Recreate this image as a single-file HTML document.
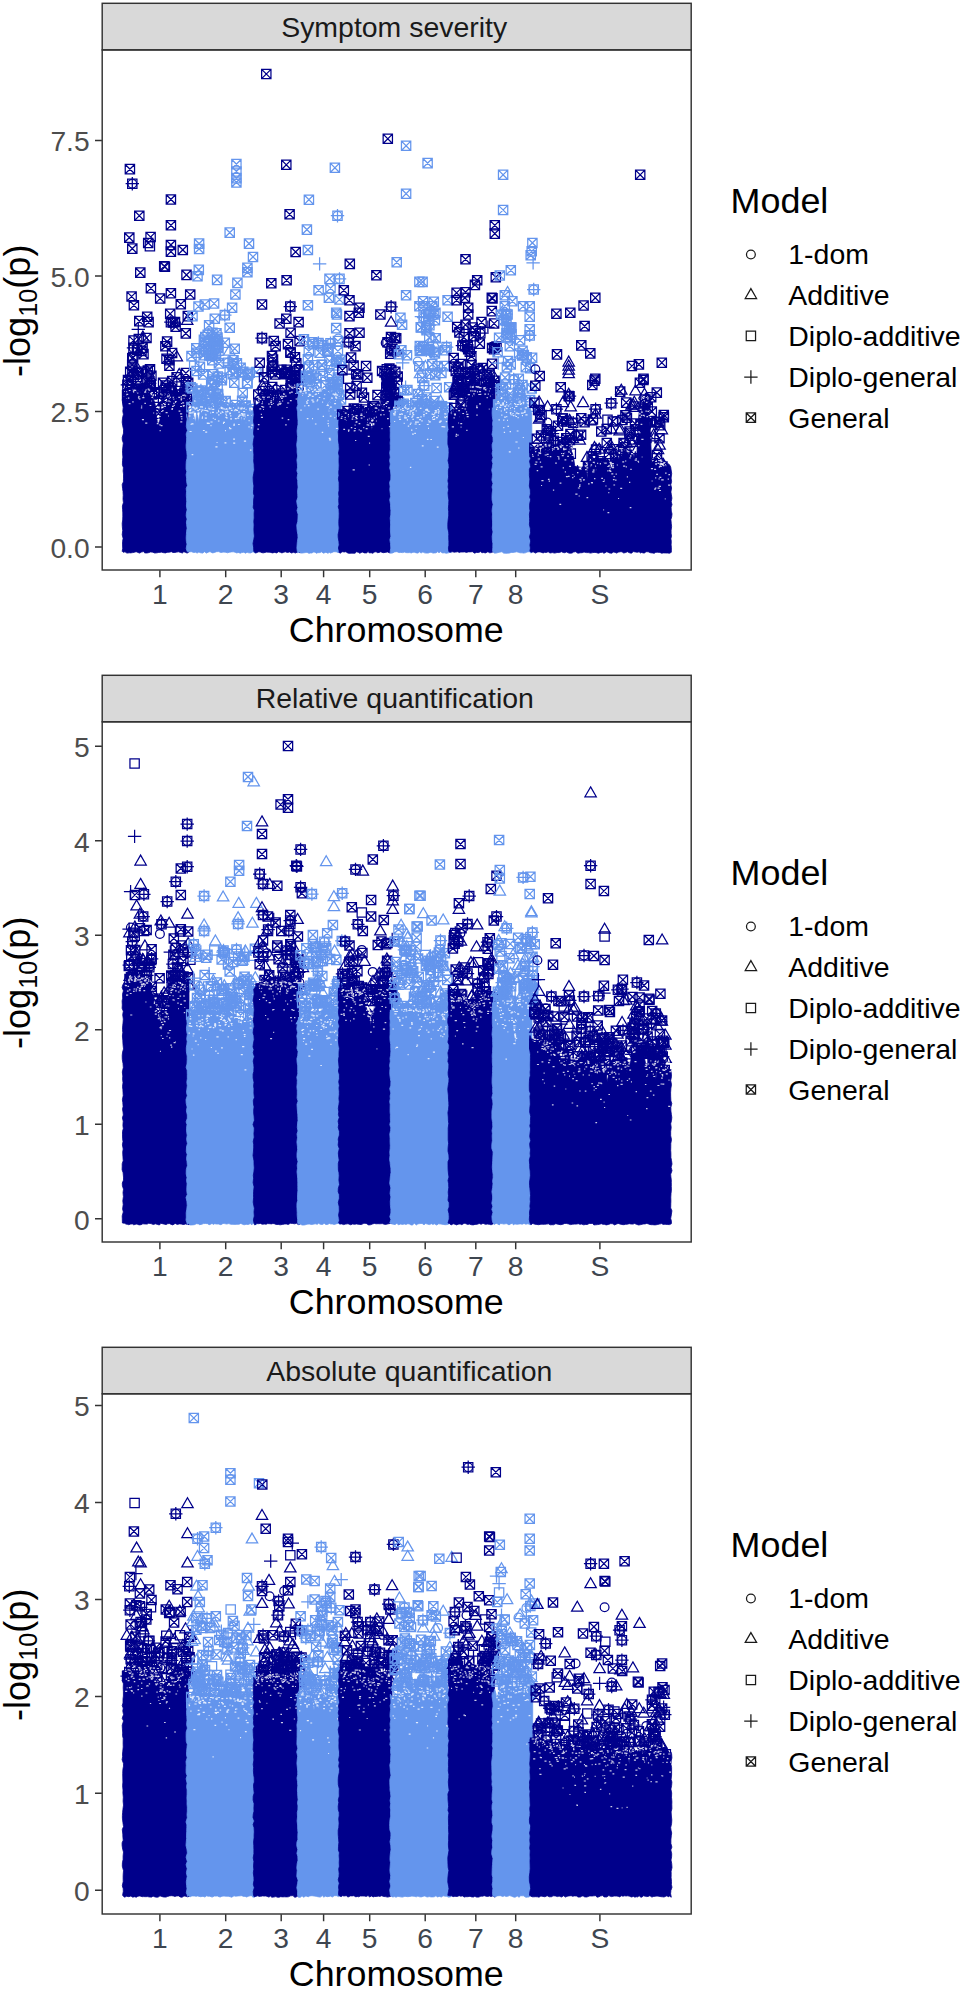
<!DOCTYPE html>
<html lang="en"><head><meta charset="utf-8"><title>Manhattan plots</title>
<style>html,body{margin:0;padding:0;background:#fff}body{width:962px;height:1990px;overflow:hidden}svg{display:block}text{font-family:'Liberation Sans', Arial, Helvetica, sans-serif}</style></head><body>
<svg width="962" height="1990" viewBox="0 0 962 1990">
<rect width="962" height="1990" fill="#fff"/>
<defs>
<path id="s" d="M-4.65-4.65h9.3v9.3h-9.3z"/>
<path id="g" d="M-4.65-4.65h9.3v9.3h-9.3zl9.3 9.3M-4.65 4.65l9.3-9.3"/>
<circle id="o" r="4.4"/>
<path id="t" d="M0-6.6L5.7 3.3H-5.7z"/>
<path id="p" d="M-6.7 0H6.7M0-6.7V6.7"/>
<g id="c"><use href="#s"/><use href="#o"/><use href="#p"/></g>
<g id="b"><use href="#g"/><use href="#g" x=".7" y=".6"/></g>
</defs>
<g id="p1">
<rect x="102.2" y="3.3" width="589.0" height="46.6" fill="#D9D9D9" stroke="#333333" stroke-width="1.45"/>
<text x="281.2" y="37.4" font-size="28.45" fill="#1A1A1A">Symptom severity</text>
<clipPath id="clip0"><rect x="102.2" y="49.9" width="589.0" height="520.1"/></clipPath>
<g clip-path="url(#clip0)" fill="none" stroke-width="1.25">
<path d="M122.2 551.3L122.7 548.3L122.5 544.1L122.6 541.3L123.1 538.4L122.2 534.7L122.7 530.5L122.3 526.4L122.2 523.3L122.7 520L122.8 516.2L122.8 512.9L122.6 509.8L122.4 506.1L123.4 502.6L123 499.1L123.2 495.3L123 491.4L122.6 488.7L122.2 484.6L123.4 481.8L123.5 478.1L123.5 474.1L123.1 471L123.4 467.8L122.4 464.8L122.5 460.6L122.9 457.1L122.6 453.9L122.5 450.7L122.9 446.7L123.3 443.1L122.3 440.1L122.2 437.6L123.5 433.1L123.5 429.2L122.7 425.7L122.2 422.2L122.5 418.2L123.4 414.3L122.8 411.3L123.2 407.5L122.6 403.7L122.3 400L122.8 397.3L123.7 396.9L125.2 395.2L126.9 400.7L128.1 394.9L129.2 391.8L130.1 393.9L131 394.3L132.5 391.1L133.7 394.4L135.1 393L136.9 393.7L137.8 398.1L139.2 400.3L140.3 394.4L142.1 395.9L143.2 397.6L144.9 391.7L146.7 391.6L147.7 393.2L148.9 396.2L150.6 395L152.4 398.3L154.1 400.7L155.2 404.7L156.6 418L158.3 425.3L159.6 418.1L160.6 413.2L161.7 409.5L163.4 410.1L164.3 408.4L165.3 405L166.5 408.9L167.5 400.5L168.8 402.4L170.2 403.2L171.9 401.1L173 401.6L174.7 401.2L176.4 401.3L177.4 401.9L179.2 398L180.1 402.2L181.7 398.5L183.1 402.7L184.8 400.2L186.6 401.3L188 402.3L189.4 551.7L187.1 553.1L185.2 552.2L183.8 551.7L182.4 553L180.5 552.4L178.4 551.8L176.8 552.1L175 552.4L173 552.5L171.4 551.7L169.3 552.2L167 552.3L165.7 552.9L163.6 552.7L161.2 552.1L159.6 552.5L158.3 552.5L157 552.8L154.7 553L152.7 552.2L150.7 551.9L148.4 552.7L146.8 553L144.8 552.9L143.4 551.6L141.4 552.1L139.6 553.1L137.3 552.2L136.1 551.7L134.3 552.3L132.7 552.6L130.5 552.9L129.3 552.8L126.9 553.1L125 551.8L123.2 552.3z" fill="#00008B" stroke="#00008B" stroke-width="0.8"/>
<g stroke="#00008B"><use href="#g" x="183.7" y="397.1"/><use href="#g" x="188.2" y="401.4"/><use href="#g" x="151.9" y="394.4"/><use href="#g" x="167.1" y="341.6"/><use href="#g" x="147.8" y="370.5"/><use href="#g" x="143.5" y="354.1"/><use href="#g" x="184.4" y="392.8"/><use href="#g" x="127.7" y="398.2"/><use href="#g" x="133.8" y="375"/><use href="#g" x="138.3" y="380.3"/><use href="#t" x="179.2" y="375.1"/><use href="#g" x="146.5" y="338"/><use href="#g" x="163" y="401.1"/><use href="#g" x="173.5" y="404"/><use href="#g" x="185.9" y="373.1"/><use href="#g" x="132.3" y="358.4"/><use href="#t" x="148.7" y="373.9"/><use href="#g" x="165.3" y="406.5"/><use href="#g" x="140.7" y="389.6"/><use href="#g" x="151.4" y="375.7"/><use href="#g" x="135.4" y="389.2"/><use href="#g" x="133.1" y="392.2"/><use href="#g" x="165.9" y="388.1"/><use href="#g" x="132.2" y="364.7"/><use href="#g" x="169.4" y="365.8"/><use href="#g" x="146.8" y="381.8"/><use href="#g" x="163.1" y="382.9"/><use href="#g" x="154.2" y="392.2"/><use href="#g" x="158.5" y="413.7"/><use href="#g" x="146.2" y="391.9"/><use href="#g" x="143.4" y="390.8"/><use href="#s" x="136.7" y="377"/><use href="#g" x="155.6" y="407.1"/><use href="#g" x="130.1" y="389.6"/><use href="#g" x="171.3" y="405.8"/><use href="#t" x="165.6" y="401.9"/><use href="#g" x="188.2" y="382.8"/><use href="#c" x="177.5" y="397.6"/><use href="#c" x="184.1" y="394.2"/><use href="#s" x="155" y="393.1"/><use href="#g" x="166.7" y="397"/><use href="#g" x="186.7" y="397.7"/><use href="#g" x="150" y="386.7"/><use href="#g" x="186.2" y="381.3"/><use href="#g" x="185.6" y="385.4"/><use href="#c" x="149.6" y="383.4"/><use href="#g" x="138.5" y="388.6"/><use href="#g" x="141.5" y="350.9"/><use href="#c" x="127.4" y="384.9"/><use href="#g" x="132.4" y="369.5"/><use href="#g" x="130.9" y="380.9"/><use href="#t" x="136.9" y="368.3"/><use href="#g" x="138" y="373.1"/><use href="#g" x="133.1" y="357.4"/><use href="#g" x="128" y="380.1"/><use href="#g" x="137" y="349.9"/><use href="#g" x="130.4" y="392.7"/><use href="#g" x="141.9" y="371.7"/><use href="#g" x="142.6" y="347.6"/><use href="#g" x="130.2" y="371.7"/><use href="#g" x="133.5" y="340.5"/><use href="#g" x="138.8" y="339"/><use href="#t" x="142.9" y="337.7"/><use href="#g" x="127.1" y="395.1"/><use href="#c" x="133.5" y="347.9"/><use href="#g" x="165.4" y="346.3"/><use href="#c" x="171" y="390.9"/><use href="#g" x="173.1" y="322.4"/><use href="#g" x="171.8" y="392.4"/><use href="#g" x="168.9" y="388.3"/><use href="#g" x="175" y="322"/><use href="#s" x="178.9" y="390.9"/><use href="#g" x="178" y="394.6"/><use href="#g" x="165.7" y="385.6"/><use href="#g" x="176.6" y="377.3"/><use href="#g" x="166.5" y="358.7"/><use href="#g" x="174.9" y="397.8"/><use href="#p" x="182.6" y="390.2"/><use href="#g" x="172.2" y="381.1"/><use href="#g" x="169.2" y="360.1"/><use href="#g" x="179.9" y="399"/><use href="#g" x="172.1" y="353"/><use href="#t" x="177.3" y="400"/><use href="#t" x="176.8" y="357.5"/><use href="#g" x="180.3" y="397.3"/><use href="#g" x="175.6" y="326.8"/><use href="#g" x="150" y="369.2"/><use href="#g" x="158.9" y="393.8"/><use href="#g" x="150.8" y="386.3"/><use href="#c" x="144.7" y="388.9"/><use href="#g" x="129.9" y="169.1"/><use href="#c" x="132.3" y="183.7"/><use href="#g" x="170.9" y="199.4"/><use href="#g" x="139.3" y="215.7"/><use href="#g" x="170.9" y="225.3"/><use href="#g" x="129.3" y="237.6"/><use href="#g" x="150.6" y="237"/><use href="#g" x="148.2" y="242.9"/><use href="#s" x="149.9" y="246.3"/><use href="#g" x="132.3" y="248.6"/><use href="#g" x="170.9" y="244.9"/><use href="#g" x="170.9" y="251.6"/><use href="#g" x="182.8" y="249.9"/><use href="#b" x="164.2" y="266.2"/><use href="#g" x="140.3" y="272.6"/><use href="#g" x="186.5" y="274.9"/><use href="#g" x="150.9" y="288.2"/><use href="#g" x="170.9" y="293.2"/><use href="#g" x="190.2" y="294.5"/><use href="#g" x="131.6" y="296.5"/><use href="#g" x="160.2" y="298.5"/><use href="#g" x="180.8" y="304.2"/><use href="#g" x="133.9" y="305.2"/><use href="#g" x="170.2" y="313.8"/><use href="#g" x="187.8" y="316.1"/><use href="#g" x="147.2" y="316.8"/><use href="#g" x="139.3" y="321.1"/><use href="#g" x="148.6" y="322.1"/><use href="#c" x="170.9" y="322.1"/><use href="#t" x="187.2" y="321.1"/><use href="#p" x="138.3" y="329.4"/><use href="#g" x="185.8" y="333.4"/></g>
<path d="M144.1 392.1h2.1M167.9 404.3h1.4M180 413.8h2.2M157.6 421.8h1.1M141.2 406.2h1M182.1 402.9h2M156.8 423.7h1.6M174.9 401.5h1.8M173.4 399.2h0.9M165.6 412.6h2M132.2 401.8h1.5M157.8 419.6h1.9M139.1 398.8h1.3M182.8 406.2h1.3M157.9 421h1.5M181.2 418.8h1.2M151.4 397.5h1.6M184.8 395.8h1.1M161.5 405h1.3M166.8 397h0.8M183.6 398.4h0.9M127.9 398.2h1.4M145.2 423.1h2.1M168 416h1M183.7 395.1h1.6M180.6 416.7h1.8M180.9 403.5h1M180.6 396.9h1.4M151.6 397.5h1.3M140.9 407.8h1.3M166.3 401.1h1.1M141.9 419.6h2.1M134.1 390.4h2.1M180.6 398.9h1.6M150.7 394.7h1.6M172 406.4h1.8M128.8 390.5h1.7M168 401h1.9M182.8 405.6h2M144.4 403.3h1.5M173.6 405.3h1.2M171.4 409.5h1.5M133.2 392.2h1M132.8 391.2h1.5M173.3 403.3h1.2M180.3 421.8h2M153.2 413h1M172.7 397.4h1.1M128.6 403.7h1.9M175.1 402.4h1M148.5 390.2h1.6M133.4 390.1h1.8M162.1 410.6h1.5M145.6 389.9h1.1M158.2 419h1.3M151.3 401h0.8M150.2 393.4h2.1M164 404.4h1.9M171.5 408.6h1.6M143.1 396h0.8M167 396.2h2.2M159.3 424.8h1.4M137.3 393.1h1M149.6 405.5h1.7M180.1 406.5h1.9M170 397.3h0.9M147.6 389.2h1.7M126.3 394.4h1.9M169 395.2h0.9M182.2 395.3h1.9M178.3 397.4h1.7M159.6 430.6h1.1M152.5 395.7h1.4M169.7 401.6h0.8M142.3 397.6h2.1M160.7 425.6h1.8M164.2 406.4h1.6M180.6 400h1.4M145.1 391h0.9M178.6 411.1h1.8M159.2 416.5h1.5M161.1 411.5h1.4M151.4 392.7h0.9" stroke="#fff" stroke-width="1.2" opacity=".8"/>
<path d="M187.1 551.3L186.2 548.4L187 544.1L186.4 541.5L186.2 538L186.4 534.3L186.6 531.2L187.1 528.2L186.6 524.6L186.4 521.9L187.1 519.1L186.2 515.9L186.4 513L187.1 509.8L186.4 506L186.7 501.6L186.6 498.9L186.3 495.6L186.5 491.4L186.2 488.4L187.4 485.6L186.6 481.4L186.6 478.1L186.1 474.8L186.8 471.7L186.1 469L186.1 465.1L186.3 461.2L187 458.3L187.1 455.7L186.8 451.7L186.2 448.4L186.1 445.1L186.6 441L186.6 437.6L186.2 434L187.4 430.5L186.3 426.4L186.7 422L187.2 419L186.5 416.2L186.7 413.7L188.3 423.4L189.8 413.1L190.9 413.8L192.4 409.1L193.7 415.4L195.6 422.5L196.8 410.3L198.6 422L200.2 411.3L202.1 409.5L203.5 409.2L204.8 414.8L206.4 413.7L207.6 409.6L208.9 413.8L210.8 413.9L212.1 412.8L213.5 411.6L215 412.8L216.2 411.9L218 410.5L219.8 411.4L221.6 415.7L223.1 411.5L224.6 415.5L225.8 413.4L227.2 411.4L228.2 415.4L229.9 415.8L231.5 411.2L233.4 416.1L234.9 412.4L236.3 420.8L237.3 410.2L239.1 411.3L240.4 414.3L241.4 423.4L242.4 411.5L243.8 411L245.1 416.7L246 423.7L247.3 416.4L248.4 415.2L249.6 412.1L251.1 417L252.1 416.8L253.7 410.9L255 412.2L256.4 551.8L255.1 553L253 551.7L250.8 552.9L248.7 552.8L247.1 552.2L245.5 553.2L243.9 552.2L241.7 552.6L240.3 553.2L238.1 552.4L236.9 553L235.1 552.2L233.3 551.8L231.4 551.9L229.2 552.3L227.5 552.8L225.9 552.3L223.8 552.1L222.4 552.3L220.8 552.5L218.5 551.6L216.6 551.7L214.9 552.3L212.8 552.9L211.4 552.4L210 551.6L208.1 552.2L206.5 553.1L204.4 551.7L202.7 553.1L200.4 552.7L198.9 552L197.1 553.1L195.6 552.2L193.7 552.5L191.5 551.7L189.2 551.8L187.9 552.1z" fill="#6495ED" stroke="#6495ED" stroke-width="0.8"/>
<g stroke="#6495ED"><use href="#g" x="199.4" y="391.5"/><use href="#s" x="247.1" y="383.3"/><use href="#g" x="221.5" y="409.1"/><use href="#g" x="233.6" y="413.6"/><use href="#g" x="233.3" y="414.8"/><use href="#g" x="222.2" y="401.8"/><use href="#g" x="217.2" y="414.3"/><use href="#g" x="252.2" y="411.6"/><use href="#g" x="218" y="393.9"/><use href="#g" x="218.5" y="398.7"/><use href="#g" x="213.4" y="392.8"/><use href="#g" x="213.2" y="413"/><use href="#c" x="228.6" y="416.7"/><use href="#g" x="247.7" y="374.9"/><use href="#s" x="244.8" y="417.1"/><use href="#c" x="207.2" y="417.2"/><use href="#c" x="211.9" y="354.7"/><use href="#g" x="247.6" y="383.1"/><use href="#g" x="197.8" y="392.3"/><use href="#g" x="254.2" y="408.9"/><use href="#g" x="243.9" y="410.1"/><use href="#g" x="236.3" y="408.2"/><use href="#s" x="215.6" y="406.5"/><use href="#s" x="194.2" y="365.8"/><use href="#g" x="249.4" y="416.4"/><use href="#g" x="200.7" y="401.1"/><use href="#g" x="201.6" y="404.5"/><use href="#o" x="210.4" y="417.5"/><use href="#s" x="197.8" y="400.6"/><use href="#g" x="227.7" y="407.7"/><use href="#p" x="220.2" y="418"/><use href="#g" x="204.3" y="406.8"/><use href="#g" x="196.3" y="348.4"/><use href="#g" x="243.3" y="371.9"/><use href="#g" x="225.7" y="401.1"/><use href="#g" x="242" y="415.5"/><use href="#g" x="212.6" y="414.1"/><use href="#c" x="200.9" y="390.4"/><use href="#g" x="197.7" y="394.9"/><use href="#g" x="242.1" y="400.7"/><use href="#g" x="211.2" y="384.9"/><use href="#t" x="229.3" y="351.7"/><use href="#g" x="211.8" y="385.3"/><use href="#g" x="232.8" y="374.1"/><use href="#g" x="209.6" y="395.2"/><use href="#g" x="248.4" y="374.3"/><use href="#g" x="245.7" y="405.5"/><use href="#g" x="217.5" y="337.6"/><use href="#g" x="207.7" y="334.8"/><use href="#g" x="215.5" y="354"/><use href="#g" x="203.9" y="339.8"/><use href="#o" x="218.3" y="345.1"/><use href="#g" x="212.9" y="341.6"/><use href="#g" x="208" y="348.9"/><use href="#g" x="211.1" y="356"/><use href="#c" x="217.5" y="341.1"/><use href="#g" x="216.5" y="333.4"/><use href="#g" x="209.2" y="355.5"/><use href="#t" x="213.9" y="338.1"/><use href="#g" x="218.2" y="343.9"/><use href="#g" x="203.7" y="349.4"/><use href="#g" x="210.7" y="353.4"/><use href="#g" x="205.3" y="337"/><use href="#g" x="214.9" y="345.3"/><use href="#s" x="218.5" y="350.7"/><use href="#g" x="204.6" y="341.8"/><use href="#g" x="207.9" y="343.6"/><use href="#g" x="212.5" y="332.9"/><use href="#g" x="203.7" y="355.3"/><use href="#g" x="206.5" y="351.1"/><use href="#g" x="215.5" y="355.6"/><use href="#g" x="217.7" y="347.7"/><use href="#g" x="216.1" y="355.8"/><use href="#g" x="217.2" y="345.3"/><use href="#g" x="214.8" y="339.1"/><use href="#g" x="203.1" y="374.4"/><use href="#g" x="218.9" y="363.4"/><use href="#g" x="217.6" y="387.5"/><use href="#g" x="190.8" y="387.3"/><use href="#c" x="227.9" y="362.9"/><use href="#g" x="235" y="404.9"/><use href="#g" x="221.8" y="380.1"/><use href="#g" x="191.4" y="407.1"/><use href="#g" x="216" y="398.1"/><use href="#g" x="239" y="409.7"/><use href="#g" x="211.4" y="405.8"/><use href="#c" x="217.7" y="376.5"/><use href="#g" x="196.6" y="407.3"/><use href="#g" x="221.9" y="377.7"/><use href="#g" x="192.4" y="388.5"/><use href="#p" x="209.8" y="405.2"/><use href="#g" x="203.4" y="403.8"/><use href="#g" x="221.7" y="412"/><use href="#g" x="231.7" y="411"/><use href="#g" x="212.3" y="360.2"/><use href="#g" x="233.5" y="360.2"/><use href="#g" x="198.4" y="402.3"/><use href="#c" x="220.2" y="407.7"/><use href="#g" x="233.7" y="364.3"/><use href="#g" x="234.3" y="382.7"/><use href="#g" x="199.9" y="366.9"/><use href="#g" x="235.9" y="372.2"/><use href="#g" x="214.7" y="381.6"/><use href="#g" x="202.1" y="400.4"/><use href="#g" x="212.2" y="379.5"/><use href="#g" x="211.4" y="397.4"/><use href="#g" x="218" y="394.7"/><use href="#g" x="236.9" y="363.4"/><use href="#g" x="208" y="392.3"/><use href="#g" x="209.7" y="404.3"/><use href="#g" x="242.7" y="393"/><use href="#g" x="244.3" y="405.9"/><use href="#g" x="241.5" y="372.5"/><use href="#g" x="240.6" y="367.7"/><use href="#g" x="236.4" y="164.1"/><use href="#g" x="236.4" y="171.4"/><use href="#g" x="236.4" y="178.1"/><use href="#g" x="236.4" y="182.4"/><use href="#g" x="229.7" y="232.6"/><use href="#g" x="249" y="243.6"/><use href="#g" x="199.1" y="243.6"/><use href="#g" x="199.1" y="248.9"/><use href="#g" x="253" y="256.9"/><use href="#g" x="247.4" y="267.9"/><use href="#g" x="247.4" y="272.2"/><use href="#g" x="198.8" y="269.9"/><use href="#g" x="197.5" y="276.2"/><use href="#g" x="217.1" y="279.9"/><use href="#g" x="237.4" y="282.9"/><use href="#g" x="235.4" y="294.5"/><use href="#g" x="214.1" y="303.5"/><use href="#g" x="204.8" y="304.5"/><use href="#g" x="198.5" y="306.5"/><use href="#g" x="232.1" y="307.8"/><use href="#c" x="224.8" y="315.1"/><use href="#g" x="192.5" y="316.1"/><use href="#g" x="209.1" y="325.4"/><use href="#g" x="214.8" y="318.8"/><use href="#g" x="229.7" y="327.8"/><use href="#g" x="224.8" y="342.7"/><use href="#g" x="234.7" y="348.7"/><use href="#g" x="196.5" y="352.7"/><use href="#g" x="191.5" y="356.1"/><use href="#g" x="229.7" y="370"/><use href="#g" x="249.7" y="372.7"/><use href="#g" x="256.4" y="372"/><use href="#g" x="196.5" y="371"/><use href="#g" x="213.1" y="374.4"/></g>
<path d="M249.1 408.3h2M234.8 418.6h2M202.9 430.5h1.8M238.9 415.2h2M226.2 408.6h1.1M210.4 412.9h0.8M223.1 422.3h1.9M212 412.4h2M208.8 408.9h1.4M189.4 413.2h1.5M225.2 411.8h2.1M230.1 415.9h1.3M234.7 409.7h1.9M248.6 420.7h1M233.2 443.1h2M248.4 426.9h1.3M226.3 415.5h0.9M247 415.3h1.7M240.9 413.7h1.9M192.3 412h2.2M250.8 427.9h1.4M233.2 439.1h1.7M227 411.6h1.5M195.5 408.5h1.9M206.7 423.1h2M233.2 425.2h1.8M243.4 408.6h1.2M249.1 409.9h1.5M243.7 418.9h1M191.6 454.7h1.7M212.8 418.4h0.9M229 427.7h1.2M207.4 411.4h1M226 417.8h1.6M229.5 413.3h1.5M191.1 412.9h1.6M190.6 424.4h0.9M216.6 442.5h0.9M204.8 418.2h2.1M244.6 414h0.8M222.9 423.3h1.1M243.1 411.5h2M230.9 410.4h1.7M223.4 409h1.8M191.5 423.7h0.9M225 430.6h0.9M191.4 409h0.8M214.5 419.3h1.3M210.5 425.7h1M218 411.7h1.3M233.7 424.1h1M218 410.4h0.8M218.1 414.9h1.4M249.9 450.1h1.6M235.8 410.4h2.2M206.1 410.7h1.5M225.8 415h1M192.2 407.2h2M240.5 408.1h1.3M238.3 412.2h1.5M234.2 410.7h1.1M238.1 424.5h1.6M241.5 415.2h1.6M220.7 408.4h1.7M215.4 446.8h2.1M193.4 418.3h0.9M238 416.3h1.7M210.5 422h2.1M201.4 410.2h2M204.9 408.4h1M220.9 407.8h1.8M220.2 413.3h1.1M198.9 409.6h1.4M221.6 411.8h1.5M205.3 414.9h1.3M191.5 423.8h2M222.5 408.1h0.8M251.4 425.1h1.7M201.1 411.7h1M241.7 414.2h2.2M220.2 413h1.2M237.2 418.2h1.9M196 407.9h1.5M222.2 412.5h1.3M200.9 406.8h2M229.5 408.4h2M216.4 412.9h1.2M225.5 409.3h1.2M242.7 415.9h2.1M238.3 418h0.9M225.2 414h1.3M207.9 423.3h1.9M207.1 423.3h1M200 406.9h1.7M241 408h2.1M210.4 409h1.3M240.2 408.8h2M224.5 442.9h1.9M243.8 414.2h1.2M225.4 417.4h1.6M202.1 416.8h0.8M196.9 414h1.4M188.4 416h2.1M201.7 418.1h1.3M229.4 428.7h2M229.2 413.1h1.4M237.6 408.2h1.7M228.8 408.6h1.8M205.2 432.2h2M217.9 421h1.6M230.2 418.9h1.8M243.9 441.1h2.2M220.6 407.3h1.3M191.2 413h1.5M189.2 406.6h1.9M212.2 409.4h2.1M208.4 408.4h0.9M194.5 409.1h1.2M251.4 410h1.2M189.6 431.5h2" stroke="#fff" stroke-width="1.2" opacity=".8"/>
<path d="M253.8 551.3L253.6 547.2L253 543.5L253.8 539.4L254.4 536.1L254 532.5L253.9 528.9L254.1 525L253.8 521.4L254.2 517.9L254.1 513.5L254.4 510.2L253.2 507.4L253.5 504.3L253.6 500.1L254.2 495.7L253.4 493.2L253.6 489.6L253.9 485.9L253.3 481.9L253.1 477.5L253.7 473.6L254.4 469.8L254.2 467L254.1 464.5L253.7 461L253.8 458.4L253.9 454.8L253.6 450.9L253.7 447.8L253.1 444.3L253.5 440.6L254.3 436.4L253.5 433.7L253.8 429.7L254.3 425.3L253.5 421.7L253.7 418.5L254.1 414.8L253.8 411.3L253.5 407.9L254.3 404.5L253.7 399.6L254.6 405.5L256.5 405.1L258.3 405.8L259.3 404.2L260.3 401.6L262 402.1L263.8 404.3L265 404.7L266.3 402.6L267.2 405.1L268.1 400.6L269.2 405.1L270.4 400.2L272.1 403.5L273.7 408.1L275.1 399.9L276.9 400.5L278.6 406.1L279.7 399.9L281.5 401.3L283 397.3L284.7 390L286.5 393.2L287.7 394.7L289.5 389.1L290.5 391.1L291.5 394L292.6 388.8L293.7 389.4L294.6 388.8L296.5 392.1L297.9 389.1L299.5 390.4L300.1 553.1L298.9 551.7L297 552.3L295.4 553L293.7 552.3L291.3 553L289.8 551.9L287.4 552.5L285.3 551.8L283.7 552.3L281.9 552.9L280.4 552.3L278.5 551.7L276.7 552.9L274.7 552.4L272.4 552.9L270 552.2L268.6 552.3L266.7 552.1L265.1 552.4L263.7 552.8L261.9 552.7L260.3 552L258.8 551.8L257.2 552.4L255.5 553.1z" fill="#00008B" stroke="#00008B" stroke-width="0.8"/>
<g stroke="#00008B"><use href="#g" x="264.6" y="405.8"/><use href="#s" x="280.1" y="395.5"/><use href="#g" x="294.2" y="375.1"/><use href="#g" x="281.4" y="369.8"/><use href="#o" x="276.1" y="389.4"/><use href="#c" x="275.3" y="404.4"/><use href="#g" x="269.8" y="401.8"/><use href="#g" x="291.1" y="389.8"/><use href="#g" x="258.3" y="394.5"/><use href="#g" x="259.8" y="402.9"/><use href="#g" x="285" y="374.1"/><use href="#s" x="292" y="383.5"/><use href="#g" x="268.6" y="397.5"/><use href="#g" x="298.6" y="386.4"/><use href="#g" x="271.6" y="372.1"/><use href="#g" x="286.7" y="369.7"/><use href="#g" x="277.5" y="395.7"/><use href="#g" x="269" y="394.9"/><use href="#g" x="294.6" y="395"/><use href="#g" x="299.5" y="377.4"/><use href="#g" x="282.4" y="393.5"/><use href="#g" x="264" y="377.3"/><use href="#g" x="272.2" y="387.1"/><use href="#g" x="263" y="391"/><use href="#g" x="264.6" y="398.3"/><use href="#s" x="268.8" y="391.3"/><use href="#t" x="262.4" y="386.4"/><use href="#s" x="273.5" y="397.7"/><use href="#g" x="290.4" y="388.1"/><use href="#g" x="265.3" y="402.7"/><use href="#g" x="296.4" y="376.5"/><use href="#g" x="267.3" y="405.3"/><use href="#g" x="295.6" y="376.1"/><use href="#g" x="284.6" y="373.8"/><use href="#g" x="292.8" y="393"/><use href="#g" x="295" y="357.4"/><use href="#g" x="296.2" y="399.4"/><use href="#t" x="292" y="379.1"/><use href="#s" x="299.6" y="396.5"/><use href="#g" x="296.3" y="363.4"/><use href="#g" x="286.1" y="372.9"/><use href="#g" x="290.7" y="376.8"/><use href="#g" x="295" y="379.9"/><use href="#g" x="272.2" y="366.8"/><use href="#g" x="273.4" y="395.4"/><use href="#g" x="285.1" y="390"/><use href="#g" x="273.8" y="341"/><use href="#g" x="290.5" y="352.2"/><use href="#g" x="266.2" y="400"/><use href="#g" x="273" y="359.5"/><use href="#p" x="262.9" y="373"/><use href="#o" x="265.1" y="387.6"/><use href="#g" x="275" y="374.4"/><use href="#g" x="266.3" y="74"/><use href="#g" x="286.3" y="164.8"/><use href="#g" x="289.6" y="214.3"/><use href="#g" x="295.6" y="251.9"/><use href="#g" x="286.6" y="280.2"/><use href="#g" x="271.3" y="283.2"/><use href="#g" x="262" y="304.5"/><use href="#c" x="290.3" y="306.5"/><use href="#g" x="286.3" y="318.8"/><use href="#g" x="279.6" y="323.5"/><use href="#g" x="298.6" y="322.1"/><use href="#g" x="290.6" y="332.8"/><use href="#c" x="262" y="338.1"/><use href="#g" x="288" y="344.1"/><use href="#g" x="275.6" y="346.1"/><use href="#g" x="299.6" y="341.1"/><use href="#g" x="290.6" y="352.7"/><use href="#g" x="272" y="356.1"/><use href="#g" x="259.7" y="362.7"/><use href="#c" x="273" y="366"/><use href="#b" x="298.9" y="369.4"/><use href="#g" x="288" y="372"/></g>
<path d="M291.6 388.2h1.9M279.2 404.2h1.9M280.3 403.5h1M263.4 399.1h1.1M268.2 397.2h1.6M293.7 387.4h1.6M282.2 396.6h2.1M295.9 388.5h1.5M259.8 399.3h1.5M289.5 386.6h0.8M289 392.9h1.9M273 397.9h1.2M259.3 408.9h1.9M290.9 387.3h1.9M260.8 414.3h1.1M278.7 404.1h2.2M269.6 406.9h1.4M257.4 429.2h1.4M262.3 407.1h1.9M267.2 397.3h0.8M268.1 404h1.7M262.1 397.2h1.4M283 394.2h2.1M258.4 402.2h1.2M262 401.8h0.9M284.5 388.9h1.2M285.2 424.9h1.5M260.9 417.4h2.1M294.1 385.2h1.2M286.5 407.5h1M279.2 401.6h1.2M272.9 399.6h0.9M287.1 403h2.1M289.9 400.7h1.8M290.9 392.2h1.9M282 401h1.2M261.5 403.7h1.2M279.4 403.4h2.1M257.9 424.7h1.6M270.9 404.5h1.6M261.2 406.5h1.7M258.1 398.6h2M295.6 399h1.9M270.3 402.7h1.8M270.5 400.9h1.6M295.3 393.5h0.9M287.7 419.7h1.6M263.1 409.5h0.9M294.5 387.1h1.2M284.8 396.2h1.8M263.3 397.4h1.5M281 398.3h1.8M287.1 388.8h2.1M281.7 418.2h1.5M288.7 385.7h1.4M277.1 404.8h1.9" stroke="#fff" stroke-width="1.2" opacity=".8"/>
<path d="M297.3 551.3L296.9 548.1L297.1 544.9L297.4 541.7L298 537.7L297.9 534.8L297.2 530.8L296.9 527.7L296.8 525L297.8 521.3L298 518L298.1 514.3L297 510.5L297.9 507.6L297.1 504L296.7 501L297.9 497.1L297.7 494.5L297.6 491L298.1 487.1L297.8 483.9L297.7 480.4L297.1 477.9L297.8 473.5L296.9 470.8L297.5 467.3L297.4 464.2L296.9 459.9L297.7 456L297.1 452.4L297.1 448.9L296.7 444.6L297.3 440.4L297.6 436.7L297.3 433.9L297.1 431L297.4 428.2L298 424.4L298 420.6L297.7 416.1L297.6 411.8L296.8 407.7L297.9 404.8L297.4 399.1L298.9 393.8L300.8 396.9L302.3 396.1L303.4 396.1L304.9 397.6L306.8 391.8L308.1 393.1L309 396.4L309.9 392.3L311.4 394.2L312.4 394.6L313.9 395L315.6 395.1L316.6 399.7L318.2 395.2L319.5 392.3L320.8 400.2L321.9 393.2L323.4 398.5L324.5 395.1L325.6 395.4L327.3 402.4L329.2 414.4L330.2 406.6L331.2 403.1L332.4 399.9L333.7 402.4L335.1 401.3L336.7 401L338 398.2L339.4 400.5L341 400.5L341.5 551.6L340.1 552L337.8 552.4L336.2 551.8L333.9 551.7L332 552.4L330.5 553.1L329.2 552.3L328 553.3L325.9 552.2L323.6 553.2L321.4 551.8L320.1 552.6L317.8 552.7L316.4 553.3L315.1 552.2L313.7 552L311.8 553L310.5 553L308.9 553.3L307 552.3L305.2 552.6L303 552.9L301.4 553.1L299.1 551.9L297.8 553z" fill="#6495ED" stroke="#6495ED" stroke-width="0.8"/>
<g stroke="#6495ED"><use href="#g" x="301.6" y="388.8"/><use href="#g" x="341" y="399.5"/><use href="#c" x="330.5" y="343.3"/><use href="#g" x="315.7" y="394.1"/><use href="#c" x="323.2" y="345.4"/><use href="#g" x="316.3" y="378.2"/><use href="#g" x="306.3" y="380.3"/><use href="#g" x="316.4" y="395.9"/><use href="#g" x="322.1" y="365.1"/><use href="#g" x="327.8" y="407.9"/><use href="#t" x="315.9" y="389"/><use href="#s" x="309.6" y="396"/><use href="#g" x="303.4" y="399.3"/><use href="#g" x="308.9" y="366.9"/><use href="#t" x="336.8" y="403.1"/><use href="#g" x="336.5" y="360.6"/><use href="#s" x="310.8" y="398.7"/><use href="#t" x="334.8" y="402.8"/><use href="#p" x="331" y="394.4"/><use href="#g" x="312.4" y="342.2"/><use href="#g" x="312.9" y="398.9"/><use href="#o" x="338.3" y="338.6"/><use href="#g" x="332.7" y="382.2"/><use href="#t" x="330.2" y="404"/><use href="#g" x="333.5" y="384.9"/><use href="#g" x="341.3" y="359.9"/><use href="#g" x="317" y="397.3"/><use href="#g" x="336.8" y="392.9"/><use href="#g" x="337.9" y="377.5"/><use href="#g" x="309.9" y="381.8"/><use href="#c" x="318.4" y="343"/><use href="#g" x="304.8" y="396.3"/><use href="#g" x="308.8" y="351.1"/><use href="#t" x="331.6" y="384.3"/><use href="#g" x="332.2" y="399.9"/><use href="#g" x="337.8" y="388.9"/><use href="#g" x="332" y="393.5"/><use href="#g" x="308.4" y="396.6"/><use href="#g" x="327.2" y="350.6"/><use href="#t" x="333.4" y="366.7"/><use href="#g" x="312.2" y="375.6"/><use href="#g" x="336.4" y="362.2"/><use href="#g" x="338.2" y="378.9"/><use href="#g" x="329.4" y="373.2"/><use href="#g" x="316.5" y="384.2"/><use href="#p" x="310.9" y="394.3"/><use href="#g" x="319.7" y="395.3"/><use href="#g" x="322.9" y="376.3"/><use href="#g" x="328.4" y="398.6"/><use href="#g" x="311.8" y="391.5"/><use href="#g" x="328.2" y="399"/><use href="#g" x="324.5" y="396.7"/><use href="#g" x="334.9" y="389.9"/><use href="#g" x="320.3" y="394.2"/><use href="#g" x="308.4" y="377.3"/><use href="#g" x="321.9" y="395.3"/><use href="#g" x="318.1" y="399.8"/><use href="#g" x="330.7" y="384.4"/><use href="#g" x="321.8" y="364.7"/><use href="#g" x="314.3" y="365.2"/><use href="#g" x="305.9" y="375.9"/><use href="#g" x="310.6" y="378.4"/><use href="#g" x="337.6" y="382.1"/><use href="#g" x="325.5" y="385.4"/><use href="#g" x="339.1" y="394.8"/><use href="#c" x="323.6" y="397.3"/><use href="#g" x="334.9" y="167.8"/><use href="#g" x="308.9" y="199.7"/><use href="#c" x="337.5" y="215.7"/><use href="#g" x="306.9" y="229.6"/><use href="#g" x="307.9" y="249.9"/><use href="#p" x="319.6" y="263.9"/><use href="#g" x="329.5" y="278.9"/><use href="#c" x="339.5" y="278.9"/><use href="#g" x="318.6" y="290.2"/><use href="#g" x="330.5" y="288.2"/><use href="#g" x="328.9" y="297.8"/><use href="#g" x="339.5" y="299.5"/><use href="#g" x="307.9" y="305.2"/><use href="#g" x="336.2" y="312.8"/><use href="#g" x="336.9" y="314.5"/><use href="#g" x="336.2" y="328.1"/><use href="#g" x="303.9" y="339.4"/><use href="#g" x="312.9" y="344.1"/><use href="#g" x="337.9" y="341.1"/><use href="#g" x="327.9" y="349.4"/><use href="#g" x="319.6" y="352.7"/><use href="#g" x="337.9" y="351.1"/><use href="#g" x="307.9" y="359.4"/><use href="#g" x="329.5" y="361"/><use href="#g" x="339.5" y="362.7"/></g>
<path d="M319.4 389.2h1.6M300.3 391.8h1.1M329.8 407.1h2M327.5 423.7h1.3M336 397.9h1.2M333.9 394.9h2M334.1 403.6h2M334.6 403.6h1.3M323.5 398.6h1.1M327.3 404.3h1M322.7 416.3h1.3M319.8 390.8h1.8M317.4 409.2h1.4M308.7 395.4h1.1M334.6 410.2h0.9M300 390.8h2.1M304.9 390.3h1M326.5 405.5h2M313.9 389.9h1.9M321.5 389.2h1.2M335 397.2h1.7M335.6 398.2h1.6M327.7 420.9h0.9M329 439.8h2.1M334.4 394.4h2M311.8 396.3h1.9M304.3 405.9h1.1M318.8 397.5h1.5M309.1 395.2h2.1M304.5 390.1h0.9M312 391.7h1.5M318.2 389.5h1.1M317.5 391.5h1.9M335.1 393.8h1.4M329.8 416.2h1.7M316.5 401h1.2M322.2 402.2h0.9M312.3 401.8h2M317 399.9h1.3M306.3 401.6h1.1M312 418.7h1M305.2 392.9h1.6M311 389.1h1.4M307.9 405.7h1.6M311.4 400.1h2.1M334.4 417.6h0.9M300.3 410.1h1.4M315.2 394.1h1.9M336.4 416.1h1.6M321.8 432.3h1.4M308.6 394.3h1.9M299.1 391.8h2.1M331.1 398.2h1.8M306.2 403.2h1.9M315.8 391.3h1.8M304 391h2M328.1 425.9h1M328.8 438.4h1.8M335.9 428.5h2M318.1 393.3h1M306.8 418.7h1.6M307.8 396.5h1.4M303.4 391.3h0.9M304.6 390.7h1.9M336.6 412.5h1.1M318.5 390.9h1.8M324.3 394.7h1M332.6 394.2h1.7M307.2 400.4h1.4M314.5 389.4h1.6M314.7 394.7h0.8M336.3 395.2h1.8M314.9 424h1.6M302.5 393.7h0.9" stroke="#fff" stroke-width="1.2" opacity=".8"/>
<path d="M339.2 551.3L338.4 548L339.2 544.9L338.9 541.5L338.2 537.3L338.1 534.5L338.7 531.9L339.2 528L338.9 525L338.8 521.5L339.1 517.3L339.2 513.7L339 509.4L338.2 506.8L339 504.3L338.7 500.3L339 496.3L338.6 493.2L339.1 490.3L339.1 486.6L339.1 482.5L338.4 478.8L339 475.4L338.7 472.4L339 469.6L339.2 465.2L339 462L339 459.1L339.2 456L338.5 453L339.3 448.9L339 444.5L338.4 440L338.5 436L338.2 431.8L339.1 429L338.7 425.2L338.8 421L340 416.4L341.1 417.7L342.1 423.1L343.9 417.2L345.6 420.6L346.6 423.6L348.2 417.9L349.2 419.5L351.1 417L352.9 420.1L354.2 419.9L356 420.7L357.1 419.7L358.4 416L360.3 422L361.6 415.6L363 417.5L364.8 421.1L366.2 423.5L367.9 425.5L369.2 422.8L370.6 424.8L371.9 429.5L373.6 418.4L375.3 407L376.3 410.8L377.9 412.6L379.4 407.2L381.2 414.2L382.4 408.1L383.6 409.7L385.4 406.6L387.1 405.7L388 404L389.5 407.1L390.9 406.8L392.4 406.3L393 551.7L391.2 552.5L389.3 552.8L387.4 551.9L385.4 552.4L383.1 552.7L380.7 551.8L379.2 552.4L377.7 552.7L376 551.7L374.5 552.1L372.6 553.3L371.1 552.7L369.4 553L368.1 551.6L366.5 552.9L364.4 552.9L362.2 552L359.8 553.3L358.3 552.3L356.5 551.8L355 553.2L352.9 553.2L351.2 553.2L349 553.3L347.6 552.9L345.9 551.7L344.4 552L342.1 551.7L340.3 553.2L338.8 552.3z" fill="#00008B" stroke="#00008B" stroke-width="0.8"/>
<g stroke="#00008B"><use href="#g" x="386.3" y="387.4"/><use href="#c" x="347.2" y="422.9"/><use href="#g" x="390.1" y="392.3"/><use href="#g" x="353.8" y="408.4"/><use href="#g" x="353.6" y="365.5"/><use href="#g" x="391.2" y="409.6"/><use href="#g" x="356.6" y="386"/><use href="#p" x="363.6" y="416.8"/><use href="#t" x="372" y="427.9"/><use href="#t" x="387.7" y="402.5"/><use href="#g" x="354.3" y="413.4"/><use href="#g" x="350.2" y="394.4"/><use href="#g" x="347.5" y="411.1"/><use href="#s" x="348.2" y="378.8"/><use href="#g" x="351.1" y="357.6"/><use href="#t" x="372.1" y="422.9"/><use href="#g" x="361.8" y="421.4"/><use href="#g" x="357.4" y="411.3"/><use href="#g" x="384.5" y="372.5"/><use href="#s" x="381.2" y="411.8"/><use href="#g" x="358.7" y="416.7"/><use href="#g" x="374" y="406.2"/><use href="#g" x="367.3" y="377.7"/><use href="#g" x="345.4" y="414.9"/><use href="#t" x="388.1" y="391.2"/><use href="#g" x="355" y="417.4"/><use href="#g" x="362.1" y="417.8"/><use href="#g" x="376.3" y="411.2"/><use href="#c" x="391.4" y="389.5"/><use href="#g" x="374" y="412"/><use href="#g" x="356.9" y="409.1"/><use href="#g" x="377.5" y="395.1"/><use href="#g" x="365.6" y="419.5"/><use href="#g" x="385.6" y="398.8"/><use href="#g" x="363" y="413.4"/><use href="#g" x="391.5" y="380.9"/><use href="#g" x="394.4" y="351.1"/><use href="#c" x="389.8" y="381.3"/><use href="#g" x="391.3" y="370.1"/><use href="#o" x="385.7" y="342.9"/><use href="#g" x="394.4" y="401.2"/><use href="#g" x="389.4" y="368.6"/><use href="#p" x="393.6" y="400.4"/><use href="#c" x="388.9" y="385.3"/><use href="#g" x="391.5" y="349.4"/><use href="#t" x="397.5" y="402.8"/><use href="#g" x="390.2" y="353.6"/><use href="#g" x="395.3" y="371.9"/><use href="#g" x="394.7" y="397.8"/><use href="#g" x="386.7" y="383.5"/><use href="#g" x="390.3" y="401"/><use href="#g" x="392.8" y="402.9"/><use href="#s" x="386.8" y="369.4"/><use href="#g" x="387.2" y="378.9"/><use href="#g" x="394" y="392.5"/><use href="#g" x="395.8" y="397.7"/><use href="#g" x="396.2" y="338.3"/><use href="#g" x="391" y="337.1"/><use href="#g" x="386.2" y="374.4"/><use href="#g" x="387.5" y="342.3"/><use href="#g" x="397.7" y="376.5"/><use href="#g" x="387.8" y="382.8"/><use href="#g" x="388.6" y="398.6"/><use href="#g" x="397" y="382.6"/><use href="#t" x="390.4" y="383.7"/><use href="#g" x="397.7" y="400.7"/><use href="#g" x="394.8" y="338"/><use href="#t" x="396.8" y="350.8"/><use href="#g" x="386.5" y="404"/><use href="#g" x="388.3" y="387"/><use href="#g" x="385.8" y="395"/><use href="#g" x="375.6" y="411.7"/><use href="#g" x="350.2" y="387.9"/><use href="#g" x="372.4" y="407.8"/><use href="#g" x="361.9" y="392.7"/><use href="#g" x="365" y="409.5"/><use href="#g" x="359.1" y="411"/><use href="#g" x="364" y="397.5"/><use href="#g" x="356.3" y="374.3"/><use href="#g" x="358.2" y="374.4"/><use href="#g" x="370.2" y="412.3"/><use href="#g" x="373.4" y="417.8"/><use href="#g" x="344.9" y="416.7"/><use href="#g" x="342.4" y="370.1"/><use href="#t" x="378.9" y="408.9"/><use href="#g" x="342.2" y="414.4"/><use href="#g" x="387.8" y="138.8"/><use href="#g" x="349.8" y="263.9"/><use href="#g" x="376.4" y="275.2"/><use href="#g" x="343.8" y="290.2"/><use href="#g" x="349.5" y="300.2"/><use href="#g" x="359.5" y="307.8"/><use href="#g" x="358.8" y="312.8"/><use href="#g" x="349.5" y="316.1"/><use href="#c" x="391.1" y="306.8"/><use href="#g" x="380.4" y="314.5"/><use href="#t" x="391.1" y="322.8"/><use href="#g" x="349.5" y="333.4"/><use href="#g" x="359.5" y="332.8"/><use href="#c" x="348.8" y="342.1"/><use href="#g" x="355.5" y="346.1"/><use href="#g" x="366.1" y="366"/><use href="#g" x="382.1" y="371"/></g>
<path d="M363.2 427.6h1.1M381.6 428.6h0.8M369.1 443.1h1M358.7 429.9h1M385.2 403.3h1.8M360.2 415.3h1.9M387 401.7h1.9M340.7 418.3h1.6M344.6 417.5h1.2M373.7 418.2h1.2M375.9 417.2h0.9M386.1 406.5h0.8M354.4 428.5h1.5M367.8 436.4h1.9M387.9 407.8h2.2M352.6 469.9h2.2M369.4 423.2h1.7M374.7 408.1h1.8M366.6 424.8h1.9M353 416.4h1.4M356.3 421.5h1.1M344.8 413.2h1.8M375.3 411.7h0.9M381.9 410.3h2.1M374.9 407.8h2.2M355.1 417.5h1.9M368.6 465h1.3M354.3 430.7h1.3M371.1 420.4h1.7M380.1 414.9h1.6M355.5 422.2h1.9M372.3 420.1h1.4M368.1 425.1h1.2M360.8 415.3h1.8M358.6 423.7h1.7M355 440.5h1.3M378.2 410h1.2M353.7 430.9h1.1M363.5 416.7h1.1M344.6 419.3h0.9M343.3 429.3h1.8M388.8 411.2h1.9M365.7 428.6h1.9M372.5 424.7h1.9M360.7 418.1h1.7M371.6 421.3h1M360.6 414h1.7M375.9 421h0.9M355.7 415.7h1.9M360.1 430.9h1.8M377.3 404.9h1.1M376.2 408.5h1.2M388.9 426.6h2M387 418.6h1.8M351.6 419.2h1.6M370.9 425.5h1.5M347.9 430.1h1.7M386.5 403.4h0.9M348.2 431.3h1M383.5 414.7h1M351.7 414.6h1M355.8 418.6h1.9M350.8 427.7h1.5M372.6 423.6h1.8M354.6 425.1h1M355.5 415.9h1.7" stroke="#fff" stroke-width="1.2" opacity=".8"/>
<path d="M390.2 551.3L390.8 548.1L390.5 543.6L389.9 539.8L390.9 536.3L390.5 532L390.4 529L390.6 524.9L390.4 520.6L390.2 517.9L390.8 514.9L390.9 510.5L390.6 507.8L390.5 504.2L389.7 499.7L390.6 496.6L390.3 493.6L389.8 489.6L390.1 486.6L389.6 482.4L390.8 479.3L390.9 475.1L390.5 470.9L389.7 468L390.3 464.1L389.6 460.6L390.3 457.2L389.7 452.8L390.3 449.4L390.3 445.5L390.1 442.9L390.5 439.9L390.2 437.3L390.3 432.8L390.2 430L390.4 426L390.7 423.4L390.5 420.6L390.3 416.5L390.3 411.7L391.6 412.6L392.7 412.6L394.4 414.8L396.2 409.5L398 414.8L399.6 415.7L401 415L401.9 416L403 411.6L404.5 410L406.1 413.7L407.6 413.8L408.7 413.4L410.3 414.8L411.3 411.7L412.8 419.4L413.7 410.2L415 413L416.7 412.5L418 416.6L419.5 413.1L420.8 413.6L422.3 410.9L423.3 416.9L424.3 414.1L425.4 415.3L427.2 411.6L428.6 425.1L430.1 418L431.9 415.9L433.4 417.5L434.5 417.7L435.9 416.3L437.6 421.4L438.8 413L440.5 418.9L441.7 413.2L443.3 413.1L444.9 418.1L446.7 416.9L448.4 419.2L450.2 414.9L451.2 552.7L450 552.1L448.5 552.8L446.3 553.3L444.5 552.8L442.5 552.9L440.3 551.6L439 552.9L437.8 551.6L436.1 552.8L434.7 552.9L433.1 553.1L431.5 552.5L430.1 552.3L428.4 553L426.4 553.1L424.5 552.8L422.9 551.9L420.9 553.1L419.5 551.7L418.2 553.1L416.5 552.9L414.4 552.3L412.9 552.2L411.6 552.9L409.5 552.6L407.6 552.7L405.7 552.6L404.5 552.1L402.7 552.6L400.4 552.4L399.1 552.6L396.9 551.7L394.6 551.9L392.8 552.9L390.4 553.2z" fill="#6495ED" stroke="#6495ED" stroke-width="0.8"/>
<g stroke="#6495ED"><use href="#g" x="444.7" y="417.1"/><use href="#g" x="435.3" y="375.3"/><use href="#s" x="437.7" y="411.2"/><use href="#g" x="447.5" y="407.4"/><use href="#t" x="424.6" y="412.7"/><use href="#g" x="436.9" y="406.5"/><use href="#g" x="425.8" y="413.1"/><use href="#g" x="421.8" y="405.8"/><use href="#g" x="395.8" y="417.1"/><use href="#g" x="396.1" y="415.1"/><use href="#g" x="412" y="410.4"/><use href="#g" x="426.1" y="404.4"/><use href="#g" x="407" y="355.3"/><use href="#g" x="449.2" y="387.3"/><use href="#g" x="446.9" y="407.6"/><use href="#g" x="426.5" y="397.5"/><use href="#g" x="403.9" y="405.8"/><use href="#t" x="425.4" y="367.1"/><use href="#g" x="434.2" y="401.1"/><use href="#s" x="400.5" y="414.8"/><use href="#g" x="410.8" y="410.8"/><use href="#c" x="429.3" y="409.5"/><use href="#c" x="424.2" y="385.6"/><use href="#g" x="413.7" y="416.9"/><use href="#g" x="402.2" y="406.2"/><use href="#g" x="442.3" y="417"/><use href="#g" x="415.3" y="403"/><use href="#p" x="405.6" y="387.3"/><use href="#c" x="403.6" y="403.7"/><use href="#g" x="422.1" y="413.2"/><use href="#g" x="417.9" y="393.9"/><use href="#g" x="399.7" y="407.6"/><use href="#p" x="402.7" y="362.9"/><use href="#g" x="447.3" y="411.3"/><use href="#p" x="426.2" y="409.8"/><use href="#g" x="422.1" y="399.2"/><use href="#g" x="425.1" y="414.7"/><use href="#g" x="398.1" y="413.4"/><use href="#g" x="437.7" y="366.4"/><use href="#g" x="421.4" y="416.2"/><use href="#g" x="429.7" y="410.6"/><use href="#g" x="413" y="415"/><use href="#c" x="429.2" y="314.2"/><use href="#p" x="421.4" y="316.6"/><use href="#g" x="433.8" y="301.9"/><use href="#g" x="429.3" y="337.6"/><use href="#g" x="423" y="301.3"/><use href="#g" x="435.7" y="338.2"/><use href="#g" x="428.5" y="320.5"/><use href="#g" x="430.5" y="312.2"/><use href="#t" x="432.9" y="338.9"/><use href="#g" x="426.5" y="330.2"/><use href="#c" x="426.2" y="350.4"/><use href="#g" x="434.9" y="320.2"/><use href="#c" x="429.4" y="325.2"/><use href="#g" x="419.8" y="351"/><use href="#g" x="423.4" y="347.4"/><use href="#c" x="428.8" y="349.4"/><use href="#t" x="435.4" y="346.8"/><use href="#c" x="423.6" y="317.5"/><use href="#g" x="435.4" y="312.7"/><use href="#g" x="433.6" y="314.4"/><use href="#g" x="427.9" y="349.6"/><use href="#g" x="421" y="327.3"/><use href="#g" x="423.3" y="347.2"/><use href="#c" x="434.2" y="351.9"/><use href="#g" x="426" y="328.1"/><use href="#g" x="420.9" y="327.4"/><use href="#g" x="419.8" y="346"/><use href="#g" x="428.6" y="349.2"/><use href="#g" x="409.9" y="413.9"/><use href="#s" x="432.3" y="407"/><use href="#g" x="441.4" y="372.9"/><use href="#g" x="435.8" y="405.8"/><use href="#g" x="420.7" y="349.6"/><use href="#o" x="417.7" y="361.6"/><use href="#g" x="444.2" y="366.1"/><use href="#g" x="424.2" y="403.9"/><use href="#g" x="428.8" y="414"/><use href="#g" x="418.1" y="407.8"/><use href="#g" x="444.9" y="350.2"/><use href="#g" x="404.2" y="390.3"/><use href="#t" x="419.1" y="393.1"/><use href="#g" x="419.3" y="366.4"/><use href="#s" x="406.3" y="405.6"/><use href="#t" x="432.2" y="413.5"/><use href="#g" x="407.4" y="390"/><use href="#g" x="422.3" y="377.9"/><use href="#c" x="442" y="406.2"/><use href="#g" x="415.1" y="413.4"/><use href="#c" x="440.4" y="410.3"/><use href="#g" x="401.4" y="350.3"/><use href="#g" x="403" y="413.9"/><use href="#t" x="425.6" y="407.5"/><use href="#t" x="440.5" y="401.9"/><use href="#g" x="416.7" y="405.6"/><use href="#g" x="420.1" y="406.3"/><use href="#g" x="398.9" y="354.2"/><use href="#g" x="399.4" y="405.8"/><use href="#g" x="436.6" y="388"/><use href="#g" x="430.1" y="373.6"/><use href="#g" x="434.5" y="413.7"/><use href="#g" x="406.1" y="145.8"/><use href="#g" x="406.1" y="193.7"/><use href="#g" x="396.7" y="262.2"/><use href="#g" x="406.1" y="295.2"/><use href="#g" x="419.4" y="281.9"/><use href="#g" x="400.4" y="317.8"/><use href="#g" x="402.1" y="324.8"/><use href="#g" x="419.4" y="306.2"/><use href="#g" x="427.6" y="163.1"/><use href="#g" x="422.6" y="281.9"/><use href="#g" x="423.3" y="306.2"/><use href="#g" x="432.3" y="306.2"/><use href="#g" x="447.6" y="300.2"/><use href="#g" x="447.6" y="316.8"/><use href="#c" x="446.6" y="347.1"/><use href="#g" x="434.9" y="353.4"/><use href="#g" x="432.3" y="364.4"/><use href="#t" x="420" y="374.4"/></g>
<path d="M426.9 439.3h1.5M410.4 423.2h1.2M436 417.6h1.9M409.7 411.1h1.8M413.9 408.1h1.9M445.2 417.6h1M419.9 408.3h1.6M398.4 417h2.1M445.8 421.7h1.7M444.3 413.8h2M411.1 408h1M423.1 414.6h1.7M415.6 410.9h1.1M401.5 414.2h1.5M438.5 411.1h1.2M425.2 410.1h2.2M437.8 415.9h1M395.9 407h1M398.7 407.8h0.9M413.9 409h1.2M418.8 424.5h1.5M432.3 419.1h0.9M399.1 414.4h2M443.5 426.8h1.8M411.4 417.4h1.2M446.1 416.6h1M405.4 417.8h1.7M396.9 408.8h1.6M409.4 414.5h1.2M423.5 416.1h0.9M428.2 411.3h1.4M409.7 424.4h1.2M407.9 408.7h1.4M415.7 428.5h0.9M416.6 417.6h1.3M413.3 409.6h1.6M394.2 409.7h2.1M402.2 410.5h2M426.8 424.5h1.9M434.7 410.7h2.1M393.5 414.8h2.1M431.8 414.1h1.1M393.1 413.7h1.3M438.3 413.3h0.8M421.3 420.9h1.4M409.4 413h1.5M411 430.1h1.4M406.8 419.9h1.2M404.2 417.7h1.3M414.6 424h2.1M409.9 467.3h1.4M420.3 416.8h1.4M432.8 414.5h1.7M434.3 418.9h1M432.9 419.5h2M412.3 410.1h1.3M394.1 421.5h1.1M414.3 433.4h1.6M441.5 426.7h2.1M394.8 411.8h1.3M419.1 419.7h1.9M437.4 409.6h1.6M417.1 422.2h1.7M428.1 428.3h0.9M394.1 413.2h1.5M429 421.8h1.8M407.8 426.1h1.4M433 416.3h2.2M404 407.1h1.7M417.3 417.6h1.9M430.4 439.5h1.5M421.8 445.8h1.8M412.4 419.4h1.4M404.5 418.2h1M395.7 407.5h0.8M412 412.8h1.9M402 408.6h1.5M426.9 410.6h1.4M407.1 411.6h1.2M393 407.3h1.6M399 419.4h2.1M439.7 421.1h2.1M438.2 412.1h1.1M412.6 414.7h1.7M425.6 413.3h1.6M403.7 423.3h1M415 422.2h2M435.1 412.2h2.2M432 417.5h1.2M411.8 416.2h1.6M412.1 434.2h1.7M425.9 409.4h2.2M438.9 422.2h1.9M406.7 409.2h1.7M404 416h2.1M434 413.1h1.5M444.1 417.1h1.4M400.3 409.7h1.1M425.3 409.5h2.2M436.8 447.1h1.8M405.1 408.1h1.5M407.7 416.5h1.5M423.6 411.8h0.8M410.4 410.9h1.7" stroke="#fff" stroke-width="1.2" opacity=".8"/>
<path d="M448.8 551.3L448.4 547.9L448.9 545.3L448.9 541.4L448.7 537.3L448.8 534.6L448.7 532L447.9 528.7L447.8 524.3L448.1 520.3L448.7 515.9L448.7 511.4L448.4 508.7L448.7 504.6L448.9 500.2L448.4 497L448 492.9L448.6 489.7L448.1 486.9L448.5 483.8L447.9 480.8L448.6 476.9L448.4 474.1L448.4 470.2L449.1 467.5L448.9 464.4L448 460.6L448.8 457L449 452.6L448.9 448.3L447.9 444.2L447.9 441L448 436.8L447.9 432.6L448.9 429.5L448.3 425.7L448.1 422.5L448.3 419.7L448.5 417.2L449.8 412L451.1 416L452 415.5L453 410.7L453.9 416.3L455.6 414.6L457.5 414.1L459 417.2L460 417.5L461.7 410.8L462.6 412L463.8 421.2L465 414.5L466.1 410.7L467 402.4L468.7 396.2L469.7 395L471.3 388.6L472.9 392.4L474.4 398L475.7 393.8L477.2 395.3L479 389.1L480.4 392.5L482 393.6L483.2 391.7L484.2 394.5L485.6 388.9L487 394.4L488.2 393.3L489.3 392.8L491.1 392.9L492.7 394.6L493.8 395.5L495.1 551.7L493.3 551.7L491.4 552.6L489.7 552.8L487.9 551.7L485.5 552.9L483.3 552.5L481.9 552.8L480.7 551.6L478.6 552.5L476.3 552.4L474.7 553.2L472.4 551.7L470.3 551.9L468.2 551.9L466.4 552.4L464.8 551.9L463.1 552L460.8 552L459.2 552.5L457.9 551.7L455.6 552.1L454.2 552.2L452.8 551.8L451.3 551.8L449.7 552.3z" fill="#00008B" stroke="#00008B" stroke-width="0.8"/>
<g stroke="#00008B"><use href="#g" x="484.6" y="382.9"/><use href="#g" x="468.2" y="373"/><use href="#g" x="495" y="385.3"/><use href="#g" x="489.6" y="373.9"/><use href="#g" x="478.3" y="393.3"/><use href="#g" x="486.1" y="388.4"/><use href="#g" x="468.2" y="349.3"/><use href="#g" x="489.8" y="380.6"/><use href="#c" x="457.5" y="414.8"/><use href="#g" x="453.6" y="417.9"/><use href="#g" x="455.5" y="393.3"/><use href="#g" x="457.7" y="382.2"/><use href="#g" x="454.3" y="408"/><use href="#s" x="462.2" y="416.8"/><use href="#g" x="474.5" y="376.3"/><use href="#g" x="460.7" y="364"/><use href="#g" x="489" y="396.1"/><use href="#g" x="476.9" y="392"/><use href="#g" x="465.3" y="372.3"/><use href="#g" x="468.1" y="372.1"/><use href="#g" x="479.7" y="371.1"/><use href="#g" x="494.3" y="387.1"/><use href="#g" x="481.7" y="396"/><use href="#c" x="469.8" y="351.7"/><use href="#g" x="467.7" y="345.1"/><use href="#g" x="488.3" y="388.7"/><use href="#g" x="460.6" y="404.6"/><use href="#g" x="464.5" y="412.3"/><use href="#t" x="456.3" y="385"/><use href="#g" x="490" y="394"/><use href="#g" x="459.1" y="414.6"/><use href="#g" x="488.1" y="383"/><use href="#g" x="479.8" y="343.6"/><use href="#g" x="492.1" y="348"/><use href="#g" x="456.1" y="391.6"/><use href="#t" x="494.2" y="377.8"/><use href="#g" x="481.1" y="395.9"/><use href="#s" x="492.2" y="396"/><use href="#g" x="492.1" y="363.8"/><use href="#c" x="462.4" y="345.5"/><use href="#s" x="478.2" y="395.7"/><use href="#g" x="470.7" y="381.1"/><use href="#g" x="490.1" y="395.5"/><use href="#g" x="496.5" y="346.5"/><use href="#c" x="480.3" y="333.2"/><use href="#p" x="487.9" y="327.3"/><use href="#g" x="471.8" y="388.6"/><use href="#g" x="470" y="376.9"/><use href="#g" x="466.7" y="390.9"/><use href="#g" x="463.8" y="390.8"/><use href="#g" x="465.2" y="346.2"/><use href="#g" x="483.1" y="395.1"/><use href="#t" x="473.9" y="370"/><use href="#g" x="494.6" y="380.7"/><use href="#g" x="476.9" y="383.6"/><use href="#g" x="472.7" y="327.6"/><use href="#g" x="459.4" y="332.4"/><use href="#g" x="468.8" y="395.8"/><use href="#g" x="459.5" y="378.9"/><use href="#g" x="474.1" y="387.1"/><use href="#g" x="453.7" y="358.1"/><use href="#g" x="466.1" y="391.8"/><use href="#g" x="458.8" y="378.2"/><use href="#g" x="467.2" y="387.5"/><use href="#g" x="474.9" y="379.3"/><use href="#g" x="489.6" y="396"/><use href="#g" x="467.2" y="393.1"/><use href="#g" x="471.3" y="356.2"/><use href="#g" x="477.9" y="368.7"/><use href="#g" x="471.5" y="365.1"/><use href="#g" x="465.1" y="387.7"/><use href="#s" x="457.9" y="381.2"/><use href="#g" x="458.4" y="367.1"/><use href="#c" x="479.2" y="390"/><use href="#g" x="454.3" y="366.5"/><use href="#g" x="486.1" y="381.5"/><use href="#g" x="475.6" y="331.3"/><use href="#g" x="486.7" y="375.2"/><use href="#g" x="482.8" y="368.1"/><use href="#c" x="494" y="349.2"/><use href="#g" x="494.8" y="347.2"/><use href="#g" x="474.1" y="336.3"/><use href="#g" x="453.9" y="394.6"/><use href="#g" x="455.8" y="370.9"/><use href="#g" x="461.4" y="381.1"/><use href="#g" x="480.6" y="393.2"/><use href="#g" x="463.8" y="337.3"/><use href="#p" x="458.1" y="390.4"/><use href="#g" x="469.3" y="411.8"/><use href="#g" x="469.2" y="395.4"/><use href="#g" x="461.5" y="405.4"/><use href="#g" x="456.7" y="388.6"/><use href="#o" x="461.4" y="393"/><use href="#g" x="494.8" y="225.3"/><use href="#g" x="494.8" y="233.6"/><use href="#g" x="465.5" y="259.2"/><use href="#g" x="495.8" y="277.2"/><use href="#g" x="477.2" y="280.2"/><use href="#g" x="474.9" y="284.9"/><use href="#g" x="456.6" y="292.8"/><use href="#g" x="465.5" y="292.2"/><use href="#g" x="456.6" y="300.2"/><use href="#g" x="464.9" y="297.8"/><use href="#b" x="491.8" y="297.8"/><use href="#g" x="468.2" y="307.8"/><use href="#g" x="468.2" y="314.5"/><use href="#g" x="491.8" y="311.1"/><use href="#g" x="481.5" y="322.1"/><use href="#g" x="494.1" y="323.5"/><use href="#g" x="465.5" y="324.8"/><use href="#g" x="457.2" y="327.1"/></g>
<path d="M453.5 417.9h1.3M484.2 387.5h1.5M466.3 430.4h1.2M469.8 387h1.7M486.6 397.6h1.2M483.3 388.9h1.8M477 391.8h1.1M453.9 414.2h2.1M476.6 387h1.5M462.3 413.5h1.8M474.1 391.2h2.1M475.6 386.6h1.8M484.3 394.1h1.8M472.4 387.5h1.2M470.1 390.8h1.3M476.3 415.2h1.4M464.4 409h1.7M450.6 413h1.5M488.8 409.2h0.8M472 387.1h1.7M478.8 387.7h1.2M458.3 410.7h1.6M466.7 416.7h2M452.7 408.5h0.8M466.3 414.3h2.1M489.8 388.7h1M476.7 387.1h2.1M460.3 423.7h1.9M455.7 408.6h1.6M457.4 435.1h1.2M473.2 393.8h1.5M458.2 423h0.9M488.9 391h0.8M489.9 396.1h0.8M476.1 407.7h1.8M478.3 386.5h1M467.8 394.7h2.2M484.9 389.9h1.6M451.8 426.8h2.2M471.8 391h1.9M479.1 403.8h1.7M466.2 406h0.9M480.4 394.4h0.9M476.1 406.2h1.4M483.2 387.9h1.4M484.9 389.4h1.4M479.7 387.7h1.9M455.8 434.3h1.3M479 391.7h2.1M454.2 414.8h1.7M478.3 394.5h2.2M472.3 386.7h1.5M455.4 436.2h1.7M487.8 394.2h1M466.1 411.9h1M460.6 427.1h0.9M472 396h0.8" stroke="#fff" stroke-width="1.2" opacity=".8"/>
<path d="M492.6 551.3L492.8 547.6L492.9 543.7L492.4 540.6L492.2 536.3L493 531.9L492.3 528.2L492.6 525L492.5 521.1L492.3 517.2L492.5 514.1L492.1 510.9L492.4 507.9L493.1 504.4L492.1 500L492 496.7L492.2 493.1L492.7 489.9L492 487L493 483.5L491.9 480L492.3 476.9L492.5 474.2L491.7 470.2L492.3 467.3L492.9 463.4L492 460.7L493 457.5L492.1 453.7L492.7 450.4L492.2 447.4L492.1 444.6L493.1 441.6L493 437.5L492 434.5L492.7 430.8L492.9 426.5L492.5 423.6L493 420.7L492.3 416.3L492.1 412.7L492.4 407.7L493.7 409.6L494.8 409.9L496 409.5L497.9 410.3L498.9 411.8L500.1 407.7L501.9 410.5L503.6 406.3L504.8 407.9L506.1 407.6L507.5 407.7L509 411.4L510.8 416.6L512.3 411.1L514 406.4L515 406.7L516.3 409.5L517.4 405.6L518.4 405.9L520.2 404.3L522 407.5L523.7 408.1L525.2 404.7L526.3 404.9L527.7 409L529.4 407.8L530.3 407.8L531.7 414.3L532.7 551.7L531 553.1L529.3 551.7L527 552L525.4 552.8L523.5 553.1L522.1 552.8L520.1 552.8L518.4 552.3L516.7 551.8L514.7 552.2L513 552.4L511.2 552.4L509.4 553.1L507.1 553.2L505.8 553.3L503.5 553.1L502 551.7L499.6 552.2L498.2 552.5L496 553.1L494.1 553.1z" fill="#6495ED" stroke="#6495ED" stroke-width="0.8"/>
<g stroke="#6495ED"><use href="#g" x="530.1" y="400"/><use href="#g" x="520" y="389.9"/><use href="#g" x="500.6" y="389.1"/><use href="#g" x="501.2" y="400.4"/><use href="#g" x="498.7" y="407.5"/><use href="#g" x="526.1" y="400.3"/><use href="#g" x="531.7" y="388.4"/><use href="#g" x="520.2" y="398.4"/><use href="#g" x="504.2" y="398.5"/><use href="#c" x="513.7" y="379.5"/><use href="#g" x="499" y="404.4"/><use href="#g" x="519" y="405.6"/><use href="#t" x="523.4" y="408.4"/><use href="#g" x="505.1" y="377.6"/><use href="#p" x="513.2" y="397.2"/><use href="#g" x="508.9" y="406.9"/><use href="#t" x="519.1" y="390.4"/><use href="#g" x="525.8" y="367.2"/><use href="#g" x="517.9" y="391.8"/><use href="#g" x="510.2" y="393.5"/><use href="#g" x="506.9" y="367.1"/><use href="#g" x="523.8" y="355"/><use href="#g" x="503.5" y="411.2"/><use href="#g" x="519.7" y="409.1"/><use href="#g" x="526.7" y="357.3"/><use href="#g" x="531.1" y="406.7"/><use href="#g" x="512.6" y="398.7"/><use href="#g" x="499.8" y="407.4"/><use href="#g" x="498.1" y="404.4"/><use href="#g" x="502.7" y="395.1"/><use href="#g" x="502.7" y="388.8"/><use href="#g" x="527.4" y="402.6"/><use href="#g" x="506" y="384.5"/><use href="#g" x="502.7" y="388.4"/><use href="#p" x="498.2" y="363.1"/><use href="#g" x="530.1" y="368.2"/><use href="#g" x="513.2" y="405.2"/><use href="#g" x="519.2" y="353.5"/><use href="#g" x="522.5" y="385.1"/><use href="#g" x="511.8" y="405.5"/><use href="#g" x="510.7" y="364.4"/><use href="#g" x="520.1" y="340.3"/><use href="#g" x="511.2" y="403.7"/><use href="#g" x="522.6" y="350.8"/><use href="#g" x="520.1" y="393.5"/><use href="#g" x="497.6" y="352.2"/><use href="#g" x="508.1" y="361.1"/><use href="#g" x="518.8" y="378.9"/><use href="#g" x="507.6" y="314.5"/><use href="#c" x="506.3" y="314.1"/><use href="#g" x="508.9" y="327.4"/><use href="#g" x="511.5" y="334.4"/><use href="#g" x="506.6" y="337.1"/><use href="#s" x="509.9" y="338.3"/><use href="#t" x="502.3" y="312.5"/><use href="#g" x="506.5" y="320.7"/><use href="#t" x="507.6" y="293.1"/><use href="#g" x="503.8" y="320.3"/><use href="#g" x="501" y="314.7"/><use href="#g" x="511.2" y="327.9"/><use href="#p" x="512.5" y="339.2"/><use href="#g" x="506.8" y="327.3"/><use href="#g" x="506.5" y="333.3"/><use href="#g" x="511.2" y="327.3"/><use href="#g" x="503.1" y="174.8"/><use href="#g" x="503.1" y="210"/><use href="#g" x="532.4" y="242.9"/><use href="#g" x="530.7" y="255.3"/><use href="#g" x="531.7" y="251.3"/><use href="#p" x="533.1" y="262.9"/><use href="#g" x="510.8" y="270.2"/><use href="#g" x="499.8" y="275.5"/><use href="#c" x="533.7" y="289.5"/><use href="#g" x="504.8" y="295.2"/><use href="#g" x="512.4" y="301.2"/><use href="#g" x="504.8" y="306.2"/><use href="#g" x="529.7" y="306.2"/><use href="#g" x="523.1" y="306.2"/><use href="#g" x="505.8" y="316.1"/><use href="#g" x="529.7" y="316.8"/><use href="#g" x="509.8" y="329.4"/><use href="#g" x="529.7" y="329.4"/><use href="#c" x="529.7" y="335.4"/><use href="#g" x="499.1" y="337.8"/><use href="#g" x="509.8" y="346.1"/><use href="#g" x="522.1" y="355.4"/><use href="#g" x="532.1" y="357.7"/></g>
<path d="M501.5 405.1h1.2M507 420.4h0.9M495.2 404h1.6M515.3 406.3h2.1M515.1 404.4h1.2M523.7 412.5h1.9M522.6 402.3h1.7M501.2 415.2h1.2M515.4 416.5h1.6M524.8 407.9h2.2M500.1 405.4h1.6M500.7 411h1.2M496 409.3h1.3M525.4 414.9h2.1M503.1 420.1h0.9M523.2 403.6h1M503.8 432.4h1.3M510.3 403.9h1M520.3 409h1.5M521.7 413.2h1.9M499.2 407.3h2M497 403.2h1.5M498.4 403h1.6M503.1 420h1.4M519.6 404.4h1.6M515.7 413.2h2.1M507.8 406h1.5M512.9 415.7h1.4M503.2 427.6h1.2M504.2 406.3h2M516.7 431h1.8M505.8 412.4h1.4M502.3 402.9h1.7M512.4 413.5h1.2M503.1 404.8h1.1M511.4 414.8h1.2M513.9 408.7h1.2M506 402.3h1.1M506.1 408.6h1.6M504 409h1.4M504 410.2h1.3M514 403.7h1.3M514.3 411.3h0.9M526.5 403h1.8M507.5 426.4h1.4M518.1 448h1.4M517.5 417.6h1.2M516.9 404.5h2M520.5 403.7h1.7M527.4 403.9h1.6M517.6 413.7h1.8M501.9 404h2.1M522.8 437.5h1.1M515.4 442h2.2M520.9 413.2h1.6M506.1 404.8h1.2M509.6 431.7h1.4M524.1 411.2h1.7M508.8 451.8h1.9M514.8 415.2h0.8M521.9 415.6h1.1M498.5 419.9h1.3M506.2 416.7h1.1M509.9 408.3h1M504.1 417.1h1.8M527.9 402h1.4M527.5 403.3h1.2" stroke="#fff" stroke-width="1.2" opacity=".8"/>
<path d="M529.9 551.3L530.4 548.1L529.9 545.1L530.7 541L529.5 536.8L530.6 532.9L530.4 528.8L529.4 524.6L529.6 521.7L529.6 518.5L529.4 514.2L530 510.8L529.6 507.8L529.7 503.7L530.6 499.8L529.7 497L530.4 493.8L530.3 489.9L529.3 486L529.6 482.9L529.9 479.1L529.4 475.7L529.4 472.6L529.4 469.2L530.6 466.7L530.2 464.1L529.5 461.3L530.7 458.4L530 453.1L531.6 449.9L533.1 447.1L534.8 450.2L536.4 451L537.5 450.6L539.1 447.4L540.7 456.1L542.3 448.4L543.5 448.1L545.1 452.6L546.8 453.2L548 450.6L549.6 450.9L551.5 451.9L552.9 451.4L554.3 449.1L555.6 447.6L557.5 448.3L558.9 451.2L560.5 452.7L561.9 447.1L563.3 453.7L564.7 452.5L566 453.6L567.3 447.6L568.4 450.8L569.9 450.7L570.9 448.9L572.2 452.9L573.4 456.7L574.7 465.7L576.5 467.3L577.5 465.2L579.2 470L580.6 469.5L582.2 469.1L583.6 467.8L584.6 466.3L586.2 468.2L587.4 479.3L588.3 468.8L589.4 465.1L591 468.4L592.3 470.6L593.9 467.7L594.9 471L595.9 473.9L596.8 469.5L598.2 466.9L599.2 470.8L601 464.7L602.1 466.1L603.5 466.2L604.8 469.9L606.7 467.6L608.5 471.5L609.8 467.5L610.8 467.7L611.8 470L612.9 463L614.7 459.2L616 452.3L617 452L617.9 456.2L619.8 461.8L621.2 455.9L622.2 456.9L623.7 451.3L625.4 455.2L626.5 450.5L628.3 455.4L629.3 453.2L630.4 452L631.5 450.9L632.8 453.5L633.9 457.5L635.3 451.4L636.8 456.3L638.6 418.7L640.3 399.6L641.4 414L643.3 400.9L644.5 405.9L645.8 401.3L647 403.1L648.5 402.7L650.3 431.8L651.7 462.4L652.8 461.8L654.7 461.3L655.7 466.8L657.2 463.7L658.9 461.3L660 466.2L661.4 469.1L663 467.1L664.7 464.9L666.5 466.9L667.7 463.5L669.5 464.7L670.7 467.1L671 469.1L671.7 473.6L671.1 478.1L671.6 481.5L670.8 484.7L671.6 488L670.9 492L671.4 494.8L671.9 498.2L671.2 501.8L672 504.6L671.1 507.2L671.3 511.1L672 513.9L671.7 516.8L670.9 519.6L671.3 523.7L671.6 526.7L671.1 530.2L671.1 533.2L671.5 536L670.9 538.8L671.3 541.3L671.1 544.9L671.4 547.5L671.3 552.3L669.4 553.3L667.9 553L665.6 553L663.7 552.9L661.5 553.2L659.9 552.4L657.6 552.3L655.8 552.3L654.2 553.3L652.7 553L650.3 552.7L648.2 551.8L646 551.7L644.6 552.9L643.1 553L641.8 552.4L640.5 553L639.1 551.8L637.4 552.3L635.1 551.9L633.2 551.6L631.6 553.2L630.2 553L629 552.6L627.4 551.7L625.7 552.5L623.7 553L622 551.8L620.8 551.7L618.6 552.1L616.5 553.1L615 552.3L613.2 552.1L611.8 553.2L609.4 552.9L608.1 552.2L606.7 551.8L605.1 552.7L603.9 553.3L602.6 552.2L600.7 552.4L598.3 553.2L596 552.5L594.1 552.4L592.8 552.6L590.6 553.1L588.3 552.6L586.4 552.6L584 552L582.2 552.7L580.2 552.8L577.9 553.2L575.7 551.7L573.6 552L572.1 553L570.4 553.2L568.9 553.1L566.5 551.9L564.6 552.7L563.2 552.5L561.5 551.7L559.3 552.6L557.1 552.5L554.7 553.1L552.3 552.6L550 553L548.2 551.8L545.9 552.6L544.7 552.3L543.2 552.9L541.8 552.5L540.1 551.9L537.8 551.9L535.5 553.1L533.1 551.8L531.6 552.3z" fill="#00008B" stroke="#00008B" stroke-width="0.8"/>
<g stroke="#00008B"><use href="#t" x="634.3" y="402.9"/><use href="#g" x="588" y="466.4"/><use href="#s" x="592.8" y="467.5"/><use href="#g" x="621" y="457"/><use href="#g" x="534.4" y="447.7"/><use href="#t" x="545.9" y="431"/><use href="#g" x="534.6" y="452"/><use href="#c" x="596.1" y="449.4"/><use href="#g" x="645.8" y="423.2"/><use href="#g" x="608.8" y="466.1"/><use href="#t" x="562.2" y="448.5"/><use href="#g" x="535.3" y="385.8"/><use href="#g" x="562.9" y="418.6"/><use href="#g" x="656" y="422.5"/><use href="#g" x="615.7" y="457.6"/><use href="#g" x="606.8" y="443"/><use href="#t" x="576.8" y="435.9"/><use href="#g" x="592.9" y="419.4"/><use href="#t" x="550.2" y="445.5"/><use href="#p" x="597.5" y="461.1"/><use href="#g" x="657.1" y="421.7"/><use href="#t" x="639.9" y="440"/><use href="#g" x="546.8" y="429.3"/><use href="#g" x="539.7" y="410.2"/><use href="#t" x="654.7" y="437.5"/><use href="#g" x="591.7" y="456.8"/><use href="#o" x="616.1" y="420.9"/><use href="#g" x="632.1" y="439.4"/><use href="#t" x="547.6" y="407.4"/><use href="#g" x="569.9" y="439.9"/><use href="#g" x="584.6" y="422.2"/><use href="#t" x="621.3" y="390.9"/><use href="#g" x="593.5" y="460.1"/><use href="#g" x="609" y="454"/><use href="#g" x="662.5" y="466.5"/><use href="#g" x="627.8" y="455.8"/><use href="#g" x="570.4" y="434.1"/><use href="#g" x="562.3" y="421.2"/><use href="#c" x="595.7" y="468.8"/><use href="#g" x="622.5" y="420"/><use href="#t" x="658" y="450.2"/><use href="#t" x="572.7" y="439"/><use href="#g" x="546" y="450.8"/><use href="#g" x="635.8" y="429.2"/><use href="#o" x="623.5" y="443.3"/><use href="#t" x="632" y="443"/><use href="#g" x="561.5" y="450.8"/><use href="#g" x="548.6" y="443.8"/><use href="#t" x="594.5" y="448.2"/><use href="#p" x="552.5" y="433.6"/><use href="#g" x="657" y="455"/><use href="#g" x="562.7" y="418.6"/><use href="#t" x="622.3" y="451.2"/><use href="#g" x="567.2" y="442.6"/><use href="#c" x="547" y="447.3"/><use href="#o" x="592.3" y="458.4"/><use href="#s" x="578" y="435.8"/><use href="#g" x="626.7" y="454.7"/><use href="#t" x="610.6" y="449.8"/><use href="#g" x="578.8" y="471.8"/><use href="#s" x="570.8" y="453.6"/><use href="#g" x="625.3" y="447.3"/><use href="#t" x="612.1" y="464.4"/><use href="#g" x="610.6" y="468.6"/><use href="#g" x="639.9" y="382.8"/><use href="#g" x="652.8" y="462.9"/><use href="#t" x="633.4" y="405.6"/><use href="#t" x="604.7" y="465"/><use href="#g" x="600.8" y="461.3"/><use href="#t" x="631.6" y="405.8"/><use href="#g" x="626.9" y="417.8"/><use href="#c" x="569.5" y="396.2"/><use href="#g" x="639.9" y="431.7"/><use href="#t" x="584.9" y="470.6"/><use href="#g" x="541.1" y="435.4"/><use href="#s" x="563.2" y="446.5"/><use href="#c" x="553.8" y="440.7"/><use href="#g" x="560.3" y="441.9"/><use href="#t" x="659.6" y="445.9"/><use href="#t" x="579.7" y="440.7"/><use href="#g" x="645.6" y="424.3"/><use href="#t" x="636.7" y="450.4"/><use href="#g" x="642.2" y="444"/><use href="#g" x="640.4" y="424.3"/><use href="#c" x="602.9" y="463.4"/><use href="#t" x="653.8" y="435.4"/><use href="#t" x="607.7" y="467.8"/><use href="#g" x="635" y="423.6"/><use href="#g" x="629.4" y="433.6"/><use href="#g" x="613.7" y="449.3"/><use href="#t" x="626.9" y="443.7"/><use href="#t" x="620.5" y="429.9"/><use href="#g" x="625.4" y="415.3"/><use href="#t" x="595" y="471.4"/><use href="#g" x="581.1" y="434.7"/><use href="#c" x="573.2" y="422.8"/><use href="#g" x="612.8" y="421.4"/><use href="#t" x="599.2" y="449.9"/><use href="#t" x="663.4" y="465.1"/><use href="#t" x="602.4" y="469.5"/><use href="#g" x="536.9" y="438.7"/><use href="#g" x="551.7" y="452.6"/><use href="#g" x="660.2" y="425.3"/><use href="#g" x="540.2" y="417.2"/><use href="#t" x="562.8" y="403.2"/><use href="#t" x="658.9" y="459.2"/><use href="#t" x="597.7" y="467.7"/><use href="#g" x="645.5" y="403.4"/><use href="#c" x="645.4" y="399.5"/><use href="#g" x="564.3" y="450.2"/><use href="#t" x="587" y="458.1"/><use href="#g" x="647.7" y="407.2"/><use href="#g" x="606.7" y="429.1"/><use href="#s" x="607.5" y="419.8"/><use href="#g" x="534.5" y="402.8"/><use href="#t" x="569.6" y="421"/><use href="#t" x="540.1" y="452.3"/><use href="#g" x="558.3" y="450.1"/><use href="#c" x="646.4" y="437.9"/><use href="#g" x="558" y="425.8"/><use href="#g" x="659.3" y="422.2"/><use href="#t" x="610.8" y="446.2"/><use href="#s" x="615.1" y="455.4"/><use href="#g" x="541.6" y="415"/><use href="#g" x="563.3" y="444.5"/><use href="#t" x="561.8" y="447"/><use href="#g" x="603.8" y="464.9"/><use href="#g" x="623.6" y="443"/><use href="#g" x="598" y="463.4"/><use href="#c" x="550.7" y="431"/><use href="#g" x="640.2" y="174.8"/><use href="#g" x="595.3" y="297.8"/><use href="#g" x="583.6" y="305.5"/><use href="#g" x="556.4" y="313.8"/><use href="#g" x="570.3" y="312.8"/><use href="#g" x="584.6" y="326.1"/><use href="#g" x="581.3" y="345.4"/><use href="#g" x="590.3" y="353.4"/><use href="#g" x="557" y="354.4"/><use href="#t" x="568.7" y="362.7"/><use href="#t" x="568.7" y="366.7"/><use href="#t" x="568.7" y="370.7"/><use href="#t" x="568.7" y="374.4"/><use href="#o" x="535.4" y="369.4"/><use href="#g" x="631.9" y="366"/><use href="#g" x="638.9" y="364.4"/><use href="#g" x="661.8" y="362.7"/><use href="#g" x="595.3" y="378.7"/><use href="#g" x="643.5" y="378.7"/><use href="#g" x="539.7" y="376"/><use href="#g" x="560.7" y="387.3"/><use href="#g" x="594.6" y="380.6"/><use href="#g" x="592.3" y="385"/><use href="#g" x="643.5" y="380"/><use href="#g" x="620.2" y="391.6"/><use href="#t" x="635.5" y="391.6"/><use href="#g" x="656.8" y="392.6"/><use href="#t" x="644.5" y="394.9"/><use href="#g" x="651.2" y="397.3"/><use href="#t" x="568.7" y="394.9"/><use href="#g" x="568.7" y="395.9"/><use href="#t" x="539.1" y="402.6"/><use href="#g" x="538.1" y="409.9"/><use href="#c" x="556.4" y="409.2"/><use href="#t" x="570.7" y="407.6"/><use href="#t" x="583" y="403.2"/><use href="#c" x="595.6" y="409.2"/><use href="#t" x="595.6" y="414.9"/><use href="#c" x="611.2" y="403.2"/><use href="#g" x="626.2" y="402.6"/><use href="#g" x="634.5" y="406.6"/><use href="#g" x="651.8" y="411.6"/><use href="#g" x="663.8" y="414.9"/><use href="#g" x="663.8" y="417.2"/><use href="#t" x="539.1" y="419.9"/><use href="#o" x="547.4" y="422.5"/><use href="#g" x="581.3" y="418.2"/><use href="#t" x="590.6" y="421.5"/><use href="#g" x="566.3" y="421.5"/><use href="#t" x="661.8" y="430.5"/><use href="#g" x="659.5" y="438.2"/><use href="#g" x="548" y="433.2"/><use href="#g" x="566.3" y="438.2"/><use href="#t" x="611.2" y="429.9"/><use href="#g" x="601.3" y="431.5"/><use href="#g" x="629.5" y="431.5"/><use href="#t" x="619.6" y="431.5"/></g>
<path d="M612.4 465.8h1.6M561.6 445.6h1.8M577.9 488h1.9M560.1 447.4h1.6M612.9 479.6h1.7M634.7 460.1h2.2M544.7 455h2.1M604.3 463.2h1.5M615.1 480.2h1.4M551.9 448.7h0.9M532.4 456.4h1.3M569.2 466.4h1.8M664.8 498.8h0.8M607.3 466.5h1.6M640.9 415.4h1.2M539.3 444.8h2.1M548.7 481.2h1.3M645.9 402.4h1.6M564.1 449.3h1.4M599.8 463.9h0.8M557.4 456.5h1M605.9 463.2h0.8M668.9 461.6h1.6M640.6 424.3h1.7M661.2 479.8h2.2M580.1 481h1.8M635.6 458.6h1.1M629.4 457.9h1.3M613.4 485h1.7M572.5 450.5h2.1M535.4 462h2M620.9 450.8h1.7M571.7 455.5h1.9M580.4 469.3h1M615.6 474.2h1.2M603.3 509.8h0.8M607.5 512.6h1.8M632.3 451.4h1.4M618.7 453.3h1.4M562.7 467.8h1.3M555.2 463.1h1.6M642.7 398.5h1.5M641.7 457h0.8M592.2 471.8h2.2M616.8 465h1.1M588.1 483.8h1.5M608.9 470.3h1.8M578.6 496h1.2M580.5 464.5h1.2M626.5 450.8h1.3M561.8 455.6h1.9M647.1 398.9h1.5M536.9 444.8h1.5M609.8 464.1h2.2M592.8 470.1h1.7M641.3 439.4h2.2M625.7 466.8h1.2M559.7 446.1h1.9M572.1 477.7h1.3M532.1 454.6h1M603.7 480h1.3M565.9 476.7h2M659.9 463.3h2.2M557.4 448.4h1.7M534.6 464.4h2M558.1 457.2h1.3M608.3 492.6h1M537.7 455.2h1.1M573.8 476.3h0.9M568.3 452.2h1.5M660.5 461.4h1.8M590.9 482.7h2.1M638.1 431.9h1.9M630.5 455.5h0.8M654.9 488h1.6M547.9 479.4h1.7M650.9 468.7h2.1M629.7 507.7h1.7M638.1 445.6h1.4M571.5 460.9h1.6M610.2 462.8h1.7M579.4 479.4h2M668.4 474.7h1.6M566.3 445.5h1.4M638.1 462.1h1M645.8 397.5h1.1M655.5 464.4h1M611.3 473.9h2M594 478.6h1.4M639.7 409.4h1.6M536.7 470.6h1.5M590.7 464.9h1.4M541.4 480.6h2.1M668.1 485.2h2.1M563 448.3h1.4M609.7 468.4h0.9M638.9 413.9h1.8M539.3 448.4h1.5M609.4 462.4h2.1M602.7 481.5h1.8M657.6 488.2h2.1M568 476.4h1.6M568.3 451.7h0.9M570.1 453.3h0.9M547.4 456.5h1M577 472.7h1.4M669.8 461.4h1.7M661.5 464.9h0.8M647.4 411.4h1.6M561.1 453.5h1.1M637.5 461.3h1.3M639.4 432.6h1M640.9 399.1h1M626.8 476.8h1.2M639.3 417.1h1.9M542 446.9h1.8M662.7 479.9h1M619.3 448.7h2.2M563 449.7h1.9M557.1 449.1h2M608.5 489h1.7M667.7 479.2h1.2M655.1 477.8h1.2M630 456.1h1.4M663.3 462.5h2.1M625 461h1.3M650.4 437.9h1.1M659.4 477.4h1.9M591.4 482.9h1.6M612 467.6h2.1M580.2 466.9h0.8M536.4 462.2h1M654.1 489.1h1.7M540.6 448.2h1.3M585.1 469.6h1.5M640.9 412.2h1.9M583.2 479.5h1.5M583.2 480.1h1.3M609.5 471.4h1.9M579.5 466.8h1M539.1 453.4h2.1M630.3 469.3h1.4M571.6 448.5h1.1M659.5 464.3h1.9M553 449h1.8M579 486.4h1.4M656.2 474.3h1.7M641.6 397.7h1.1M652.6 458.5h0.8M607.3 470.8h1.2M618.4 452.7h1.7M559.4 504.4h1.8M552.9 490.2h1.3M549.2 446.1h0.8M554 447.5h1.6M559.6 483.1h1.8M535 451.7h1.3M546.7 454.4h2M541 485.5h1.1M556.1 447.4h1.9M659 490.5h2M612 463.7h1.9M622.3 461.9h1.9M627.6 451.6h1.8M599.9 463.6h1.1M565.2 449.2h1.4M581.6 477.6h1M585.2 465.9h2.1M540.6 444.5h1.4M581 466h1.4M572.1 451.4h1.6M548.4 445.1h2.1M595.1 466.2h0.9M648.6 415.6h2.1M658.6 478.8h1M623.1 466.1h2.1M586.4 467.8h1.8M654.1 469.3h2M643.9 416h1.1M539.8 462.2h1.3M629 482.4h1.3M618 498.5h1.1M615.1 456.4h1.2M642.6 415.3h1.9M558.1 458.9h1.5M658.7 486.4h2.2M608.1 465.8h2.2M631 453.6h2.1M658.9 466.3h1.9M570.7 445.2h1.5M657.5 463.4h1.8M564.5 459.9h1.8M542.7 447.1h0.8M534.8 448.2h1.4M646.4 416.6h1.6M592.8 462.4h2M580.7 466.9h1M586.7 465.2h1.2M659.9 459.9h1.7M663 465.6h1.4M605.4 486h1.1M567.2 456.3h1.7M579.2 484.8h1.4M665.1 473.2h1.5M651.6 481h1M601.2 478.4h1.8M570.6 447.4h1.6M572.5 474.5h0.8M538.3 452.8h1.7M540.6 466.8h2M562.8 453.6h1.5M610.8 466.8h1.4M645.5 411.1h1.3M658.8 467.1h1.1M537.8 459h2.2M586.5 497.7h1.7M597.1 463.3h1.1M564.8 471.9h1.2M627.1 451.4h1.4M575.3 494.2h2.2M549.7 456.6h1.6M545.3 444.7h1.2M613.6 476.7h1.2M545.3 446.1h1.5M620.2 488.3h2M533 444.5h1.4" stroke="#fff" stroke-width="1.2" opacity=".8"/>
</g>
<rect x="102.2" y="49.9" width="589.0" height="520.1" fill="none" stroke="#333333" stroke-width="1.45"/>
<text x="89.6" y="557.9" font-size="28.2" text-anchor="end" fill="#4D4D4D">0.0</text>
<text x="89.6" y="422.4" font-size="28.2" text-anchor="end" fill="#4D4D4D">2.5</text>
<text x="89.6" y="286.9" font-size="28.2" text-anchor="end" fill="#4D4D4D">5.0</text>
<text x="89.6" y="151.4" font-size="28.2" text-anchor="end" fill="#4D4D4D">7.5</text>
<text x="159.9" y="603.9" font-size="28.2" text-anchor="middle" fill="#3E4650">1</text>
<text x="225.7" y="603.9" font-size="28.2" text-anchor="middle" fill="#3E4650">2</text>
<text x="281.2" y="603.9" font-size="28.2" text-anchor="middle" fill="#3E4650">3</text>
<text x="323.6" y="603.9" font-size="28.2" text-anchor="middle" fill="#3E4650">4</text>
<text x="369.7" y="603.9" font-size="28.2" text-anchor="middle" fill="#3E4650">5</text>
<text x="425.2" y="603.9" font-size="28.2" text-anchor="middle" fill="#3E4650">6</text>
<text x="475.8" y="603.9" font-size="28.2" text-anchor="middle" fill="#3E4650">7</text>
<text x="515.7" y="603.9" font-size="28.2" text-anchor="middle" fill="#3E4650">8</text>
<text x="599.9" y="603.9" font-size="28.2" text-anchor="middle" fill="#3E4650">S</text>
<path d="M95 547h6.9M95 411.5h6.9M95 276h6.9M95 140.5h6.9M159.9 570.3v6.9M225.7 570.3v6.9M281.2 570.3v6.9M323.6 570.3v6.9M369.7 570.3v6.9M425.2 570.3v6.9M475.8 570.3v6.9M515.7 570.3v6.9M599.9 570.3v6.9" stroke="#333333" stroke-width="1.45" fill="none"/>
<text x="396.3" y="641.9" font-size="35.8" text-anchor="middle" fill="#000">Chromosome</text>
<text transform="translate(29.7 310.8) rotate(-90)" font-size="36.1" text-anchor="middle" fill="#000">-log<tspan font-size="25.3" dy="7.3">10</tspan><tspan dy="-7.3">(p)</tspan></text>
<text x="730.6" y="212.5" font-size="35.9" fill="#000">Model</text>
<g fill="none" stroke="#1a1a1a" stroke-width="1.25">
<use href="#o" x="750.9" y="254.5"/>
<use href="#t" x="750.9" y="295.2"/>
<use href="#s" x="750.9" y="335.9"/>
<use href="#p" x="750.9" y="377"/>
<use href="#g" x="750.9" y="417.6"/>
</g>
<text x="788.3" y="263.7" font-size="28.45" fill="#000">1-dom</text>
<text x="788.3" y="304.8" font-size="28.45" fill="#000">Additive</text>
<text x="788.3" y="346" font-size="28.45" fill="#000">Diplo-additive</text>
<text x="788.3" y="387.2" font-size="28.45" fill="#000">Diplo-general</text>
<text x="788.3" y="428.3" font-size="28.45" fill="#000">General</text>
</g>
<g id="p2">
<rect x="102.2" y="675.3" width="589.0" height="46.5" fill="#D9D9D9" stroke="#333333" stroke-width="1.45"/>
<text x="255.7" y="707.6" font-size="28.45" fill="#1A1A1A">Relative quantification</text>
<clipPath id="clip1"><rect x="102.2" y="721.8" width="589.0" height="520.2"/></clipPath>
<g clip-path="url(#clip1)" fill="none" stroke-width="1.25">
<path d="M122.4 1223L122.3 1218.8L122.2 1215.9L123.3 1211.9L122.6 1208.9L123.2 1204.5L122.8 1200.7L123.4 1196.6L123 1192.6L123.5 1189.2L122.4 1185.8L122.3 1183L123.5 1180.1L123.5 1177.1L123.1 1172.7L122.1 1169.8L122.2 1166.3L122.2 1163.7L123.2 1160.7L122.9 1156.4L122.7 1152.1L123.2 1149L122.4 1144.8L123 1141.5L122.6 1138.8L122.5 1134.9L122.5 1131.5L123.3 1128.5L122.9 1125.4L123.2 1121.2L122.4 1117.8L123.3 1115L123 1112L122.5 1109.3L123.1 1106.5L122.8 1102.4L122.4 1099.7L123.2 1095.6L123 1092.3L122.9 1089.8L122.5 1086.5L123 1082.7L122.6 1078.9L122.8 1076.1L122.3 1072L123.3 1067.6L123 1063.6L122.3 1059.4L122.2 1055.5L122.6 1052.1L123.5 1048.9L123 1044.6L122.8 1040.2L122.4 1036L122.8 1032.7L122.5 1029.6L122.7 1025.8L123 1023.1L123.3 1019.1L122.7 1014.8L123.3 1011.2L122.1 1008.3L122.3 1004.9L122.1 1000.9L122.7 998.2L122.5 994.3L123.4 990.8L122.1 987.4L122.8 984.9L124.5 981.8L126.1 983.5L127.3 979.2L128.6 982.8L130.3 984.5L131.9 983L133.7 978.7L135.6 991.7L136.6 982.3L138.3 979.9L139.6 984.9L140.8 981.9L142.1 978.6L143.9 983.9L145.2 983.1L146.6 979.5L148.1 981L149.1 982.8L150 979.2L151.7 987.5L153.2 995.4L154.4 1001.1L155.9 1009.5L157.2 1015.5L158.8 1017.6L160 1018.1L161.7 1014.4L163.3 1014.7L164.5 1014.1L165.9 1018L167.7 1007.4L168.8 1002.8L169.8 993.2L170.8 990.6L172.5 989.7L173.4 992.3L175.1 986.2L176.6 986.6L178 987.3L179.3 988.2L180.4 985.1L181.5 992L183 985.5L184.8 988.1L186.7 986.4L187.8 988.6L189 986.7L189.4 1224.7L187.5 1224.4L185.6 1223.9L184.1 1224.4L182.8 1224.5L181.2 1224L179.4 1223.9L177.2 1224.4L175.2 1223.4L172.8 1224.9L170.7 1224.2L169.3 1223.5L167.5 1223.8L166.1 1224.6L164.5 1224.2L163.3 1223.9L160.9 1223.3L159.4 1225L157.6 1224.5L155.5 1223.8L153.3 1224.5L151 1223.6L148.7 1223.3L147.1 1224.1L145.1 1224L142.8 1223.8L141.1 1224.7L139 1224.9L136.9 1224L135.7 1224.3L133.7 1224.8L132.4 1223.9L130.7 1224.1L128.7 1224.7L127.3 1224.3L126 1224.1L124.6 1223.3z" fill="#00008B" stroke="#00008B" stroke-width="0.8"/>
<g stroke="#00008B"><use href="#g" x="151.8" y="991.1"/><use href="#t" x="164.1" y="993.5"/><use href="#g" x="172.9" y="987.9"/><use href="#p" x="173.6" y="987.3"/><use href="#t" x="157.8" y="1009.2"/><use href="#t" x="132.6" y="981"/><use href="#t" x="134.9" y="927.7"/><use href="#t" x="168.2" y="992.4"/><use href="#s" x="184" y="986.9"/><use href="#c" x="177.9" y="991.9"/><use href="#g" x="162.4" y="1015.6"/><use href="#g" x="151.3" y="960"/><use href="#g" x="159.6" y="978.2"/><use href="#g" x="183" y="980.7"/><use href="#g" x="143.8" y="985.3"/><use href="#g" x="175.7" y="948.2"/><use href="#g" x="175.7" y="980.9"/><use href="#p" x="170.3" y="952.1"/><use href="#g" x="153.5" y="998.4"/><use href="#c" x="146.9" y="975.3"/><use href="#s" x="182.9" y="991.4"/><use href="#p" x="161.5" y="996.9"/><use href="#g" x="131.3" y="956.6"/><use href="#g" x="171.7" y="983.1"/><use href="#g" x="139.8" y="982.7"/><use href="#g" x="141.5" y="963.2"/><use href="#t" x="129.7" y="977.1"/><use href="#g" x="140" y="972.8"/><use href="#s" x="144" y="931"/><use href="#g" x="166.3" y="1015.2"/><use href="#s" x="163.9" y="1003.7"/><use href="#g" x="167.1" y="1003.7"/><use href="#c" x="172.9" y="964"/><use href="#t" x="181.8" y="972.9"/><use href="#c" x="137.6" y="985.3"/><use href="#c" x="135.9" y="986.7"/><use href="#g" x="151.7" y="986.7"/><use href="#t" x="161.3" y="998"/><use href="#t" x="187.4" y="969.2"/><use href="#c" x="175.2" y="974.9"/><use href="#t" x="166.2" y="994.9"/><use href="#t" x="159.8" y="1017.3"/><use href="#g" x="181.6" y="988.1"/><use href="#t" x="147.3" y="962"/><use href="#t" x="143.3" y="960.9"/><use href="#g" x="129.5" y="979.1"/><use href="#g" x="144.1" y="983.6"/><use href="#c" x="149.3" y="964.2"/><use href="#t" x="158.6" y="1004.4"/><use href="#g" x="145.5" y="980"/><use href="#p" x="169.8" y="993"/><use href="#t" x="133.7" y="985.7"/><use href="#g" x="188.3" y="977.8"/><use href="#c" x="176.8" y="983.2"/><use href="#t" x="175.4" y="955.6"/><use href="#t" x="138.5" y="961.5"/><use href="#c" x="149.3" y="967.3"/><use href="#g" x="131" y="950.2"/><use href="#g" x="172.9" y="976.3"/><use href="#c" x="132.2" y="977"/><use href="#g" x="171.3" y="975.5"/><use href="#g" x="162.4" y="1000.3"/><use href="#t" x="189.2" y="985.9"/><use href="#p" x="129.1" y="929.2"/><use href="#g" x="177.6" y="967.6"/><use href="#s" x="158.5" y="1001.3"/><use href="#t" x="181.4" y="985.7"/><use href="#g" x="146.1" y="986.4"/><use href="#c" x="164.4" y="1011.6"/><use href="#g" x="155.7" y="1008.3"/><use href="#s" x="134.7" y="935.7"/><use href="#g" x="131" y="977.2"/><use href="#g" x="145.6" y="979.4"/><use href="#t" x="137.7" y="962.4"/><use href="#t" x="135.9" y="956.4"/><use href="#g" x="128.8" y="966.1"/><use href="#t" x="129.4" y="933.5"/><use href="#t" x="142.6" y="960"/><use href="#s" x="142" y="966.9"/><use href="#c" x="129.3" y="965.2"/><use href="#c" x="151.6" y="958.8"/><use href="#c" x="137.6" y="974.9"/><use href="#g" x="132.8" y="976.6"/><use href="#t" x="136.5" y="953.8"/><use href="#g" x="139.1" y="966.6"/><use href="#s" x="146.8" y="980"/><use href="#g" x="135.2" y="949.9"/><use href="#g" x="133.5" y="932.8"/><use href="#g" x="183.5" y="976.5"/><use href="#s" x="180" y="931.5"/><use href="#s" x="183.7" y="949.5"/><use href="#s" x="190.4" y="959.7"/><use href="#s" x="189.3" y="978.7"/><use href="#s" x="178.2" y="974.8"/><use href="#g" x="173.8" y="938.4"/><use href="#g" x="173.4" y="954.8"/><use href="#c" x="187.5" y="952.4"/><use href="#t" x="172.7" y="978.9"/><use href="#p" x="177.5" y="963"/><use href="#g" x="183.4" y="961.1"/><use href="#t" x="179.7" y="953"/><use href="#t" x="177.8" y="967.8"/><use href="#s" x="134.6" y="763.6"/><use href="#p" x="134.6" y="836.4"/><use href="#t" x="140.6" y="861.7"/><use href="#c" x="187.2" y="824.1"/><use href="#c" x="187.2" y="841.1"/><use href="#c" x="187.2" y="866.7"/><use href="#g" x="180.8" y="868.4"/><use href="#c" x="175.8" y="881.7"/><use href="#t" x="140.6" y="885"/><use href="#g" x="180.8" y="895"/><use href="#c" x="167.2" y="901.6"/><use href="#p" x="130.6" y="891.7"/><use href="#g" x="134.9" y="895"/><use href="#c" x="143.9" y="894.3"/><use href="#t" x="136.6" y="906.6"/><use href="#t" x="187.5" y="914.9"/><use href="#c" x="143.2" y="916.6"/><use href="#t" x="139.9" y="914.9"/><use href="#t" x="160.9" y="921.6"/><use href="#c" x="161.5" y="924.3"/><use href="#t" x="169.2" y="923.9"/><use href="#o" x="130.9" y="927.6"/><use href="#g" x="180.8" y="929.3"/><use href="#g" x="188.2" y="931.6"/><use href="#o" x="159.9" y="933.9"/><use href="#g" x="139.9" y="928.3"/><use href="#g" x="146.6" y="929.9"/><use href="#c" x="132.3" y="941.6"/><use href="#g" x="151.6" y="949.2"/><use href="#t" x="144.9" y="946.6"/><use href="#g" x="181.5" y="945.6"/><use href="#t" x="188.2" y="944.2"/></g>
<path d="M153.8 1003.3h1.2M131.2 977.2h1.2M160.9 1022.4h1.7M143.4 990.7h1.8M179.8 990.4h1M155.6 1010.6h1.2M166.6 1036.3h0.8M167.9 1018.8h1.2M134.7 979.3h1M154.8 1014.2h2M164.6 1016.8h1.2M170.4 992.6h1.5M150 981.1h1.2M158.9 1011.3h1.4M162 1019.1h1.2M146 978.3h2M162 1038.5h1.6M129.8 993.5h1.8M125.1 985.6h1.9M144.6 984.8h1.3M137.1 987.3h1.5M130.2 978.9h1.5M178.2 1008.7h0.8M124.8 985.3h1.4M173.6 1042.7h1.8M170.8 990.4h1.5M169 1037.9h1.3M180.1 1004.3h2M128.9 989.8h1.6M158.3 1018.5h1.3M154.3 998h2.1M178.2 982.3h0.9M138.8 988.8h2M134.2 980.5h1.6M177.3 1003.1h1.4M184.4 1007.5h0.8M166.2 1013.8h2M135.9 989.1h1.3M171.4 989.6h2M157.5 1009.1h1.5M160.6 1028.7h1.1M143 983.7h1.6M144 986.4h0.8M151.1 990.1h1.3M129 976.3h1.8M142.4 984.7h2.1M128.7 982.2h1.3M140.8 984.2h1.9M145.3 1002h1.2M171.7 986.9h2.1M130.2 1015h2.1M172.5 999.8h1.2M135.1 981h1.5M144.8 979.8h2M138.3 980h2.1M141.1 984.9h1.6M179.7 983.5h1.5M177.9 992h1.7M172.5 985.1h1.6M135 978.5h2.1M126 995.1h2.2M129.1 977.8h2.1M145.8 983.1h2.1M133.1 991.4h1.5M152.2 993h1.1M138.8 990.6h2M159.9 1019.9h1.1M147.8 981.2h1.7M164.7 1012.2h2.1M170.2 1045.1h1.7M140.3 981.9h2M130.8 980.2h2.1M183.7 1000.8h1.4M153.9 1002.2h1.2M146.6 982.6h1.1M182.2 989.1h1.9M168.9 1030.5h2.2M174.8 985.5h1.2M166 1013.5h1.3M127.5 986.3h1.6M163.6 1020h0.9M183.8 1012.7h1.4M179.3 982.7h1.7M175.6 983h0.9M146.8 983.2h1.4M139.6 982.2h1.8M133.8 981.4h1.8M134.2 979.2h2.2M177.2 986.8h2M161.9 1024.6h2M142.9 983.7h1.6M175.1 990.8h1.6M125.2 982.4h1.1M180.1 987.9h1M169.2 995.5h1.3M183.8 987h1.8M154.8 1011.3h1.1M157.7 1018.7h2M167.3 1033h2.1M171 1047.2h1.4M160.1 1027h2.1M144.1 981h2.2M137.5 977h1.7M150.9 982.3h1.1M168 1006h1.4M142.6 978.1h1.9M181.6 984.2h1.3M175.1 1042h0.8M152.3 989.9h1.1M157.7 1012.5h1.5M184 987.1h1.5M173.7 1000.1h1M137 979.8h2M168.1 1016.7h0.9M159.5 1027.6h2M180.9 987.4h1M177.4 998.5h1.8M134.3 976.4h1M139.4 979.6h1.6M140.7 978.6h2.1M159.9 1051.4h1M183 996h2M134.2 979.6h2.1M160.8 1035.7h0.9M184.5 985h1.2M161.6 1019h1.7M184.3 1000.9h1.6M128.2 979.3h1.6M133.5 989h1.9M179.6 996.1h1.5M173.7 987.4h2M170.4 990.7h0.9M159.6 1009h1.5M126.9 991.2h1.7M134.7 977.6h1.3M141.5 986.4h1.6M140.4 986.8h1.3M158.8 1018.2h1.9M163.8 1021.7h1.8M139.1 988.4h1.9M184.8 990.2h1.1M135.6 990.8h1.3M149.8 1007h1.7M127.9 980.7h1.9M181.2 985.1h1.8M156 1004.8h1.5M172.6 995.7h1M148.2 979.7h1M142.7 984.1h1.4M140.9 978.2h1.6M166 1016.9h1.3M141.8 978.8h1.2M143.8 980.4h1.4" stroke="#fff" stroke-width="1.2" opacity=".8"/>
<path d="M187 1223L186 1220.1L186.3 1217.1L186.2 1212.8L186.8 1209.1L187.2 1205.3L186.9 1201.4L186 1197.4L187.3 1194.6L186.8 1191.3L186.8 1187.9L187.1 1183.8L186.5 1180.2L187 1177.7L186.2 1173.9L186.3 1169.6L187.4 1165.6L187 1161.6L186.5 1158.4L187.2 1154.4L186.3 1151.5L186.5 1147L187.4 1143.5L186.6 1139.3L187.2 1135.1L186.7 1132.4L186.5 1128.4L187 1124.5L186.1 1121.9L187.3 1118.2L187.3 1115L186.4 1110.8L187.1 1107.1L186.2 1103.3L186 1099.6L187.3 1095.7L186.5 1092.3L186.9 1089.1L187.3 1085.7L186.8 1082.3L187.3 1078.8L187.3 1074.6L187.2 1070.2L186.1 1067.3L187 1064L187.2 1059.8L187.2 1056.1L186.4 1051.9L186.3 1047.8L186.9 1044.2L187.2 1041.6L186.7 1038.8L187.3 1034.4L186.7 1031.4L186.4 1028.1L187.1 1023.8L186.8 1019.8L186.7 1017.7L187.8 1016.9L188.9 1017.7L190.3 1022.9L191.2 1017.3L192.1 1021.4L193.7 1019L195.4 1020.2L197 1018.4L198.1 1023.3L199.1 1021.3L200.3 1021.3L201.6 1023.8L203.1 1022.7L204.8 1017.9L206 1022.7L207.3 1023.6L208.5 1018.5L210.1 1017.3L211.8 1017.3L213 1025.2L214.7 1018.4L216.3 1020.9L217.3 1018L218.8 1020.9L220.5 1022.5L222.2 1019.3L223.5 1022.5L225.2 1024.2L226.3 1021.2L227.9 1023.4L229.5 1026.7L231.1 1021L232.2 1019.4L234 1018.6L235.4 1022.3L237.2 1019.7L238.2 1022.6L239.9 1021.6L241.7 1024.9L243.3 1022.2L244.6 1022.9L245.9 1021.6L247 1020.5L248 1024.4L249.6 1025.1L250.9 1024.1L252.5 1024.9L253.7 1022.1L255.4 1024.6L256.4 1224.6L254.5 1224.7L253.1 1223.3L251.7 1224.9L250.4 1223.6L248.2 1224.5L246.1 1224.3L244.1 1224.8L242.6 1224.3L240.8 1223.4L239.1 1224.2L236.9 1224.3L234.5 1224.4L233 1224.3L231 1224.3L228.8 1223.6L226.7 1224L224.5 1223.6L223.1 1223.4L220.9 1224.7L218.5 1224L216.3 1224L214.7 1223.7L213.4 1224.4L212 1223.4L210.7 1224.2L209.1 1224.7L207.7 1223.7L205.5 1223.5L203.5 1223.6L201.9 1224.2L199.7 1224.7L198.5 1223.9L196.4 1223.7L194.3 1224.7L192 1224.9L190.1 1225L188.6 1223.5L187.2 1224.5z" fill="#6495ED" stroke="#6495ED" stroke-width="0.8"/>
<g stroke="#6495ED"><use href="#g" x="215.1" y="1008"/><use href="#t" x="235.6" y="982.6"/><use href="#c" x="209.5" y="995.4"/><use href="#o" x="193.6" y="1011.8"/><use href="#g" x="213.3" y="1004.1"/><use href="#c" x="212.8" y="1002.1"/><use href="#c" x="249.8" y="993.7"/><use href="#t" x="199.1" y="1008"/><use href="#p" x="193.6" y="978.2"/><use href="#t" x="223.2" y="1011.6"/><use href="#c" x="205.9" y="1011.5"/><use href="#s" x="214.3" y="950.6"/><use href="#g" x="207.5" y="954.8"/><use href="#t" x="245.4" y="951.7"/><use href="#g" x="197" y="1019.3"/><use href="#g" x="240.7" y="1015"/><use href="#g" x="251.3" y="1026.7"/><use href="#g" x="251.5" y="1013.3"/><use href="#s" x="223.9" y="1003.9"/><use href="#g" x="248.9" y="987.6"/><use href="#t" x="238.7" y="984.1"/><use href="#g" x="193.8" y="1017.6"/><use href="#g" x="207.3" y="1023.8"/><use href="#t" x="255.3" y="978.4"/><use href="#g" x="193" y="1022.3"/><use href="#c" x="200.5" y="1019.5"/><use href="#g" x="195.9" y="953.7"/><use href="#s" x="252.4" y="1013.5"/><use href="#g" x="236.7" y="1006.3"/><use href="#g" x="254.9" y="948.7"/><use href="#g" x="236.4" y="1003.4"/><use href="#g" x="244.6" y="976.8"/><use href="#c" x="212.1" y="1023.7"/><use href="#s" x="208.1" y="986.6"/><use href="#c" x="218.8" y="1022.1"/><use href="#g" x="252.9" y="1001"/><use href="#o" x="208.9" y="1016.4"/><use href="#g" x="219.3" y="1021.8"/><use href="#g" x="237.8" y="1025.7"/><use href="#g" x="219.3" y="1023.2"/><use href="#t" x="230.2" y="1004.5"/><use href="#g" x="197.3" y="1016"/><use href="#g" x="217.4" y="1018.6"/><use href="#g" x="243.7" y="992.3"/><use href="#t" x="224.3" y="986.3"/><use href="#g" x="240.4" y="1007.8"/><use href="#t" x="215.3" y="1012.7"/><use href="#s" x="215.5" y="1012.6"/><use href="#s" x="199.1" y="1003.2"/><use href="#g" x="191.2" y="1014.4"/><use href="#s" x="230" y="988.3"/><use href="#g" x="228.4" y="993.8"/><use href="#c" x="256.3" y="1013.2"/><use href="#c" x="255.4" y="1026.5"/><use href="#g" x="252.9" y="991.3"/><use href="#g" x="224.7" y="1015.1"/><use href="#g" x="200.2" y="997.4"/><use href="#t" x="219.8" y="1022.2"/><use href="#c" x="209.6" y="1017.4"/><use href="#g" x="246.6" y="979.6"/><use href="#g" x="250.2" y="1008.6"/><use href="#g" x="255.8" y="993.6"/><use href="#g" x="197" y="998"/><use href="#c" x="238" y="983.6"/><use href="#t" x="216.9" y="986.8"/><use href="#g" x="221.9" y="990.4"/><use href="#s" x="209.9" y="1018.6"/><use href="#c" x="215.1" y="1002.8"/><use href="#g" x="228.5" y="1010.9"/><use href="#g" x="244" y="980.9"/><use href="#o" x="196.6" y="1024.8"/><use href="#t" x="235" y="1025.8"/><use href="#g" x="202.8" y="1017.2"/><use href="#t" x="195.4" y="958.1"/><use href="#g" x="238.2" y="956.5"/><use href="#t" x="197.6" y="997.7"/><use href="#c" x="238.6" y="984"/><use href="#t" x="200.6" y="1025.3"/><use href="#t" x="221.7" y="1023.5"/><use href="#g" x="214.4" y="1016.3"/><use href="#g" x="226.4" y="1002.5"/><use href="#s" x="214.2" y="1012.9"/><use href="#t" x="255.8" y="1012.5"/><use href="#g" x="200.1" y="989.8"/><use href="#g" x="213.7" y="1018"/><use href="#g" x="228" y="964.6"/><use href="#g" x="228.9" y="1011.3"/><use href="#g" x="230.9" y="1019.4"/><use href="#t" x="253.1" y="984.1"/><use href="#p" x="215.7" y="1025.3"/><use href="#g" x="229.7" y="971.4"/><use href="#t" x="224.2" y="1025"/><use href="#g" x="224.4" y="1020.9"/><use href="#g" x="201.2" y="1007.7"/><use href="#g" x="255" y="1006.1"/><use href="#t" x="194.9" y="1007.9"/><use href="#g" x="246.7" y="1025.1"/><use href="#p" x="216" y="1008.2"/><use href="#t" x="250.7" y="1015.5"/><use href="#c" x="196.2" y="950.5"/><use href="#t" x="241.8" y="957.1"/><use href="#g" x="232.7" y="996.9"/><use href="#g" x="205.9" y="1014.9"/><use href="#g" x="210.3" y="1004.3"/><use href="#g" x="196.1" y="1015.2"/><use href="#p" x="249" y="1023.2"/><use href="#g" x="204.7" y="1024.7"/><use href="#t" x="253" y="1016"/><use href="#p" x="254.2" y="1025.1"/><use href="#g" x="223" y="1015.9"/><use href="#t" x="199.7" y="1011"/><use href="#g" x="203.3" y="1024.6"/><use href="#g" x="206.7" y="1022.6"/><use href="#t" x="213.3" y="981.3"/><use href="#g" x="240" y="997.9"/><use href="#g" x="210.9" y="986.2"/><use href="#g" x="194.7" y="1006.2"/><use href="#c" x="198.6" y="1015.3"/><use href="#g" x="224.8" y="1009.5"/><use href="#p" x="230" y="1000.8"/><use href="#t" x="230" y="1019.7"/><use href="#g" x="223.2" y="1003.2"/><use href="#c" x="202.4" y="1022.8"/><use href="#p" x="243.5" y="1010.6"/><use href="#g" x="226.4" y="1006.1"/><use href="#s" x="213.1" y="999.8"/><use href="#g" x="210.6" y="1015.2"/><use href="#g" x="204.7" y="975"/><use href="#s" x="221.5" y="993.7"/><use href="#g" x="233.2" y="1000.6"/><use href="#g" x="253.3" y="989.1"/><use href="#g" x="231.3" y="997.2"/><use href="#c" x="203.2" y="1007.7"/><use href="#t" x="234.3" y="1003.5"/><use href="#g" x="253.7" y="991.8"/><use href="#c" x="201.2" y="1006.6"/><use href="#g" x="198.7" y="1014.8"/><use href="#s" x="224.2" y="988.8"/><use href="#s" x="253.7" y="1011.3"/><use href="#c" x="251.7" y="991.2"/><use href="#t" x="203.7" y="1011.6"/><use href="#c" x="223.5" y="989.2"/><use href="#t" x="224.4" y="992"/><use href="#g" x="216.9" y="982.4"/><use href="#p" x="250.5" y="999.6"/><use href="#c" x="229.1" y="1014.5"/><use href="#t" x="200.7" y="987.9"/><use href="#g" x="194.7" y="985.5"/><use href="#p" x="209.1" y="973.7"/><use href="#t" x="253.5" y="996.1"/><use href="#g" x="229.9" y="1003"/><use href="#t" x="231.9" y="1023.5"/><use href="#s" x="235.7" y="1020.9"/><use href="#g" x="231.6" y="993.9"/><use href="#c" x="225" y="953.2"/><use href="#t" x="255" y="1000.4"/><use href="#c" x="255" y="1016.2"/><use href="#g" x="242.6" y="960.7"/><use href="#g" x="221.7" y="959.5"/><use href="#g" x="244.5" y="956.9"/><use href="#t" x="242.3" y="960.7"/><use href="#s" x="253.1" y="955.7"/><use href="#p" x="244.8" y="952.3"/><use href="#g" x="206.3" y="957.8"/><use href="#c" x="223.5" y="950.5"/><use href="#g" x="233.2" y="961.9"/><use href="#c" x="223" y="952"/><use href="#c" x="193.7" y="944.3"/><use href="#c" x="236.5" y="949.4"/><use href="#g" x="248" y="776.9"/><use href="#t" x="253.7" y="782.5"/><use href="#g" x="247" y="826.1"/><use href="#g" x="239.1" y="865"/><use href="#g" x="239.1" y="870.7"/><use href="#g" x="230.4" y="881.7"/><use href="#c" x="204.1" y="896"/><use href="#t" x="223.1" y="897.6"/><use href="#t" x="238.7" y="904"/><use href="#t" x="256.4" y="904"/><use href="#c" x="238.1" y="923.9"/><use href="#t" x="238.1" y="918.3"/><use href="#t" x="252.4" y="923.9"/><use href="#c" x="204.1" y="930.9"/><use href="#t" x="204.1" y="925.6"/><use href="#t" x="215.4" y="941.6"/></g>
<path d="M236.4 1017.5h2.2M216.4 1036.9h2.2M215.1 1051.1h1.5M216.5 1015.7h1.8M243.7 1034.5h1.9M188.6 1025.8h2M235.6 1039.6h1.3M201.3 1026.1h1.2M228 1026.4h1.6M214.6 1026.7h1.3M194.9 1041.1h1.8M210.8 1047.5h1.2M208.9 1016.3h1.1M223.7 1020.9h2.2M207.2 1020.6h0.9M239.7 1018.3h2.1M249.8 1016h1.8M228.1 1019.2h1.9M205.3 1024.6h0.8M201.6 1022.8h1.8M239.7 1022.4h2.1M224.8 1024.4h1.8M192.9 1055.1h1.5M220.8 1018.2h1.1M197.4 1026.1h0.9M206.2 1018.4h1.8M243.6 1015.8h1.4M206.4 1016.1h2.1M214.1 1025.4h2.1M221.2 1017.6h1.8M228.8 1019.8h1.6M250.3 1023.8h0.8M238.3 1021.8h1M252.4 1017.1h0.9M198.3 1021.2h1.1M240.8 1054.7h2M217.4 1053.4h1.3M221.1 1047.9h1.7M201.8 1015.6h0.8M195.8 1023h1.7M208 1016.2h1M231.4 1025.4h1M190.5 1026.3h1.8M208.8 1027.4h2M219.5 1030h2.1M219.5 1016.5h2M207.3 1023.6h2.1M199.6 1021.2h1.3M223.2 1015.7h1.1M206.8 1015.4h1.9M205.1 1039.5h1.1M199.5 1026.7h1.2M201.5 1019.7h1.6M244.5 1069.9h1.9M221.9 1030.8h1.8M201.9 1026.6h1.7M227.6 1036.8h1.2M241.2 1019.5h1.9M210.1 1027h1.6M199.6 1023.5h1.1M222.5 1020.3h1.7M200.1 1025.3h1.4M218.6 1025.3h1.3M223.6 1019.9h1.3M240.4 1022.2h1.6M243.9 1036.4h1.5M242.8 1030.6h1.1M210.7 1015.5h1.1M228.9 1020.6h2M206.4 1021.4h0.9M214.2 1024.4h2M231.3 1030.7h1.3M205.7 1018.8h1.6M207.9 1030.4h1M224.6 1025.1h1.3M231.2 1024.2h0.9M196 1025.6h1.4M198.3 1015.6h1.4M212.8 1027.6h1.5M234.7 1017.5h1.8M197.7 1044.7h0.9M214.4 1023.6h1.4M230.7 1016.9h1.8M240.6 1019.2h0.8M251 1017.2h1.2M227.9 1018.1h1M189.1 1023.4h1.9M192.7 1036h0.8M249.6 1028h2.1M224.8 1022.5h2.2M191.6 1049h0.9M221.1 1015.1h1.3M198.6 1029.7h1.2M248.8 1016.7h1.4M230.5 1023.5h2M218.5 1022.7h1.5M219.6 1025.6h1.5M219.9 1019.5h2.1M252.2 1019.3h1.9M188.6 1033.2h1.2M192.8 1033.9h1.7M200.1 1037.9h1.3M237.5 1017.3h1M242.1 1046.7h2.2M249.5 1020.6h1.7M199 1026.7h1.2M189.6 1018.8h1.7" stroke="#fff" stroke-width="1.2" opacity=".8"/>
<path d="M254 1223L253.4 1219.9L254.3 1216L254 1211.9L254.4 1208.3L253.7 1205.1L253.2 1202.1L253.6 1197.8L253.5 1194.7L253.6 1191.3L254.1 1186.9L253.1 1182.6L253.6 1178.2L253.3 1175.3L253.9 1171.9L254.3 1167.9L254 1163.7L254 1160.9L253.5 1158.2L253 1155.5L253.4 1152.1L253.7 1147.9L253.7 1144.2L253.2 1141.6L254.2 1137.2L253.9 1133.5L254.2 1131L254.3 1128L253 1124.5L254.4 1120.3L254.1 1116.5L253.7 1113L253.7 1110L254.1 1106.9L253.5 1103.9L253.3 1100.6L254.4 1097.6L253.9 1093.3L254 1088.8L253.6 1086.1L254 1082.3L253.1 1077.9L253.1 1074.1L253.8 1071.5L254 1067.2L253.8 1064.7L253.2 1061.1L254.4 1056.6L253.2 1052.7L254 1049.7L253 1046.9L253.4 1043.8L254.2 1039.5L253.9 1035.6L253.1 1032.9L253.4 1030.1L254.2 1026.4L253.9 1023.6L253 1020L253.9 1016.9L254 1013.1L254.3 1009.8L253.9 1005.6L253.7 1003.1L253.1 1000.3L253.7 997.1L254.2 994.1L253.7 989.3L255.4 987L257.2 990.4L259 988.1L260.1 990.2L261.5 990L263.1 986.1L264.9 989.2L266.1 987.2L267.9 986.1L269.7 987.9L270.8 986.4L271.8 990.6L273.7 999.6L274.8 983.6L276.1 984.1L277.9 990.4L279.3 989L280.5 995.9L281.9 989.3L283.4 984.7L284.8 985.6L286.3 989.1L288.2 983.5L289.4 987.8L290.9 989.5L292.6 993.8L293.7 984.7L294.9 985.9L296 985.8L296.9 986.9L298.8 987.8L300.1 1224.3L298.2 1224.6L296.6 1223.3L294.6 1223.8L292.3 1223.4L290.3 1223.3L288.2 1224.5L286.2 1223.9L284.5 1224.1L282.4 1224.4L280.4 1224.8L278.3 1224.5L276.1 1224.4L274.2 1223.7L272.9 1223.5L271.6 1223.9L269.4 1223.7L267.7 1223.6L266.2 1224.2L264.4 1224.1L262.1 1224.2L260.4 1223.4L258.8 1223.7L256.5 1223.6L254.9 1224.9z" fill="#00008B" stroke="#00008B" stroke-width="0.8"/>
<g stroke="#00008B"><use href="#c" x="261.4" y="991.7"/><use href="#g" x="262.6" y="988.4"/><use href="#c" x="277.2" y="982"/><use href="#c" x="267" y="988.2"/><use href="#g" x="263.6" y="990.5"/><use href="#g" x="263.5" y="988.8"/><use href="#g" x="282.6" y="967.9"/><use href="#t" x="266.6" y="978.2"/><use href="#c" x="292.3" y="988.3"/><use href="#g" x="300.6" y="989.7"/><use href="#g" x="272" y="988.2"/><use href="#t" x="293.5" y="947.9"/><use href="#p" x="281.2" y="951.7"/><use href="#g" x="285.3" y="977.3"/><use href="#g" x="287.4" y="982.4"/><use href="#c" x="291.5" y="988.9"/><use href="#g" x="271.4" y="987.9"/><use href="#g" x="290.9" y="946"/><use href="#t" x="288.4" y="991.5"/><use href="#t" x="281.1" y="981.4"/><use href="#t" x="295.6" y="973.3"/><use href="#g" x="296.2" y="962.7"/><use href="#g" x="290" y="976.9"/><use href="#t" x="261.5" y="986.2"/><use href="#g" x="286.6" y="986.7"/><use href="#t" x="288.9" y="961.3"/><use href="#g" x="264.6" y="980"/><use href="#g" x="277" y="987.8"/><use href="#s" x="273.8" y="983.2"/><use href="#g" x="284.2" y="988"/><use href="#t" x="297.6" y="963.3"/><use href="#g" x="270" y="990"/><use href="#t" x="271" y="990.1"/><use href="#g" x="283.2" y="975.5"/><use href="#g" x="277.1" y="988.6"/><use href="#p" x="285.3" y="954.2"/><use href="#c" x="295.4" y="959.7"/><use href="#g" x="260.6" y="988.4"/><use href="#p" x="273.7" y="919.5"/><use href="#t" x="264.1" y="985.3"/><use href="#g" x="296.2" y="977"/><use href="#t" x="266.9" y="932.2"/><use href="#g" x="295.5" y="976.7"/><use href="#t" x="283" y="963.8"/><use href="#g" x="294.2" y="989.5"/><use href="#g" x="269.2" y="975.2"/><use href="#t" x="288.2" y="989.4"/><use href="#g" x="261.8" y="991.5"/><use href="#g" x="298.4" y="959.3"/><use href="#g" x="294.8" y="966.9"/><use href="#t" x="297.6" y="920.1"/><use href="#p" x="292.9" y="953.9"/><use href="#g" x="270.6" y="984.5"/><use href="#c" x="275.4" y="982.3"/><use href="#t" x="270.5" y="977.2"/><use href="#s" x="277.2" y="947.8"/><use href="#t" x="294.2" y="974.5"/><use href="#c" x="298.7" y="972.4"/><use href="#t" x="259.7" y="943.1"/><use href="#c" x="286.9" y="950.6"/><use href="#c" x="288.8" y="930.9"/><use href="#c" x="290.2" y="920.6"/><use href="#c" x="268.1" y="929.6"/><use href="#c" x="258.4" y="952.5"/><use href="#c" x="263.3" y="956.8"/><use href="#t" x="265.2" y="966.6"/><use href="#o" x="267" y="953.2"/><use href="#t" x="263.3" y="948.2"/><use href="#o" x="299.5" y="982.7"/><use href="#g" x="288" y="746"/><use href="#g" x="288" y="799.2"/><use href="#g" x="280.6" y="804.5"/><use href="#g" x="288" y="807.8"/><use href="#t" x="262" y="822.5"/><use href="#g" x="262" y="834.1"/><use href="#g" x="262" y="854.1"/><use href="#c" x="300.6" y="849.4"/><use href="#c" x="296.3" y="865.7"/><use href="#c" x="296.9" y="866.4"/><use href="#c" x="259.7" y="874"/><use href="#c" x="263" y="884"/><use href="#t" x="269.7" y="885"/><use href="#g" x="277.3" y="885.7"/><use href="#c" x="300.6" y="887.3"/><use href="#g" x="301.9" y="893.3"/><use href="#t" x="262" y="908.3"/><use href="#c" x="263" y="914.9"/><use href="#g" x="268" y="916.6"/><use href="#g" x="290.3" y="914.9"/><use href="#s" x="290.3" y="923.9"/><use href="#g" x="275.6" y="922.6"/><use href="#g" x="281.3" y="930.9"/><use href="#g" x="263" y="940.6"/><use href="#g" x="297.9" y="936.6"/><use href="#g" x="290.3" y="944.2"/><use href="#g" x="277.3" y="945.6"/><use href="#c" x="290.3" y="954.9"/><use href="#g" x="278.6" y="959.2"/><use href="#g" x="259.7" y="964.2"/><use href="#t" x="269.7" y="956.5"/><use href="#t" x="302.9" y="968.2"/></g>
<path d="M273.2 1032.4h1M263.7 994.8h1.9M285 986.6h1.3M285.1 1001h1.1M267.1 1019h1.7M293.5 986.7h1.9M261.3 988.4h0.9M293.3 986.9h1.3M270.7 981.3h1.5M281.3 986.6h0.9M272.5 1009.5h2M289.7 983.8h0.9M290.3 986.8h1.8M279.8 984.6h0.8M269.2 985.5h1.9M281.7 981h1M277.1 988.9h2.1M274.7 983.9h1.6M290.1 1017.7h1.8M266.2 985.1h1.8M280.8 982.3h1.7M279 991.6h1.1M290 988.2h1.4M262.5 997.7h2.1M289.7 988.3h1.1M270.1 1038.6h2M292.6 1010.3h1.9M283.9 986h2M279.1 982.3h1.8M295 988.5h1.7M288.8 984.4h1.6M264.5 984.2h1M286.7 991.4h1.1M292.4 986.8h1.5M280.6 984.5h1.6M268.5 988.8h1.8M272.1 985.2h1.5M292.2 986.5h2.1M291.3 1009.7h1.5M291.4 986.1h1.8M258.8 986h1.3M281.2 985.8h1.8M287.7 988.7h1M269.7 987h0.9M259 981.3h2.1M294 1017.7h1.4M259 999.5h1.1M285.9 993.1h1.6M288.1 983.2h1M263.6 982.7h1.8M272.2 981.2h0.9M285.5 982.6h1.7M269.5 985.3h0.8M270 986.2h2.1M265 1015.5h1.2M261.2 984h1.2M256.5 982.2h0.9M280.5 983.7h1.7M276.3 994h1.5M280.5 982.4h1.7M291.2 1020.8h1M259.1 988.4h1M275.5 986.9h0.8M265.3 981.9h1.4M285.3 982h0.9M262.5 984.6h1.8M281.8 985.8h1.1M286.6 991.1h1.9M270.6 988.8h1.5M287 1004.2h1.2M272.1 1010h1.4M286.1 989.8h1M272.1 991.8h1.4M290.2 983.8h1.5M288.3 982.9h2.1M273.7 998.8h1.2M263.9 984.9h1.6M277.4 985.2h1.1M280.4 983.7h1.7M266.6 982.9h1.8M290.2 1000.7h1.5M270.9 982.4h2.1M259.7 983.9h0.9M258.9 981.3h2M261.6 981.4h0.9M283.2 982h1.6M272.8 984.4h1.1M294.2 982.4h1.3M276 983.9h0.9M284.9 982.8h1.4M275.2 984h1.9M294.7 999.3h0.9M265.8 1000.7h1.3M279.3 991.6h1.5M275.4 981.8h1.7M257.2 981.5h1.4M268.7 1002.6h2.1M293.5 995.4h2.1M293.9 982.5h2M283.3 1009.9h1.6M284.2 981.9h1.3M260.8 991.7h0.9M295.9 981.4h1.6M266.8 985h1.7" stroke="#fff" stroke-width="1.2" opacity=".8"/>
<path d="M297.7 1223L297.6 1219.4L297.2 1215.3L297.2 1212.3L297 1208.5L296.9 1205.7L297 1203.1L297.7 1200.6L297.5 1197.9L297.6 1194.1L297.9 1190.6L297.8 1186.5L297.8 1182.2L297.7 1178.8L297.4 1175L297 1171.7L297.5 1168.3L297.2 1165.2L298 1161.7L297 1157.2L297 1153.4L297.6 1149.7L297.4 1146.2L296.9 1141.9L297.5 1137.7L297 1133.9L298 1131L297.3 1127.4L297.6 1123.1L298 1120.5L297.9 1117.6L297.8 1114.8L297.5 1111.9L297.2 1107.7L297 1104.3L298.1 1101.1L297.1 1098.1L297.3 1094.2L297.3 1090.5L296.9 1087L297.2 1083.6L297.3 1080.3L296.8 1077.3L297.8 1073.9L297.7 1070.3L297.7 1065.9L297.1 1062.2L296.9 1058.6L297.7 1055.8L298.1 1051.5L296.9 1048.2L297.5 1044.1L297.4 1040L296.8 1036.1L297.6 1032.6L296.8 1029L297.4 1023.4L298.9 1017.2L300 1022.9L301.4 1021.5L303 1017.3L304.7 1031.5L305.7 1021.3L306.8 1022.2L308.5 1018.6L309.8 1017.7L311.2 1018.9L312.9 1019.2L314.7 1029.7L316.1 1022.4L317.4 1028.1L319.1 1018.3L320.3 1022.1L321.6 1022.4L323.2 1023.3L324.3 1022.5L325.5 1019L326.6 1020.2L328.1 1021.6L329 1018.2L330.2 1023.5L331.3 1024.2L332.8 1021.1L334.2 1021.4L335.9 1021.1L336.8 1021.3L338.1 1018.9L339.4 1019L340.4 1024.3L341.5 1223.4L339.9 1224.3L338.1 1223.3L336 1223.9L334.3 1224.5L332.2 1223.9L330.8 1224L329.5 1223.5L327.3 1224.5L325.6 1224.4L324.2 1223.3L322.5 1224.5L320.4 1224.3L318.5 1223.3L317.3 1224.3L315.2 1223.8L313.3 1224.2L311.2 1224.5L309.9 1224.1L307.9 1224.1L306.3 1224.5L304.2 1225L301.9 1225L300.6 1224.1L298.4 1224.3z" fill="#6495ED" stroke="#6495ED" stroke-width="0.8"/>
<g stroke="#6495ED"><use href="#g" x="321.3" y="1002"/><use href="#t" x="302.2" y="1020.2"/><use href="#c" x="303.4" y="1022.6"/><use href="#t" x="334.3" y="1022.4"/><use href="#g" x="327.9" y="1015.7"/><use href="#t" x="327.6" y="1011.6"/><use href="#g" x="311.8" y="1023.8"/><use href="#c" x="337.9" y="1004.5"/><use href="#t" x="314" y="1018.7"/><use href="#g" x="312.9" y="944.1"/><use href="#c" x="328.2" y="1009.8"/><use href="#t" x="339.9" y="1015"/><use href="#c" x="330.5" y="1021.2"/><use href="#g" x="301.8" y="997"/><use href="#g" x="335.7" y="1010.9"/><use href="#o" x="332.6" y="1011.6"/><use href="#g" x="302.2" y="1002.9"/><use href="#c" x="331.8" y="1023.5"/><use href="#g" x="327.3" y="1015.2"/><use href="#t" x="322.9" y="993.8"/><use href="#t" x="319.9" y="983"/><use href="#g" x="316.1" y="957.5"/><use href="#c" x="313.7" y="985.2"/><use href="#t" x="314.4" y="1021.6"/><use href="#g" x="323.9" y="1023.8"/><use href="#c" x="304.6" y="1017.8"/><use href="#g" x="330.4" y="1018.9"/><use href="#g" x="305.2" y="1005.8"/><use href="#g" x="305.1" y="990.3"/><use href="#t" x="335.1" y="990.4"/><use href="#g" x="334.5" y="991.6"/><use href="#c" x="304.9" y="1011.3"/><use href="#g" x="329.3" y="1011.6"/><use href="#c" x="337.1" y="983.9"/><use href="#c" x="326.7" y="1002.5"/><use href="#g" x="318.2" y="1003.4"/><use href="#g" x="315.8" y="961.7"/><use href="#c" x="310.4" y="985.7"/><use href="#t" x="314" y="1009.7"/><use href="#c" x="316" y="947.8"/><use href="#s" x="324.5" y="992.1"/><use href="#g" x="332.3" y="999.7"/><use href="#t" x="333.4" y="1013.6"/><use href="#g" x="322.3" y="976"/><use href="#t" x="316.3" y="981.7"/><use href="#g" x="302.1" y="996.5"/><use href="#o" x="316.2" y="998.4"/><use href="#t" x="317.2" y="1021"/><use href="#c" x="308.2" y="964"/><use href="#s" x="309.3" y="1003.2"/><use href="#g" x="323.7" y="1020"/><use href="#p" x="316.8" y="995.9"/><use href="#g" x="318.6" y="1020.9"/><use href="#g" x="311.3" y="998.8"/><use href="#p" x="327.7" y="1025.6"/><use href="#t" x="306.9" y="1013.5"/><use href="#c" x="331.9" y="1013.8"/><use href="#g" x="318.4" y="1018.7"/><use href="#g" x="308.6" y="1019.6"/><use href="#c" x="304.6" y="962.6"/><use href="#t" x="304.1" y="1024.1"/><use href="#g" x="314.9" y="1020.4"/><use href="#c" x="310.4" y="1007.8"/><use href="#t" x="318.8" y="1022.6"/><use href="#g" x="341" y="1022.8"/><use href="#g" x="316" y="984.2"/><use href="#t" x="316.9" y="948.1"/><use href="#g" x="336.3" y="960.1"/><use href="#g" x="324.1" y="1022.6"/><use href="#c" x="321.2" y="954.7"/><use href="#s" x="320.2" y="1002.8"/><use href="#g" x="324.4" y="1000.2"/><use href="#t" x="322.3" y="1008.3"/><use href="#t" x="329.7" y="1008.6"/><use href="#t" x="335.6" y="992.3"/><use href="#g" x="334.4" y="1009.1"/><use href="#c" x="336.2" y="1013.8"/><use href="#g" x="325.9" y="1015.6"/><use href="#c" x="317.9" y="971.3"/><use href="#c" x="321" y="1001.1"/><use href="#p" x="316" y="968.2"/><use href="#c" x="313.3" y="1021.4"/><use href="#g" x="313.2" y="982.8"/><use href="#g" x="334.6" y="1022.9"/><use href="#g" x="309.1" y="1024.7"/><use href="#g" x="324.8" y="1025"/><use href="#t" x="305.5" y="1005.9"/><use href="#t" x="321.2" y="1009.5"/><use href="#g" x="335" y="1018.4"/><use href="#g" x="339.6" y="996.4"/><use href="#g" x="316.9" y="1001.2"/><use href="#g" x="314.6" y="986.4"/><use href="#g" x="322.9" y="961"/><use href="#c" x="338.2" y="981.3"/><use href="#s" x="312.2" y="1020.4"/><use href="#g" x="303.4" y="988.6"/><use href="#g" x="319.5" y="986.1"/><use href="#t" x="319.7" y="962.3"/><use href="#s" x="314.9" y="946.4"/><use href="#c" x="341.7" y="993.7"/><use href="#g" x="323.1" y="948.1"/><use href="#s" x="318" y="961.7"/><use href="#t" x="334.6" y="951.7"/><use href="#c" x="324.4" y="941.8"/><use href="#t" x="327.9" y="953.8"/><use href="#g" x="300.5" y="955.3"/><use href="#g" x="330.2" y="958.9"/><use href="#t" x="311.8" y="953.1"/><use href="#t" x="326.2" y="862.4"/><use href="#c" x="311.9" y="894"/><use href="#c" x="342.2" y="893.3"/><use href="#t" x="333.9" y="897.3"/><use href="#t" x="333.9" y="907.3"/><use href="#g" x="332.9" y="924.9"/><use href="#g" x="312.9" y="934.9"/><use href="#g" x="327.2" y="933.2"/><use href="#c" x="341.8" y="940.9"/><use href="#g" x="306.3" y="948.2"/><use href="#g" x="326.2" y="948.2"/></g>
<path d="M302.9 1041.5h0.9M302.4 1016h1.4M322.8 1026.6h1.6M327.5 1037.9h2.1M315.9 1015.8h2.2M332.3 1032h1.4M312.6 1015.9h1.9M329.7 1023.1h1.8M336.7 1035.2h1M312.6 1015.7h2.1M322.8 1024.4h1.6M325.9 1015.4h1.5M310.2 1019.3h2.2M306.6 1022.3h1.1M321.5 1025.9h1.5M328.9 1019.5h1M311.1 1049.4h1.9M328.7 1038.2h1.6M320.3 1019.7h1M325.3 1027.3h1.6M331.4 1019.5h1.4M302.2 1029.5h2M334.2 1020.3h0.8M320.8 1023.1h0.9M311.3 1015.1h1M329.9 1021.5h1.7M326 1036.2h1.4M316.6 1035.4h0.9M316 1032.5h1.2M322.7 1026.3h1.9M306.9 1026.6h0.9M334.7 1031.1h1.8M307.8 1034.1h1.6M309.6 1022.2h1.7M327 1021.8h1.7M334 1032.7h1.2M301.1 1021.7h1.5M300.5 1019.4h1.5M324.3 1021.9h1.5M320.3 1065.5h1.6M330.4 1044.3h1.1M320.4 1029.5h1.7M309.7 1030.8h1.4M324.9 1016.1h1.1M335.1 1040.2h1.5M305.2 1044.2h1.9M317.6 1021.5h1M329.5 1032.2h2.1M308.4 1056.2h1.9M331.9 1025.8h1.1M304.1 1022.1h2M302.1 1033.4h1.6M312.1 1015h1.3M316.1 1025.5h1.3M310.2 1041.8h1M326.4 1038.6h2.2M303.1 1038.6h2M301.7 1018.3h1M323.3 1028h1.2M301.3 1030.3h1.8M329.5 1024.6h1.5M313.6 1018.3h1M320.6 1020.1h1.6M308.1 1021.6h1.7M326.5 1022.5h1.7M312.8 1030.6h1.4" stroke="#fff" stroke-width="1.2" opacity=".8"/>
<path d="M338.7 1223L339.4 1220.3L339 1217.6L338.6 1215L339.3 1211L339.2 1206.7L338.3 1202.6L339.4 1198.2L339.3 1194.6L338.2 1191.8L338.3 1188.5L339.5 1184.4L338.9 1180.2L339.2 1175.8L339 1172.7L338.4 1170.1L338.3 1166.6L338.3 1163.3L339.2 1160.1L338.7 1157.3L338.3 1152.9L339.3 1148.7L338.1 1145.1L338.5 1141.8L338.2 1139.1L339.4 1135L339.4 1131.4L338.2 1127.4L338.7 1124.4L338.1 1121.1L339.3 1117.5L338.4 1114.5L338.8 1111.9L338.3 1108.4L338.9 1104.7L339.3 1101.8L338.9 1098.5L339.3 1094.6L339.3 1091.4L339 1088L339.4 1085.4L338.7 1081.7L339.4 1078.8L339.4 1074.8L338.4 1071.1L339.1 1067.4L338.7 1063.1L338.4 1059.8L339 1056.7L339 1052.3L339.4 1048.4L338.8 1044.9L338.5 1042L338.4 1039.3L338.7 1036.4L338.8 1032.8L338.6 1029.5L339.4 1026.2L338.4 1022.1L339.5 1018.1L338.6 1014.6L338.4 1010.9L339 1007.8L338.4 1004.8L339.3 1000.3L338.8 997.1L340.2 994.1L341.9 995.8L343.8 998.4L345.1 996.6L346.6 995.7L348.2 996.3L349.2 994.9L350.2 996.7L351.9 992.4L352.9 994.6L354.8 994L356.3 996L358.1 992.3L359 998.2L360.8 999.7L362.1 995.6L363.1 996.9L364.9 997.8L366.5 1007.6L368.2 1018.9L369.4 1013.9L370.7 1026L372 1014.9L373.3 1014.6L374.3 1007.1L375.6 996.6L377.5 991.6L378.5 997.8L379.5 994.1L380.6 995.5L382.5 992.3L384.2 992.6L385.4 992.4L386.9 990.7L387.8 993.2L389.7 994.6L391.2 990.9L392.8 989.6L393 1223.4L391.1 1223.3L388.8 1223.7L387 1224.1L385.7 1224.4L384.2 1224.2L382.3 1223.6L380 1223.8L378.1 1223.7L376 1223.8L374.3 1223.4L372.3 1224.1L370.3 1224.8L368.6 1224.9L366.2 1223.4L364.8 1223.3L363.4 1223.6L361.2 1224.6L359.7 1224.4L358.1 1224.2L356.3 1223.9L354.8 1224.3L352.4 1224L350.8 1224.8L348.8 1224L347.5 1223.8L345.6 1224.1L343.5 1224.6L341.9 1223.9L339.9 1223.9z" fill="#00008B" stroke="#00008B" stroke-width="0.8"/>
<g stroke="#00008B"><use href="#p" x="392.6" y="987.4"/><use href="#t" x="377.7" y="999.1"/><use href="#g" x="389.4" y="992.1"/><use href="#t" x="365" y="997.9"/><use href="#g" x="351.7" y="981.2"/><use href="#g" x="391.8" y="992.5"/><use href="#t" x="345.1" y="966.1"/><use href="#g" x="393.2" y="997.2"/><use href="#g" x="383.7" y="983.2"/><use href="#g" x="391.9" y="994"/><use href="#p" x="392.2" y="939.5"/><use href="#g" x="361.6" y="987.5"/><use href="#g" x="348.1" y="988.8"/><use href="#p" x="374.5" y="992.4"/><use href="#g" x="389.2" y="992.2"/><use href="#c" x="344.8" y="989.7"/><use href="#g" x="380.9" y="990.6"/><use href="#t" x="366" y="1008.5"/><use href="#t" x="362.4" y="989.7"/><use href="#c" x="358.7" y="993.7"/><use href="#t" x="362.5" y="998"/><use href="#g" x="373.5" y="989.3"/><use href="#t" x="375.4" y="1001.9"/><use href="#t" x="352.2" y="954.9"/><use href="#g" x="345" y="985.8"/><use href="#g" x="386.1" y="994.1"/><use href="#g" x="369.7" y="1000.9"/><use href="#g" x="362.4" y="953"/><use href="#s" x="343.3" y="993"/><use href="#c" x="384.7" y="972.9"/><use href="#g" x="379.1" y="990.6"/><use href="#t" x="349.7" y="999.7"/><use href="#g" x="391.3" y="987.9"/><use href="#s" x="383.6" y="994.2"/><use href="#t" x="354.4" y="995.4"/><use href="#g" x="345.7" y="997.2"/><use href="#t" x="362.7" y="997.8"/><use href="#g" x="387.5" y="943.1"/><use href="#p" x="354.6" y="995.5"/><use href="#c" x="363.6" y="991.7"/><use href="#g" x="354.6" y="980.7"/><use href="#g" x="370" y="1015.9"/><use href="#t" x="354.7" y="993.3"/><use href="#s" x="383.3" y="983.4"/><use href="#g" x="343.1" y="996.1"/><use href="#t" x="347.6" y="991.3"/><use href="#g" x="380.4" y="991.3"/><use href="#g" x="376.9" y="989.8"/><use href="#t" x="353.9" y="980.5"/><use href="#c" x="366.8" y="989"/><use href="#t" x="349.1" y="999.6"/><use href="#t" x="390.7" y="986.3"/><use href="#g" x="377.3" y="994.8"/><use href="#t" x="349.8" y="956.5"/><use href="#o" x="386.8" y="972.5"/><use href="#t" x="364.5" y="962"/><use href="#g" x="358.8" y="986.1"/><use href="#g" x="344.9" y="976.2"/><use href="#g" x="352" y="973.1"/><use href="#g" x="348.5" y="988.9"/><use href="#g" x="353.2" y="960.7"/><use href="#g" x="349.4" y="961.7"/><use href="#p" x="352.9" y="982.9"/><use href="#g" x="357.4" y="971.2"/><use href="#c" x="345.1" y="941.4"/><use href="#c" x="347.7" y="974.2"/><use href="#p" x="357.8" y="955.8"/><use href="#c" x="342.5" y="973.9"/><use href="#s" x="374.8" y="990"/><use href="#t" x="387.2" y="990.5"/><use href="#g" x="388.6" y="987.6"/><use href="#g" x="387.1" y="960.7"/><use href="#c" x="382.8" y="980.7"/><use href="#t" x="373" y="982"/><use href="#p" x="391.8" y="976.6"/><use href="#o" x="372.7" y="971.9"/><use href="#g" x="381.5" y="941.4"/><use href="#g" x="375.4" y="983.5"/><use href="#g" x="381.7" y="975.8"/><use href="#t" x="386.9" y="959.6"/><use href="#t" x="379.3" y="973.9"/><use href="#p" x="388.3" y="992"/><use href="#c" x="387.3" y="971.7"/><use href="#t" x="387.7" y="961.6"/><use href="#c" x="383.4" y="845.8"/><use href="#g" x="372.8" y="859.4"/><use href="#c" x="355.5" y="869.4"/><use href="#t" x="362.8" y="871.7"/><use href="#t" x="392.7" y="886.7"/><use href="#c" x="393.4" y="895.7"/><use href="#t" x="392.7" y="901.6"/><use href="#t" x="392.7" y="910"/><use href="#g" x="371.1" y="900"/><use href="#g" x="351.8" y="907.3"/><use href="#s" x="361.8" y="912.6"/><use href="#g" x="371.1" y="916.6"/><use href="#g" x="383.8" y="919.9"/><use href="#c" x="357.8" y="924.3"/><use href="#g" x="362.8" y="930.9"/><use href="#t" x="380.4" y="931.6"/><use href="#g" x="349.5" y="945.6"/><use href="#g" x="377.8" y="944.9"/><use href="#g" x="386.1" y="944.2"/><use href="#o" x="361.8" y="949.9"/><use href="#t" x="356.2" y="956.5"/></g>
<path d="M380.2 989.6h1.1M378.7 993.6h1.1M387.6 990.2h0.9M350.5 1007.7h1.7M373.7 1007h1.6M342.6 989.7h1.6M370 1032.2h1.9M341.7 993.8h1.1M373 1020.2h1M351.9 992.2h1M369.8 1020.5h1.7M361.1 993.4h2M356.3 989.1h2.1M357 992.5h2.2M345.1 990.8h2.1M365.5 1006.6h1.7M356.4 992h1.4M353.1 1018.9h1.5M386.3 989.7h1.3M348.6 997h1.3M349.5 1010.3h1.3M350 1020.8h0.8M355.3 990.2h0.8M358.9 1005.1h2.2M355.6 994.7h1M384.6 1022.7h1.7M389 994.2h1.4M379.8 1011.3h1.4M386.8 990.3h0.8M343.5 1009.8h1.5M341.9 990.2h1.7M359.2 1000.1h1.6M350.2 997.5h2M340.8 991.3h2M356.1 990.6h2M358.8 993.2h1.8M384.5 992.7h0.9M382.8 991.7h1M365.1 1003.3h1.3M373.3 1008h1.2M364.5 998.1h1.5M351.1 990.1h1.9M351.1 993.3h1.5M348.5 993.3h1.3M351.5 995.5h1M381.3 994.8h1.4M345.4 996.4h1.5M362.3 990.8h1.7M350.3 992.8h1.4M372.8 1012h1.4M367.8 1008h1.7M357.5 991.6h1.2M347.3 996.4h1.2M381 989.6h0.9M365.9 1003.1h1.7M345.2 1020.4h1.5M342.9 990.4h1.3M368.1 1012.5h1.1M355.1 995.4h0.9M347.5 990.7h2.1M352.4 1000.2h1.7M367 1006.5h1.1M368 1007.4h2M344.3 996.8h0.9M364.7 998.2h1.6M378.3 989.5h1.2M349.5 1010.7h1.3M367.2 1016.1h1.2M368.8 1011.3h1.5M351.3 994h1.4M358.4 995.1h1.5M388.9 992.5h2.2M368.1 1016.6h1.2M375.7 994.6h1.8M370.3 1014h2.2M354.8 1004.1h1.3M354.7 990.3h1.4M372.8 1022.4h0.9M382.5 995.5h1.9M353.4 1010.3h0.9M351.4 991.6h1.2M345.8 1005.9h1.3M351.6 998.4h1.9M343.3 1015.3h1.7M343 1013.9h1.7M380.4 1000.9h0.9M369.7 1008.2h2.1M353 993.7h1.1M366.1 1010.3h0.9M378.1 1000.5h1M346 998.5h2M353.5 1001.9h2.1M352.5 994.8h1.5M363.3 989.7h1.8M340.6 1014.4h2M369.1 1012.4h1.4M382.9 1029.2h2.2M363.5 1014.3h1.2M365.4 995.6h1.5M358.6 992.9h2.1M346.7 994.2h1.4M346.7 995.1h1.3M376.5 1048.9h0.9M356.7 989.1h0.9M343.3 1001.6h1.9M373.2 1026.8h1.3M354.7 1012.9h1.4M369.3 1016.6h1.2M364.4 992.5h1.1M385.1 1007.3h1.3M368.7 1013.6h2.2M379.5 992.9h1.3M385 995.5h1.6M350.1 990.2h1M360.6 1004.6h2.2M381.4 1006.5h1.6M359.4 994.4h2M383.6 998.3h1.9M352.6 996.4h1.7M382 994.7h1M355 995.3h1.7M363.7 1000.3h1.2M359 992.2h2.2" stroke="#fff" stroke-width="1.2" opacity=".8"/>
<path d="M389.8 1223L390.9 1219.5L389.8 1216.7L390.9 1213L390.9 1209.4L390.4 1205.4L390.3 1201.3L390.9 1196.9L390.1 1193.6L390.4 1190.7L390.9 1188L389.7 1183.5L390.1 1179.4L390.5 1175.5L391 1172.4L390.9 1168.2L390.3 1164.7L390.1 1162.2L389.6 1159.5L390 1155.4L389.8 1152L390.2 1148.3L390.3 1145.5L390.1 1142.2L390.1 1138.3L389.8 1134L390.6 1130.5L390.8 1127.8L389.8 1124.6L390.5 1121.5L390.3 1117.8L390.4 1114.8L390.1 1112.1L390.1 1108.9L390.2 1104.6L389.7 1101.4L390.3 1098.8L390.1 1096L390.8 1093.1L389.7 1088.7L390.8 1085.3L390.9 1081.5L390.4 1078.8L389.8 1074.5L389.8 1071.2L390.1 1068.1L389.6 1065.6L390.3 1061.3L390 1058.4L390.6 1055.4L390.9 1051.2L390.7 1048.3L390.7 1044.7L390 1040.4L389.9 1036.8L390.1 1034.1L390.1 1031.6L390.2 1027.9L390 1024.9L390.3 1020.8L390 1017.9L390.3 1012L391.4 1015.9L392.6 1012.7L394 1017.5L395.5 1013.7L396.8 1015.2L398.1 1014.2L399 1016L400.4 1024.6L401.4 1012.8L402.6 1012.8L404 1014.2L405.1 1012.5L406.9 1017.2L408.3 1014.7L409.6 1014.4L411.5 1015.5L412.7 1015.1L414.2 1014.4L415.7 1017.3L417.3 1016.6L418.8 1012.3L419.7 1017.8L421.4 1014.7L423.1 1016.3L424.4 1018.4L425.6 1013.4L426.6 1018.5L428.4 1017.2L429.8 1018.1L430.9 1013.2L432.8 1022.3L433.8 1014.3L434.9 1014.8L436.8 1018.8L438.1 1013.7L439.6 1016.1L440.9 1018.7L442.6 1014.6L443.6 1019.2L445.4 1015.2L446.6 1016.7L448.1 1021L449.8 1017.4L451.2 1224.4L449.8 1223.6L448.5 1224.1L446.8 1224.6L445.1 1224.7L443.3 1224.4L440.9 1224L438.6 1223.8L436.6 1225L434.5 1223.8L432.9 1224.4L431.5 1223.7L429.4 1224.6L427.4 1224.1L425.6 1223.5L424 1224.8L422.1 1223.4L419.9 1223.6L417.8 1223.9L416.4 1224.9L414.3 1223.3L412.5 1224.9L411.2 1225L409.4 1224L407.9 1223.7L405.9 1224.4L404.2 1223.9L402.8 1224.4L400.6 1224.1L398.3 1224.8L396.8 1223.3L395.1 1224.6L393.4 1224.3L391.6 1223.8L390.3 1223.4z" fill="#6495ED" stroke="#6495ED" stroke-width="0.8"/>
<g stroke="#6495ED"><use href="#o" x="413.6" y="978.8"/><use href="#g" x="416.8" y="982"/><use href="#g" x="445.3" y="998.3"/><use href="#t" x="439.7" y="1014.9"/><use href="#c" x="420.2" y="1019"/><use href="#c" x="451.3" y="1015.3"/><use href="#c" x="436" y="1012.6"/><use href="#t" x="429.1" y="1007.6"/><use href="#t" x="438.5" y="1011.2"/><use href="#t" x="442.8" y="1010.6"/><use href="#g" x="425.9" y="965.8"/><use href="#t" x="445.8" y="971.7"/><use href="#g" x="442.5" y="1014.3"/><use href="#g" x="405.3" y="1018.9"/><use href="#t" x="408.6" y="1009.2"/><use href="#g" x="416.5" y="946.5"/><use href="#c" x="434.1" y="981.7"/><use href="#t" x="424.1" y="1003.2"/><use href="#t" x="423.3" y="988.6"/><use href="#t" x="436.6" y="962.1"/><use href="#p" x="427" y="960.3"/><use href="#g" x="419.3" y="1019.8"/><use href="#c" x="426.7" y="1003.6"/><use href="#g" x="433" y="1016.4"/><use href="#g" x="414" y="996.8"/><use href="#p" x="442.7" y="1011.3"/><use href="#c" x="406.6" y="970.1"/><use href="#g" x="395.9" y="1016.4"/><use href="#t" x="412" y="1001.3"/><use href="#s" x="408.3" y="1011.4"/><use href="#o" x="411.9" y="1004.3"/><use href="#t" x="402.3" y="1015.1"/><use href="#c" x="439.3" y="1016.6"/><use href="#c" x="404.9" y="1010.4"/><use href="#g" x="446.5" y="997.4"/><use href="#t" x="445.7" y="1007.7"/><use href="#c" x="428.5" y="986.4"/><use href="#t" x="438.4" y="1018"/><use href="#c" x="406.6" y="1009.5"/><use href="#g" x="424.9" y="1017.1"/><use href="#g" x="437.3" y="955.8"/><use href="#c" x="449.7" y="995.3"/><use href="#g" x="417.5" y="1013"/><use href="#g" x="425.8" y="1009.2"/><use href="#g" x="430.7" y="970.1"/><use href="#g" x="445" y="1001.6"/><use href="#g" x="410.6" y="961.2"/><use href="#g" x="395.1" y="1015.1"/><use href="#t" x="401.6" y="972.2"/><use href="#g" x="401.5" y="979.7"/><use href="#o" x="404.3" y="1007.7"/><use href="#g" x="448.6" y="1017.5"/><use href="#g" x="435.7" y="1001.8"/><use href="#t" x="424.4" y="1012.4"/><use href="#c" x="422.3" y="996.4"/><use href="#g" x="420.2" y="998.1"/><use href="#o" x="404.1" y="964.8"/><use href="#t" x="440.6" y="992.7"/><use href="#t" x="446.8" y="1016.8"/><use href="#g" x="444.9" y="993.4"/><use href="#c" x="401.7" y="973.3"/><use href="#t" x="416" y="1017.8"/><use href="#o" x="395" y="1017.9"/><use href="#s" x="443.6" y="1007.4"/><use href="#g" x="406.1" y="951.2"/><use href="#g" x="447.2" y="980"/><use href="#g" x="450.1" y="1018.2"/><use href="#g" x="449.1" y="1007"/><use href="#g" x="426.7" y="985.2"/><use href="#c" x="438.1" y="972.4"/><use href="#t" x="416" y="992.7"/><use href="#t" x="450.5" y="1008"/><use href="#g" x="427.3" y="1018"/><use href="#t" x="442.4" y="1007.1"/><use href="#t" x="409.2" y="1017.6"/><use href="#g" x="394.7" y="941.5"/><use href="#t" x="404.5" y="958.3"/><use href="#s" x="437" y="1007.7"/><use href="#t" x="425.8" y="988.8"/><use href="#c" x="394.8" y="998.6"/><use href="#g" x="430.6" y="976"/><use href="#g" x="417.1" y="1015.5"/><use href="#g" x="411.4" y="967.5"/><use href="#t" x="406.8" y="947.2"/><use href="#g" x="421.6" y="1009.5"/><use href="#g" x="428.8" y="965"/><use href="#c" x="412.3" y="973.1"/><use href="#t" x="430.5" y="985.7"/><use href="#c" x="440.2" y="1009.5"/><use href="#g" x="418.7" y="976.7"/><use href="#g" x="429.9" y="964.3"/><use href="#c" x="447.6" y="1008.9"/><use href="#t" x="425.6" y="1012"/><use href="#g" x="396.6" y="966.7"/><use href="#g" x="431.2" y="993.1"/><use href="#o" x="444.1" y="1009.6"/><use href="#c" x="407.4" y="1014.2"/><use href="#c" x="413.3" y="1013.4"/><use href="#g" x="401" y="1017.8"/><use href="#t" x="440.5" y="977.3"/><use href="#g" x="438.2" y="1016.3"/><use href="#g" x="438.8" y="952.6"/><use href="#g" x="438.4" y="1006.3"/><use href="#g" x="413.2" y="971.3"/><use href="#g" x="420.7" y="1009"/><use href="#g" x="415.2" y="992.2"/><use href="#t" x="406.7" y="1010.7"/><use href="#p" x="399.9" y="970.6"/><use href="#g" x="450.4" y="1011.1"/><use href="#s" x="429.8" y="966.4"/><use href="#g" x="441.1" y="959.5"/><use href="#g" x="409.3" y="984.4"/><use href="#o" x="409.6" y="1008.4"/><use href="#g" x="399" y="1011.9"/><use href="#t" x="400.3" y="1005.1"/><use href="#t" x="413.7" y="1007.4"/><use href="#s" x="413.2" y="1011.4"/><use href="#g" x="396.6" y="1013.3"/><use href="#g" x="397.7" y="1008.7"/><use href="#t" x="416.1" y="956.3"/><use href="#c" x="425.7" y="995.4"/><use href="#t" x="425.8" y="1000.5"/><use href="#t" x="433.1" y="1003.1"/><use href="#g" x="445.9" y="1005.3"/><use href="#t" x="440.1" y="1002.3"/><use href="#t" x="416.2" y="978.9"/><use href="#t" x="440.3" y="1015"/><use href="#t" x="395" y="979"/><use href="#g" x="399.7" y="1009.3"/><use href="#g" x="438" y="962"/><use href="#g" x="402.8" y="1005.9"/><use href="#c" x="398.6" y="983.2"/><use href="#t" x="443.8" y="966.5"/><use href="#p" x="397.3" y="989.3"/><use href="#g" x="396.3" y="1004.5"/><use href="#g" x="443.1" y="966"/><use href="#t" x="394.6" y="985.6"/><use href="#t" x="430.9" y="1000.2"/><use href="#g" x="417.3" y="998.8"/><use href="#c" x="403.2" y="1018.4"/><use href="#t" x="416.1" y="1012.7"/><use href="#g" x="440" y="950.1"/><use href="#t" x="402" y="942.8"/><use href="#p" x="430.5" y="956"/><use href="#g" x="418.1" y="958.6"/><use href="#c" x="440.5" y="940.5"/><use href="#g" x="430.5" y="961.7"/><use href="#g" x="396.1" y="962"/><use href="#g" x="405.6" y="951.2"/><use href="#g" x="427" y="961.6"/><use href="#t" x="430.1" y="957"/><use href="#c" x="398.4" y="941"/><use href="#g" x="398.5" y="929.4"/><use href="#g" x="419.4" y="895.7"/><use href="#g" x="409.4" y="909"/><use href="#t" x="401.1" y="925.9"/><use href="#g" x="417.7" y="926.6"/><use href="#t" x="407.7" y="938.2"/><use href="#c" x="404.4" y="949.9"/><use href="#c" x="411" y="949.9"/><use href="#c" x="406.1" y="968.2"/><use href="#g" x="439.9" y="864.4"/><use href="#g" x="420.6" y="895.7"/><use href="#g" x="409.3" y="909"/><use href="#t" x="423.3" y="914.3"/><use href="#g" x="431.6" y="920.6"/><use href="#t" x="443.2" y="920.6"/><use href="#g" x="416.6" y="926.6"/><use href="#t" x="406.7" y="934.9"/><use href="#g" x="416.6" y="937.6"/><use href="#c" x="406" y="949.9"/><use href="#s" x="425" y="954.9"/><use href="#g" x="444.9" y="953.2"/><use href="#g" x="431.6" y="963.2"/></g>
<path d="M443 1018.1h2M425.8 1009.3h1M418.5 1030.2h1M419.6 1029.4h1.3M408.3 1010.5h2.1M443.4 1034.2h1.6M431.9 1021.9h1.3M445.1 1028.8h1.3M398.1 1017.8h0.9M416.2 1010.7h1.3M443.9 1014.6h1.3M396.2 1009.3h1.1M433 1017.5h1.3M411.1 1022.7h1.5M419.1 1018.8h1.6M418.1 1035.7h1.8M409.5 1027.9h1.7M407.6 1054.6h1.1M440.2 1027.1h1.5M405.8 1010.8h1.6M392.5 1008.5h1.3M422.1 1012.3h2M422.3 1011.8h1M420.8 1026.7h1.4M437.4 1030.3h1.7M405.4 1009.3h1.6M441.1 1031h1.7M442.3 1019.2h1.4M427.7 1032.2h1.8M440.2 1035.8h1.3M427.7 1058.7h1.8M401.3 1009.9h1.1M394.4 1013.9h2.2M401.4 1025.3h1.8M437.6 1013.3h1.8M422.9 1011.1h1M439.1 1028.7h1.2M395.8 1011.5h2.2M447.1 1011.3h1M442.3 1016.9h1.2M432.7 1030h0.9M433.3 1021.9h1.5M403.3 1011.5h1.1M440.8 1015h1.2M402.4 1018.2h1.2M415 1010h1.2M403.8 1009.7h1.3M392.6 1009.7h2.1M445.4 1026.9h1.2M412.9 1010.7h1.4M409.1 1008.9h1.2M433.3 1010.9h1.5M417.7 1011.3h1.5M424.8 1015h1M398.9 1019.7h1.6M424.3 1010.8h0.8M399 1021h1.8M433.8 1014.1h1.9M426.1 1010.9h1.8M413.1 1011.4h1.2M429.2 1017h0.8M415.4 1009.1h1.5M426.5 1018.8h2.2M423.4 1020.3h1.6M396.1 1047.4h2M442.4 1014h0.9M430.8 1016.6h1.4M417.8 1015h1.2M429.3 1022.7h1.4M419.5 1011.2h1.5M430.7 1038.9h1.1M442.3 1036.6h1M436.4 1019.1h1.4M410.3 1010.1h1.9M426.3 1030.1h1M444.2 1012.1h1M397.3 1017.4h2.1M445.5 1012.3h2M392.5 1029h1.3M443.9 1019.7h1.4M441.9 1014.3h1.6M416.5 1045.1h1.6M432.9 1052.2h2.1M416.1 1046.5h1.4M395.4 1048.1h0.8M411 1024.2h2M442.1 1016.2h1.3M394.3 1011.5h1.5M424.5 1016.7h1.9M430.9 1011h1.4M433.3 1016h2.2M405.3 1017h1.7M422.7 1009.5h1.1" stroke="#fff" stroke-width="1.2" opacity=".8"/>
<path d="M448 1223L449.2 1219L449.2 1216.4L449 1213.6L448.1 1209.9L449.2 1207L449.2 1202.7L448 1200.2L448.5 1195.7L448.2 1192.1L448.8 1187.6L448.6 1183.6L448 1180.4L449 1177.1L448.5 1174L448.1 1169.8L448 1165.6L448 1161.7L449.1 1159.1L448.9 1154.9L448 1151.2L448.1 1147.8L448.6 1143.3L448.2 1140.1L448.2 1135.9L448.2 1131.7L448.2 1128.1L448.8 1123.6L448.4 1120.7L448.3 1117L447.9 1112.8L448.5 1109.4L448.9 1105.6L448.8 1102.2L448.5 1099.2L448.4 1095.1L448 1092L447.8 1088.9L448.4 1084.5L448.9 1081.9L449 1078.4L448.2 1075.1L448.1 1072.3L448.8 1068.1L448.9 1064.1L447.9 1061.5L448.5 1057.3L447.9 1052.9L449.1 1048.7L449.2 1044.9L447.9 1042.2L448.4 1039.5L448.9 1036.2L448.7 1032.9L448.8 1029.7L448.8 1026.6L447.8 1022.8L447.9 1018.4L448.9 1015.6L448.5 1011.4L448.3 1007.4L448.6 1004.1L448.5 1000.5L450.1 1000.7L451.1 1004.1L452.6 1009.5L453.6 1004.3L455.3 998.9L456.4 1001.1L458 1003.4L459.3 1000.9L460.6 998.9L462 999L463.3 1003.4L465.1 1000L466.4 1002.9L467.6 1007.1L469.4 1009.3L470.3 1009.5L472.2 1010.8L473.4 1019L475 1008.5L476.7 1007L477.7 1012.4L478.7 1005.7L480 1005.4L481.7 1003L482.8 1000.3L484.3 1006L485.7 1002.7L487.3 1001.5L488.3 1001.7L490.1 1002.9L491.6 1003.5L492.6 1003.2L494.1 996.6L495.1 1223.5L493.4 1223.7L491.1 1224.8L489.3 1224.3L487.6 1224.1L485.3 1224.3L483 1223.3L481.1 1224.3L479.3 1223.5L477 1224.3L475 1224.4L473.2 1224.9L471.2 1224.7L469.4 1224.1L467.7 1224.4L465.5 1223.6L464.1 1223.3L461.8 1224.7L460.1 1223.9L458 1224.2L456.7 1224.9L455 1224.2L453.2 1223.8L451.1 1224.9L449.7 1223.6z" fill="#00008B" stroke="#00008B" stroke-width="0.8"/>
<g stroke="#00008B"><use href="#g" x="464" y="1004.9"/><use href="#t" x="473.8" y="963.8"/><use href="#s" x="478.1" y="1011.5"/><use href="#c" x="467.5" y="973.5"/><use href="#t" x="457.4" y="1002.4"/><use href="#g" x="481.7" y="996.3"/><use href="#t" x="472.2" y="996.2"/><use href="#g" x="455.7" y="969.4"/><use href="#g" x="453" y="990"/><use href="#c" x="477.4" y="983.4"/><use href="#g" x="468.7" y="1005.7"/><use href="#s" x="484.7" y="1000.4"/><use href="#t" x="494.4" y="999.3"/><use href="#g" x="493.4" y="997.5"/><use href="#g" x="482.5" y="999.4"/><use href="#p" x="494.6" y="1003.8"/><use href="#g" x="476.9" y="1004.9"/><use href="#o" x="480" y="992.6"/><use href="#g" x="494.2" y="1001"/><use href="#s" x="478.1" y="962.3"/><use href="#g" x="491.2" y="997.8"/><use href="#c" x="488.4" y="973.9"/><use href="#g" x="481.1" y="1001"/><use href="#t" x="458.9" y="1000.1"/><use href="#t" x="457.8" y="981.4"/><use href="#g" x="491.5" y="1000.5"/><use href="#t" x="471.6" y="997.1"/><use href="#c" x="492" y="1003.7"/><use href="#c" x="484.5" y="986.5"/><use href="#g" x="462.5" y="972.8"/><use href="#g" x="473" y="1010.6"/><use href="#g" x="489.7" y="1002.1"/><use href="#g" x="460.5" y="998.7"/><use href="#g" x="484.4" y="1003.2"/><use href="#g" x="452.9" y="948.5"/><use href="#g" x="489.4" y="996.3"/><use href="#g" x="457.9" y="979.3"/><use href="#g" x="488" y="998"/><use href="#g" x="453.1" y="996.7"/><use href="#t" x="473.7" y="1000"/><use href="#t" x="482.7" y="1002.1"/><use href="#t" x="459.2" y="968.4"/><use href="#g" x="485.9" y="992.3"/><use href="#g" x="457.8" y="1000.2"/><use href="#g" x="477.9" y="989.2"/><use href="#g" x="483.2" y="970.2"/><use href="#g" x="476.6" y="1002.6"/><use href="#t" x="457.3" y="999.6"/><use href="#g" x="461.1" y="993.9"/><use href="#g" x="454" y="994.3"/><use href="#t" x="460.9" y="941.7"/><use href="#t" x="466" y="981.6"/><use href="#g" x="453.7" y="940"/><use href="#s" x="462.1" y="995.4"/><use href="#o" x="460.4" y="933.5"/><use href="#c" x="454.7" y="943.7"/><use href="#s" x="455" y="994.2"/><use href="#o" x="453.7" y="988.1"/><use href="#c" x="455.3" y="933"/><use href="#g" x="464.8" y="967.5"/><use href="#t" x="488.7" y="966.9"/><use href="#g" x="484" y="977.5"/><use href="#t" x="483.7" y="976.6"/><use href="#c" x="487.5" y="942.2"/><use href="#t" x="486.1" y="997"/><use href="#t" x="490.8" y="961"/><use href="#t" x="484.8" y="947"/><use href="#t" x="492.3" y="961.2"/><use href="#p" x="482" y="995"/><use href="#g" x="488.1" y="971.3"/><use href="#g" x="487.7" y="948.8"/><use href="#g" x="460.5" y="844.1"/><use href="#g" x="460.5" y="864"/><use href="#c" x="469.2" y="896"/><use href="#g" x="458.9" y="903.3"/><use href="#t" x="458.9" y="910"/><use href="#g" x="496.5" y="875.7"/><use href="#g" x="490.8" y="889"/><use href="#c" x="496.5" y="916.6"/><use href="#g" x="493.8" y="920.6"/><use href="#c" x="467.5" y="923.9"/><use href="#t" x="477.2" y="925.6"/><use href="#g" x="461.5" y="928.3"/><use href="#g" x="454.2" y="934.9"/><use href="#c" x="458.2" y="941.6"/><use href="#g" x="489.8" y="938.2"/><use href="#t" x="476.5" y="947.5"/><use href="#t" x="470.9" y="963.2"/><use href="#b" x="488.2" y="963.2"/></g>
<path d="M483.8 1005.3h1.3M485.1 994.2h0.8M486.1 998.6h0.8M467.5 1010.4h2.1M456.3 1030.7h1.8M473.6 1008.3h1.7M475.7 1031.1h1.5M450.9 997.8h2.1M472.7 1019.2h1.8M476.3 1006.5h0.9M453.7 1007.4h0.8M466.5 1001h1.5M473 1010.2h0.9M487.1 1013.5h1.9M471.9 1007.4h1.3M451.1 1000.7h1.9M450.9 1001.5h1M473.2 1013.9h1.2M471.5 1047.6h2.1M465.3 1000.4h1.6M450.4 996.7h0.9M478.6 1001.7h1.3M474.6 1015.1h1.4M458 997.5h1.4M454.7 996.6h1.1M465.5 1007.5h1.1M454.9 1036.1h0.8M489.1 1002.8h2.1M463.1 1022.5h2.2M451.8 1007.8h1.7M480.4 1012.1h2.1M487.9 996.1h1.1M475.6 1020.8h1.4M476.4 1018.8h0.9M473.4 1014.3h1.9M464.2 1027.3h1.1M479.5 1011h1.3M487.2 1011.4h2.1M480.1 1017.1h1.4M473.7 1005.1h1.9M483.9 1003.1h1.2M478.6 1010.9h2M459.9 1007.3h1.1M458.2 1001.2h1.4M487.6 999.4h1.1M467.8 1003.9h1.6M450.7 997.7h2.1M464.8 1002.9h0.9M459.2 997.9h1.8M471.2 1015.5h2.1M462 1043.9h1.6M471 1015h1.8M457.6 1000.3h1.6M470.4 1013.2h1.7M450.5 1015.9h1.2M452.7 1001.3h2.1M473.5 1003.4h1M490.6 996.1h1.9M452.6 1000.6h0.9M480.7 995.4h1.5M460.6 998.9h1.4M450.8 1010.3h0.9M458.2 998.4h1.6M463.8 996.1h1M483.7 995h2M462.5 1014.7h1.8M473.5 1011.9h1.3M461 1001.1h1.1M479.6 998.5h1.8M459.5 1000.1h0.9M457.8 998.7h1.6M481.9 997.3h1M453.3 1006.9h1.1M490.4 1007.4h1.1M483.5 1005.8h1M476.4 1004.1h1.8M453.2 998.7h1M460.9 1012.3h1.2M473.1 1006.4h1.1M464.1 1003h1.3M451 1005.9h1.7M479.2 1004.2h1.7M471.2 1012.2h1.4M457.7 998.6h1.5M465.1 997.8h1.8M477.4 1006.1h1M455.8 1001.2h1.7M483.7 999h1.3M454.7 1020.6h2.2M461.1 999h0.8M480.6 1000.3h1.8M482.4 1003.3h2M462.2 996.7h1.1M483.4 997.2h1.2M490.6 1011.3h1.3M488.6 999.4h1.3M464.2 1003h1.2M484.9 999.1h1.6M476.5 1026.8h2.1M478.4 1011.7h1.9M471.3 1005.1h1.4M464.7 997.9h1.2M463 998.9h2M463.7 998h1.3M452.7 1007.8h2" stroke="#fff" stroke-width="1.2" opacity=".8"/>
<path d="M493 1223L492.2 1220.2L491.9 1216.4L493 1212.2L491.8 1209.4L492.8 1206.3L491.8 1203.2L492.6 1199L492.6 1196L491.9 1191.8L492.6 1187.7L493 1183.7L492.6 1181.2L493.1 1177.8L493.1 1174.4L492.6 1170.7L492.3 1167.2L492.5 1163.8L492.7 1160.8L492.8 1158.1L493 1154.4L493.1 1151.9L491.8 1148.4L491.8 1144.5L492.4 1140.5L492.2 1136.1L492.4 1133.4L492 1130.5L492.8 1126.9L492.6 1122.6L491.9 1118.4L491.9 1114.9L491.9 1111.3L492.5 1107.7L493 1104.1L492.7 1100.7L491.9 1097.6L492.9 1093.4L492.6 1090.5L492.7 1087.3L492.1 1083.2L492.1 1079.4L492.4 1075.1L492.5 1072.5L492.5 1069.8L492.7 1066.4L492.3 1062.2L492.3 1058.6L492.2 1055.7L492.5 1052.4L492.6 1049.1L492.8 1046.1L492.6 1042.3L492.6 1038.1L492 1034.5L492.3 1031.2L492.7 1027.4L492.3 1023.6L492.3 1019.7L492.3 1016.3L492.6 1013.3L491.9 1009.2L492.7 1005.4L492.4 1002.8L494.1 1002.9L495.5 1003.3L496.7 1007.7L498.6 1007.3L499.9 1007.4L501.2 1006.7L502.8 1002.7L504.3 1008L506 1006.4L507.5 1009.3L509.1 1006.3L510 1004.1L511.3 1012.4L512.9 1027.6L514.7 1040.2L515.9 1043.4L516.9 1026.7L518.3 1002.4L520 996.2L521.5 1002.2L522.7 998.5L524.1 1000.1L525.8 999.7L526.8 997.6L527.8 1000L529.3 998.6L530.8 999.8L531.9 1000.2L532.7 1223.4L531.1 1224.6L529.7 1224.6L528 1223.7L525.8 1224.2L524 1223.4L522.3 1224.2L520.7 1223.9L519.1 1224L517.2 1224.3L514.8 1223.9L513.5 1224.9L512.2 1223.3L510.6 1223.9L509 1224.9L507.4 1224L506.2 1223.6L503.9 1224.1L502.6 1223.8L500.7 1223.5L499.3 1224.9L497.9 1224.1L496.1 1223.3L494.3 1224.4z" fill="#6495ED" stroke="#6495ED" stroke-width="0.8"/>
<g stroke="#6495ED"><use href="#c" x="502.2" y="982.6"/><use href="#t" x="532.8" y="983.2"/><use href="#t" x="516.3" y="1035.7"/><use href="#c" x="513.4" y="1014.1"/><use href="#g" x="506.4" y="996.5"/><use href="#g" x="503.2" y="992.4"/><use href="#g" x="513.6" y="1009.5"/><use href="#o" x="506.7" y="1001.8"/><use href="#c" x="532.4" y="932.4"/><use href="#g" x="498.2" y="1003.7"/><use href="#g" x="501.1" y="1002"/><use href="#g" x="507.5" y="992.5"/><use href="#t" x="498.7" y="941.2"/><use href="#g" x="511.1" y="1001.3"/><use href="#t" x="507.6" y="1010.2"/><use href="#g" x="528.3" y="983.3"/><use href="#g" x="531.6" y="992"/><use href="#g" x="524.4" y="994.9"/><use href="#p" x="531.7" y="979.8"/><use href="#t" x="510.3" y="981"/><use href="#g" x="524" y="985.8"/><use href="#o" x="498.4" y="996.3"/><use href="#c" x="532.9" y="975.5"/><use href="#s" x="497.9" y="991.7"/><use href="#g" x="511.1" y="986.2"/><use href="#p" x="532.7" y="983.1"/><use href="#t" x="522.2" y="1001.8"/><use href="#t" x="508.2" y="995.8"/><use href="#t" x="525.5" y="972.9"/><use href="#g" x="503.4" y="996"/><use href="#c" x="525.6" y="1001.7"/><use href="#g" x="503" y="965.7"/><use href="#t" x="506.8" y="976.8"/><use href="#c" x="506.7" y="928.3"/><use href="#t" x="504.7" y="927.3"/><use href="#c" x="504" y="993.2"/><use href="#t" x="523.9" y="972.6"/><use href="#t" x="515.1" y="1023.5"/><use href="#c" x="532.4" y="999.3"/><use href="#g" x="513.8" y="1020"/><use href="#t" x="530.7" y="945.4"/><use href="#g" x="518.1" y="937.7"/><use href="#t" x="498.2" y="1007.2"/><use href="#s" x="498.7" y="998.1"/><use href="#t" x="501.6" y="992.4"/><use href="#s" x="510.5" y="991.8"/><use href="#t" x="522.7" y="964.7"/><use href="#c" x="525" y="965.9"/><use href="#g" x="532.2" y="999.8"/><use href="#g" x="520.1" y="948.7"/><use href="#p" x="529.9" y="998.8"/><use href="#g" x="523.7" y="988.7"/><use href="#c" x="509.5" y="978.4"/><use href="#t" x="518" y="966"/><use href="#t" x="518.5" y="1003"/><use href="#t" x="513.6" y="1013.2"/><use href="#c" x="532.9" y="966.5"/><use href="#c" x="512.2" y="1013.3"/><use href="#g" x="521.8" y="948.1"/><use href="#g" x="527.2" y="941.1"/><use href="#c" x="516.2" y="1028.1"/><use href="#o" x="529.2" y="957"/><use href="#g" x="527.4" y="998.3"/><use href="#s" x="503" y="986.6"/><use href="#p" x="530.4" y="986.9"/><use href="#t" x="526.9" y="992.4"/><use href="#g" x="510.8" y="1000.9"/><use href="#t" x="514.8" y="978.5"/><use href="#c" x="520" y="1002.7"/><use href="#g" x="498.2" y="944.9"/><use href="#s" x="529.2" y="1000.5"/><use href="#t" x="496.9" y="992.4"/><use href="#g" x="509" y="1010.6"/><use href="#c" x="506.7" y="986.3"/><use href="#g" x="512.1" y="1010.8"/><use href="#g" x="503.2" y="977.1"/><use href="#t" x="526.6" y="986.1"/><use href="#g" x="499.9" y="993.4"/><use href="#t" x="516.2" y="1011.6"/><use href="#t" x="520.1" y="968.6"/><use href="#t" x="519" y="979"/><use href="#g" x="532.5" y="956.7"/><use href="#t" x="504.4" y="1000.9"/><use href="#g" x="510.2" y="943.9"/><use href="#g" x="509.8" y="1004.4"/><use href="#t" x="522.2" y="994.5"/><use href="#g" x="531.9" y="998.1"/><use href="#g" x="499.3" y="968.8"/><use href="#g" x="525.7" y="999.8"/><use href="#g" x="497.5" y="1008.2"/><use href="#t" x="499.9" y="994.4"/><use href="#g" x="506.7" y="981.2"/><use href="#t" x="510.3" y="980"/><use href="#g" x="509.5" y="958.3"/><use href="#s" x="501.5" y="956"/><use href="#g" x="503.5" y="975.9"/><use href="#t" x="513.1" y="955.4"/><use href="#t" x="510.5" y="973.9"/><use href="#g" x="505.9" y="983.5"/><use href="#g" x="525.1" y="989.2"/><use href="#g" x="522.9" y="978.3"/><use href="#g" x="532.4" y="989.9"/><use href="#t" x="525.4" y="981"/><use href="#g" x="524.4" y="985.4"/><use href="#g" x="530.8" y="941.7"/><use href="#t" x="527" y="946.7"/><use href="#t" x="533.3" y="986.3"/><use href="#g" x="533.2" y="989.1"/><use href="#g" x="499.1" y="840.1"/><use href="#g" x="499.8" y="870"/><use href="#g" x="499.8" y="878.4"/><use href="#t" x="499.8" y="891.7"/><use href="#c" x="523.1" y="877.4"/><use href="#g" x="530.4" y="876.7"/><use href="#g" x="529.7" y="894"/><use href="#t" x="531.4" y="912.3"/><use href="#t" x="531.4" y="913.6"/><use href="#c" x="525.7" y="938.9"/><use href="#g" x="534.7" y="944.2"/><use href="#g" x="501.5" y="943.2"/><use href="#g" x="499.8" y="951.5"/><use href="#t" x="533.1" y="958.2"/><use href="#t" x="524.8" y="959.9"/><use href="#t" x="502.5" y="968.2"/><use href="#t" x="506.5" y="979.8"/><use href="#p" x="534.7" y="979.8"/></g>
<path d="M527.7 1005.4h1.5M522.6 1000.8h1.1M507 1003.5h1.6M513.3 1043.7h2.2M515.8 1038.4h1.4M499.5 1007.7h2M526.2 994.8h0.9M506.5 1003.6h1.5M508.7 1010.5h1.9M499.9 1014.6h1.5M497 1002.5h1.8M501.8 1024.5h2.1M517.1 1013.8h1.8M497.4 1003.4h1.1M502.4 1000.9h1.2M510.4 1005.6h1.6M499 1010.8h1.3M528.7 1008.9h1.1M508.7 1020.6h1.1M519.6 1004.6h1.5M495 1020.2h1.3M526.6 994.3h1.9M525.1 1002.8h1.9M503.5 1028.4h1.4M502.1 1013.6h1.8M500.3 1017.5h2.1M519.1 1004.1h1.5M518.9 999.3h2M523.2 995.2h1.4M508.2 1001.1h1.3M518.2 1004.6h1M524.4 1015.5h1.3M527.3 1028.6h1.8M511.3 1012.1h2M507.5 1031.8h0.8M517.8 1005.4h1.2M527.2 1006.2h1.6M527.1 1008.1h2M497.1 1023.9h1M511.3 1018.1h1.4M504.4 1020.1h1M501 1010.3h1M511.4 1004.7h1.7M509.8 1001.4h1.7M504.4 1025.7h1.9M505.5 1059.2h1.4M510.8 1000.2h1.5M518.6 996.7h2.2M510.5 1012.9h1.9M506.6 1001.1h1.3M508 1009h0.8M496.8 1005.9h1.8M511.1 1020.5h2.1M522.1 1019.9h1.3M517.5 1014.1h1.7M518.2 1001.3h2.2M528.2 998h0.9M519.1 1029.5h0.9M521.6 1006.9h1.1M518.5 997.1h1.2" stroke="#fff" stroke-width="1.2" opacity=".8"/>
<path d="M530 1223L529.3 1219.4L529.6 1215.5L529.5 1211.9L530.2 1208.6L529.9 1206L530.4 1201.6L530.2 1199L530.5 1195.5L530.3 1192.3L529.9 1188.3L529.6 1185.7L529.5 1182.2L530 1179L530.4 1175.3L530.2 1171.1L529.8 1168L529.7 1164.4L529.3 1160L530.4 1156L530.1 1153.3L530.5 1149.9L529.9 1146.7L529.7 1143.6L530.7 1140.6L529.7 1136.5L530.2 1132.1L530.6 1128.9L529.8 1125.8L530.4 1123.3L530.4 1120.4L530.7 1116.3L529.7 1112.2L529.8 1108.3L530.3 1104.1L530.1 1099.6L529.9 1096.3L530.5 1093.8L529.4 1090.5L529.3 1086.1L529.4 1081.8L529.6 1078.5L530.3 1075.6L530.1 1072.2L530.4 1069.4L530.3 1065L530.4 1060.7L530.4 1057.3L530.5 1054.6L530.1 1052.1L529.5 1048.4L529.7 1044.4L529.9 1041.3L529.5 1037.6L530 1035.4L531.7 1040.4L533.1 1040.9L534.4 1039.3L536.3 1042.7L537.5 1042.3L539.1 1045.4L540.4 1042.2L542.2 1041.9L544.1 1048.2L545.4 1043.6L547.3 1046.5L548.6 1048L549.9 1048.5L550.9 1049.1L552.2 1051L553.1 1054.7L554.8 1050.1L556.4 1053.4L557.7 1054L559.2 1057.1L560.1 1056.5L561.6 1057.8L563 1055.3L564.4 1059.9L566 1061.9L567 1063.2L568.5 1058.4L570 1059.6L571.4 1062.6L572.5 1064.2L574.4 1059.7L575.7 1059.7L577.4 1060.5L578.7 1062.6L580 1068.1L580.9 1063.1L582.5 1063.9L584.1 1068.1L585.9 1062.9L587.7 1065.3L589 1075.4L590.1 1069.9L591.6 1076.6L593 1068.3L594.4 1065.6L595.4 1070.1L596.6 1068L598 1071L599.5 1068.7L600.5 1070.7L601.6 1072.2L603.1 1069.6L604.3 1072.2L605.6 1065.9L607.1 1081.5L608.1 1077.6L610 1069.6L611.6 1069.4L612.5 1068.3L613.7 1068L615.4 1070L616.6 1069.2L618.4 1068.4L619.8 1068.8L621.3 1066L623 1065L624.1 1067.3L625.7 1065.3L627.3 1075.6L628.4 1063.9L629.3 1065.9L631.1 1060L632.1 1054L633.8 1047.7L635.1 1050.5L636.1 1049.4L637.8 1046.2L639.3 1046.3L640.7 1048.4L642.2 1048.7L643.3 1049.8L645 1060.7L646.1 1066.3L647.2 1064.7L648.2 1063.4L649.3 1065.6L650.7 1068.8L652.1 1064.3L653.3 1067.5L654.3 1067.3L655.9 1078.5L657.6 1066.9L659.5 1067.2L661.1 1069.1L662 1066L663.3 1064.2L665 1075.2L666.1 1068.2L667.5 1068.9L669.3 1069.1L670.8 1071.1L671.3 1073.1L671.5 1076.4L670.7 1080.5L671.5 1084.6L670.9 1088.3L670.6 1092.8L670.7 1096.9L670.9 1100.8L671.8 1103.6L670.8 1107.4L670.9 1111L671.4 1114.5L671.8 1117.5L671.5 1120.4L670.7 1123.8L671.2 1127.4L670.7 1131.4L670.7 1135.8L671.5 1139.6L670.8 1143.5L670.8 1146.7L670.7 1150.5L670.9 1153.2L670.9 1157.4L671.5 1160.4L672 1164.1L671.1 1167.2L672 1170.7L670.7 1174.2L670.9 1177L671.3 1179.8L671.3 1182.4L671.3 1186.4L671.4 1190.1L671 1193.7L670.8 1197.1L670.9 1201.1L670.8 1203.7L670.7 1207.9L671.9 1210.8L671.3 1214.9L670.7 1218.4L671.5 1221.6L671.3 1223.8L669.5 1224.6L667.3 1224.5L665 1224.2L663.2 1224.4L661.6 1223.6L659.3 1224.1L657.2 1224.6L655 1224.9L652.6 1224.7L651.3 1224.7L649.5 1224.4L648 1223.7L646.5 1223.5L645.2 1223.9L643.1 1224L640.9 1224.6L638.7 1225L636.4 1224.3L634.6 1223.5L633 1224.1L630.8 1224L629.4 1223.7L627 1224.2L625.6 1224.3L623.9 1224.7L621.8 1224.5L619.9 1224L618.1 1223.4L616.5 1224.1L614.5 1224.9L612.9 1223.8L610.8 1223.6L608.6 1224.4L606.2 1224.9L604.3 1224.3L602.8 1224.3L601.3 1223.7L599.5 1224.3L597.4 1224.6L595.3 1224.8L593.9 1224.9L592.6 1223.5L591.1 1223.5L589.2 1223.5L587.3 1224.5L585.6 1224.5L583.5 1224.8L581.7 1224.1L579.9 1224.3L578.3 1223.7L576.3 1224.1L574.2 1224.1L572.7 1224.2L570.4 1224.6L568.8 1224L566.6 1223.5L564.8 1223.4L562.8 1224.3L560.7 1224.7L558.8 1224.4L556.8 1223.9L555.5 1223.8L553.4 1224.8L552.2 1224.7L550.2 1224.8L548.4 1223.8L546.6 1224.1L544.6 1224.3L542.8 1224.3L541 1224.2L538.7 1224.7L536.3 1224.4L535 1224.2L533.7 1223.8L532.3 1223.5L531 1224.8z" fill="#00008B" stroke="#00008B" stroke-width="0.8"/>
<g stroke="#00008B"><use href="#t" x="574.5" y="1007.9"/><use href="#c" x="594.3" y="1064.2"/><use href="#s" x="563.8" y="1006.4"/><use href="#t" x="582.4" y="1065"/><use href="#g" x="617.5" y="1046.7"/><use href="#c" x="592.7" y="1036"/><use href="#t" x="559.5" y="1053.7"/><use href="#t" x="583.9" y="1064.4"/><use href="#g" x="554.3" y="1033.6"/><use href="#c" x="664.7" y="1069.9"/><use href="#g" x="549" y="1041.8"/><use href="#t" x="642.2" y="1021.7"/><use href="#g" x="641.9" y="1048.3"/><use href="#g" x="656.3" y="1062.6"/><use href="#g" x="614.2" y="1068.9"/><use href="#g" x="638.4" y="1045.3"/><use href="#t" x="617.4" y="1034.9"/><use href="#g" x="660.4" y="993.8"/><use href="#t" x="661.8" y="1021.9"/><use href="#t" x="657.4" y="1026.6"/><use href="#o" x="660.6" y="1063"/><use href="#t" x="620.6" y="1057.1"/><use href="#g" x="540.3" y="1044.6"/><use href="#g" x="538.5" y="1009.5"/><use href="#g" x="602.8" y="1047.7"/><use href="#t" x="621.4" y="1048"/><use href="#c" x="609.1" y="1070.1"/><use href="#t" x="582.8" y="1050.8"/><use href="#c" x="581.4" y="1029.1"/><use href="#s" x="551.9" y="1035.5"/><use href="#t" x="656.3" y="1052.9"/><use href="#g" x="581.4" y="1023.1"/><use href="#s" x="660.9" y="1042.9"/><use href="#s" x="605.2" y="1061.6"/><use href="#g" x="622.1" y="1062.6"/><use href="#t" x="613.5" y="1066"/><use href="#c" x="624.4" y="1067.1"/><use href="#t" x="567.2" y="1060.4"/><use href="#g" x="564.4" y="1016.9"/><use href="#c" x="569.8" y="1000.4"/><use href="#t" x="551.7" y="1040.1"/><use href="#o" x="646.7" y="1050.3"/><use href="#t" x="636.1" y="1038"/><use href="#g" x="653.4" y="1065.9"/><use href="#c" x="549.6" y="1034.9"/><use href="#g" x="663.8" y="1043"/><use href="#g" x="663" y="1040.8"/><use href="#g" x="621.5" y="989.9"/><use href="#t" x="626.3" y="1000.9"/><use href="#g" x="604.2" y="1037.8"/><use href="#g" x="539.4" y="1033.7"/><use href="#c" x="590.2" y="1031"/><use href="#t" x="580.2" y="1048.5"/><use href="#s" x="552.2" y="1031.5"/><use href="#t" x="588.8" y="1070.8"/><use href="#t" x="633.5" y="1014.9"/><use href="#t" x="634" y="1025.9"/><use href="#c" x="598.3" y="995.9"/><use href="#g" x="603.7" y="1043.5"/><use href="#g" x="609.3" y="1037.3"/><use href="#g" x="646.8" y="1018.5"/><use href="#t" x="591.1" y="1057.5"/><use href="#p" x="561" y="1024.1"/><use href="#t" x="634.8" y="1048.8"/><use href="#g" x="636.2" y="1017.3"/><use href="#g" x="597.1" y="1066.6"/><use href="#c" x="634.3" y="1038.5"/><use href="#g" x="644" y="985.4"/><use href="#t" x="589" y="1019.3"/><use href="#c" x="574.5" y="1064.6"/><use href="#t" x="596.5" y="1036.8"/><use href="#g" x="582.8" y="1017.7"/><use href="#t" x="659.1" y="1061.6"/><use href="#t" x="577.5" y="1062.6"/><use href="#t" x="665.4" y="1045.8"/><use href="#g" x="598.2" y="1010.4"/><use href="#c" x="634.2" y="1034.5"/><use href="#c" x="655.8" y="1013.4"/><use href="#t" x="622.6" y="1060.3"/><use href="#c" x="585.4" y="1041.9"/><use href="#t" x="579" y="1067.8"/><use href="#t" x="637.7" y="1008.2"/><use href="#g" x="659.9" y="1034"/><use href="#t" x="567.1" y="1058.4"/><use href="#t" x="626.4" y="1055.6"/><use href="#t" x="647.6" y="1070.7"/><use href="#s" x="559.1" y="1038.7"/><use href="#t" x="583.7" y="1059.8"/><use href="#g" x="632.5" y="996.9"/><use href="#g" x="534.4" y="1043.9"/><use href="#g" x="616.8" y="1050.4"/><use href="#t" x="636.2" y="1006.6"/><use href="#g" x="639.8" y="1011.3"/><use href="#s" x="653.4" y="1057.9"/><use href="#s" x="638.4" y="1050.9"/><use href="#g" x="609.3" y="1039.4"/><use href="#g" x="588.5" y="1040"/><use href="#g" x="587.4" y="1056.4"/><use href="#t" x="581.8" y="1056.7"/><use href="#t" x="654.9" y="1063.9"/><use href="#g" x="644" y="1050.3"/><use href="#c" x="661.9" y="1070.2"/><use href="#s" x="642.9" y="1037.9"/><use href="#c" x="594.7" y="1046.5"/><use href="#g" x="543.8" y="1014.5"/><use href="#t" x="540.4" y="1007.6"/><use href="#c" x="586" y="1062"/><use href="#t" x="585.2" y="1056.5"/><use href="#t" x="598.3" y="1053.1"/><use href="#s" x="650.3" y="1051.5"/><use href="#g" x="655.8" y="1061.1"/><use href="#c" x="617.7" y="1064"/><use href="#g" x="621.9" y="1045.5"/><use href="#g" x="648.8" y="1049.5"/><use href="#t" x="555.9" y="1039.5"/><use href="#g" x="657.6" y="1064.1"/><use href="#g" x="588.1" y="1017.3"/><use href="#c" x="569.1" y="1062.5"/><use href="#s" x="608.8" y="1061.2"/><use href="#g" x="554" y="1050.1"/><use href="#g" x="603.5" y="1042.8"/><use href="#p" x="618.3" y="1065.8"/><use href="#p" x="631.5" y="1054.3"/><use href="#g" x="577.3" y="1056.3"/><use href="#t" x="632.4" y="1023.5"/><use href="#t" x="603.1" y="1067.7"/><use href="#t" x="535.5" y="1028.9"/><use href="#t" x="600.9" y="1057.4"/><use href="#c" x="648.1" y="1052.9"/><use href="#t" x="535" y="1000.6"/><use href="#s" x="616.4" y="1051.4"/><use href="#g" x="643.7" y="1048.5"/><use href="#t" x="612.4" y="1066.7"/><use href="#c" x="611.9" y="1068.8"/><use href="#c" x="617.8" y="1071.7"/><use href="#g" x="576.6" y="1035.8"/><use href="#g" x="597.7" y="1025.5"/><use href="#t" x="601.5" y="1031"/><use href="#s" x="614.8" y="1056.3"/><use href="#t" x="537" y="1015.9"/><use href="#g" x="538.6" y="1032.6"/><use href="#c" x="623" y="1030.4"/><use href="#t" x="563.7" y="1035.8"/><use href="#t" x="599.2" y="1041"/><use href="#c" x="544.5" y="1045.8"/><use href="#t" x="622.3" y="1070.5"/><use href="#g" x="615.9" y="1030.7"/><use href="#g" x="654.6" y="1059.3"/><use href="#g" x="535.4" y="1013.7"/><use href="#o" x="648.6" y="1070.1"/><use href="#c" x="652.7" y="1044.2"/><use href="#g" x="550.8" y="1049.7"/><use href="#g" x="601.5" y="1069.9"/><use href="#p" x="660.2" y="1072"/><use href="#g" x="534.3" y="1012.1"/><use href="#c" x="648.9" y="1071.2"/><use href="#g" x="630.6" y="1041.2"/><use href="#g" x="652.6" y="1060.9"/><use href="#g" x="619.9" y="1071.4"/><use href="#g" x="605.7" y="1051"/><use href="#t" x="594.5" y="1053.5"/><use href="#t" x="633.7" y="1033.8"/><use href="#s" x="558.1" y="1034.3"/><use href="#g" x="561.2" y="1001.2"/><use href="#g" x="651.4" y="1068.4"/><use href="#g" x="545.4" y="1009.1"/><use href="#g" x="612.3" y="1044"/><use href="#t" x="586.6" y="1059.9"/><use href="#t" x="629.1" y="1030.3"/><use href="#g" x="582.4" y="1068"/><use href="#g" x="571.6" y="1065.3"/><use href="#c" x="639.5" y="1024.6"/><use href="#p" x="538.4" y="979.6"/><use href="#t" x="623.5" y="1001.2"/><use href="#o" x="537.4" y="960.2"/><use href="#c" x="651.5" y="1023.5"/><use href="#t" x="600.6" y="1049.7"/><use href="#g" x="596.3" y="1070.2"/><use href="#g" x="578" y="1065.4"/><use href="#t" x="646.3" y="1037.9"/><use href="#p" x="572.9" y="1032.2"/><use href="#g" x="609.9" y="1012"/><use href="#t" x="554.8" y="1032.1"/><use href="#g" x="581.3" y="1066.4"/><use href="#g" x="582.6" y="1060.6"/><use href="#g" x="542.9" y="1034.7"/><use href="#t" x="558.5" y="1053.2"/><use href="#g" x="577" y="1016.4"/><use href="#g" x="649.2" y="998.7"/><use href="#t" x="573.7" y="1010.7"/><use href="#g" x="664.2" y="1042.2"/><use href="#c" x="538.7" y="1017.6"/><use href="#g" x="611.3" y="1042.7"/><use href="#g" x="647.6" y="1036.6"/><use href="#t" x="658.6" y="1065.9"/><use href="#g" x="619" y="1000.9"/><use href="#g" x="570.4" y="1045.1"/><use href="#t" x="563.1" y="1048.1"/><use href="#g" x="568.7" y="1057.2"/><use href="#t" x="665.6" y="1059.2"/><use href="#g" x="652" y="1041.5"/><use href="#o" x="581.5" y="1024.8"/><use href="#t" x="602" y="1038.5"/><use href="#g" x="596.4" y="1060.9"/><use href="#g" x="560.8" y="1036.4"/><use href="#g" x="555.2" y="1040.1"/><use href="#g" x="563.8" y="1054.3"/><use href="#t" x="589.3" y="1057.9"/><use href="#g" x="564" y="1060.7"/><use href="#g" x="558.4" y="1000.9"/><use href="#p" x="588.4" y="1053.9"/><use href="#t" x="661" y="1018.4"/><use href="#o" x="545.7" y="1008.3"/><use href="#g" x="607.2" y="1046.2"/><use href="#t" x="590.7" y="1038"/><use href="#g" x="579.3" y="1041.9"/><use href="#c" x="643.2" y="1029.6"/><use href="#c" x="662.7" y="1056.6"/><use href="#g" x="567.9" y="1063.9"/><use href="#t" x="622.1" y="1023.1"/><use href="#o" x="550.1" y="1049.3"/><use href="#g" x="546.4" y="1021.9"/><use href="#c" x="595.4" y="1057"/><use href="#o" x="656.7" y="1013.5"/><use href="#t" x="653.5" y="1061.5"/><use href="#g" x="599.2" y="1054.6"/><use href="#g" x="639" y="1012.1"/><use href="#g" x="582.7" y="1064.9"/><use href="#t" x="635" y="1049"/><use href="#g" x="634.2" y="1035.5"/><use href="#g" x="548.2" y="1015.8"/><use href="#c" x="622" y="989.1"/><use href="#g" x="652.2" y="1010.9"/><use href="#t" x="653.4" y="1020.8"/><use href="#g" x="644.1" y="1051"/><use href="#g" x="657.4" y="1056.6"/><use href="#t" x="558.4" y="1049.6"/><use href="#c" x="593.2" y="1069.5"/><use href="#g" x="609" y="1009.9"/><use href="#g" x="608.4" y="1051.1"/><use href="#t" x="605.2" y="1049.9"/><use href="#g" x="653.9" y="1062.6"/><use href="#g" x="557" y="1028.5"/><use href="#t" x="633.2" y="1049.3"/><use href="#p" x="663.2" y="1046"/><use href="#g" x="661.4" y="1050.8"/><use href="#t" x="569.4" y="1025.1"/><use href="#t" x="606.1" y="1039.9"/><use href="#t" x="618.4" y="1049.6"/><use href="#g" x="654.9" y="1060"/><use href="#t" x="568.4" y="1010.6"/><use href="#g" x="540.2" y="1043.5"/><use href="#g" x="553.9" y="1016.6"/><use href="#g" x="660" y="1050.9"/><use href="#g" x="602.4" y="1045.1"/><use href="#s" x="585.6" y="1042.5"/><use href="#c" x="649.8" y="1051.6"/><use href="#g" x="639.6" y="997.5"/><use href="#t" x="585.5" y="1066.9"/><use href="#p" x="546.2" y="1048.9"/><use href="#g" x="622.4" y="1064"/><use href="#g" x="559.4" y="1045.1"/><use href="#g" x="540.9" y="1037.8"/><use href="#t" x="649.5" y="1071.2"/><use href="#g" x="548.9" y="1046.8"/><use href="#c" x="596.5" y="1068.4"/><use href="#g" x="619.1" y="1052.6"/><use href="#c" x="624.2" y="1071.6"/><use href="#t" x="640.3" y="1049.1"/><use href="#g" x="646.5" y="1053.7"/><use href="#g" x="644" y="1028.5"/><use href="#s" x="657.5" y="1053.5"/><use href="#t" x="589.7" y="1066.4"/><use href="#g" x="605.9" y="1063.9"/><use href="#g" x="568.4" y="1045.9"/><use href="#t" x="542.9" y="1022.9"/><use href="#o" x="542" y="1017.1"/><use href="#t" x="665.4" y="1035.8"/><use href="#c" x="634.5" y="1023.7"/><use href="#t" x="539" y="1027.5"/><use href="#g" x="577.6" y="1067.9"/><use href="#g" x="632.7" y="1027.5"/><use href="#t" x="590.6" y="793.5"/><use href="#c" x="590.6" y="865.7"/><use href="#g" x="590.6" y="884"/><use href="#g" x="603.9" y="891"/><use href="#g" x="548" y="898.3"/><use href="#t" x="604.6" y="929.9"/><use href="#s" x="604.6" y="936.6"/><use href="#g" x="555.7" y="943.2"/><use href="#g" x="648.8" y="939.9"/><use href="#t" x="662.1" y="940.6"/><use href="#c" x="584" y="955.5"/><use href="#g" x="593.9" y="955.9"/><use href="#g" x="604.6" y="959.9"/><use href="#g" x="553" y="964.8"/><use href="#g" x="622.9" y="979.8"/><use href="#c" x="636.9" y="982.5"/><use href="#g" x="603.9" y="985.8"/><use href="#p" x="603.9" y="993.1"/><use href="#c" x="617.9" y="989.8"/><use href="#t" x="569" y="987.1"/><use href="#g" x="569" y="995.5"/><use href="#c" x="551.4" y="996.5"/><use href="#t" x="539.1" y="992.1"/><use href="#c" x="584" y="996.5"/><use href="#g" x="535.7" y="1004.8"/><use href="#g" x="649.5" y="999.8"/><use href="#g" x="639.5" y="1004.8"/><use href="#t" x="656.2" y="1019.7"/><use href="#g" x="662.1" y="1020.4"/></g>
<path d="M604 1107.5h1.2M560.4 1063h2.2M548 1062.7h1.7M577.2 1057.6h2.1M543.7 1042.9h1M550.7 1054.8h1.1M590.3 1071.2h1.1M613.6 1072.4h1.7M542.2 1079.7h1.3M543.6 1073.1h1.1M571.6 1063.7h2M566.5 1057.8h1.1M605.2 1067.2h1M575.7 1080.7h1.9M557.8 1052.3h2M628.3 1063.8h1.4M590.2 1067.4h0.8M618.6 1079h1.3M574.3 1065.6h0.9M612.6 1077.4h2M669.4 1071.6h1.5M591.4 1083.7h1.4M561.5 1057.7h0.8M574.4 1075.6h0.9M613.4 1064.7h2M601.8 1067.5h1.5M555.2 1047.3h0.9M560.3 1052.5h1.7M544 1048.8h1.5M660.5 1084h1.7M553.7 1086.1h1.5M617.4 1068.6h1.6M592 1068h2M559.2 1060.6h0.9M546.4 1046.7h0.8M657.9 1061h0.8M585.5 1066.9h1.7M591.2 1067.5h2M602.5 1070.9h1.8M592.3 1066.5h1.8M593.5 1086.6h1.4M665.2 1066.4h1.1M630.9 1081.9h1.1M553.9 1055.4h1.7M627.3 1115.5h0.9M575.2 1059.7h1.5M574.1 1058h1.5M661.5 1074.6h1.7M573.2 1064.5h1.2M618.6 1068h0.8M547.6 1048.4h0.9M662 1075.9h1.2M564.8 1054.1h2M562.6 1055.6h1.2M584.9 1063.4h1.2M593.7 1090.2h0.9M665 1069.4h1.7M603.3 1068.5h1.9M607.3 1067.1h1.4M646.3 1076.4h1.1M638.6 1042.2h1.9M599.9 1083.2h1.8M550.3 1051.4h1M617.3 1065.2h1.1M595.2 1064.3h1M644.7 1066.3h2.1M552.2 1049.1h1.8M595.4 1122.7h1.7M582.7 1074.9h1.1M645.6 1069.4h2M669.1 1062.8h1M601.3 1083.6h0.9M621 1081h1.5M654.4 1063.8h1.4M598.1 1071h1.8M655.2 1067.8h1.9M624.4 1062.7h0.9M546.6 1042h1.2M654.6 1061.5h1.5M597.1 1065.2h0.9M576.5 1105.8h1.6M603.6 1102.2h1M626.6 1066.1h1.1M603.7 1070h2.1M550.6 1049h1.3M604.9 1069h1.8M663.2 1070.4h2.1M652.8 1074.1h1M563 1054.9h1.7M668.2 1106.3h2.1M544.3 1047.8h1.4M611.7 1071.4h0.9M571.9 1056h1.3M614.9 1063.6h1.8M649.9 1091.1h1.7M607.2 1066.6h2M547 1052.4h1.4M536.9 1064.5h2.1M580.7 1062.5h1.9M633 1049.4h1M545.8 1044.4h1M656.8 1062.1h1.6M537 1052h1.3M541.3 1048.6h2.1M613.3 1062.5h1.9M650.4 1060.9h0.9M595.2 1088.5h1.6M548.9 1043.4h2M569 1076.1h1M667.7 1062.1h1.1M560.8 1057.6h1.9M646.3 1065.4h1M562.8 1072.3h1.8M543.1 1049.4h1.4M572.3 1078.7h1.6M551.9 1104.8h1.7M570.3 1057.8h2M662.3 1084.2h2M538.9 1041.6h1M573.4 1062.6h2M623.7 1062.2h2M551.6 1045.6h0.8M584.8 1091.2h1.6M628.8 1062.8h0.8M634.4 1048.1h1.1M536.7 1039.5h1.9M626.8 1080.5h1.3M668.5 1080.1h1M654.1 1063.3h2M541.6 1046.4h2.1M591.3 1071.3h1.4M617.4 1064.5h1.3M629.8 1120h1.7M609.8 1067.1h1.8M657.4 1085.5h2M552.6 1066.7h2M560.3 1055.5h1.7M588.6 1075.2h1.2M596.2 1066.2h1.2M541.5 1061.8h1.8M647.2 1074.8h0.9M665.8 1073.9h2M635.6 1091.6h1.4M617.5 1068.2h1.7M570.2 1064.3h1M659.2 1069.1h0.8M617 1085.6h1.4M624.5 1067.1h1.8M627.4 1060.6h2M595.2 1068.8h1.5M570.8 1063.6h1.7M594.7 1072.2h1.6M615.6 1079.7h1.4M546 1044.2h1.6M573.5 1072.9h0.8M601.8 1066.6h2.2M619.5 1063.7h1.7M553.6 1054.7h1.6M666.3 1062.6h1.9M615 1073.8h1.3M603 1071.9h1.7M655.1 1061h1.1M595 1068.3h1.7M544.3 1040.9h0.8M599.3 1071.7h1M548 1046.7h1.4M655.6 1067.7h1.8M620.5 1084.4h2.2M547 1046.8h0.9M579.7 1062.6h2.1M629.3 1070.2h1.8M578.6 1068.8h1.7M648.9 1067.6h1M602.2 1069.6h1.9M544.1 1044.8h1.5M570.6 1061.9h1.8M533.7 1041.5h1.9M633.9 1051.8h1.6M541.8 1038.1h1.2M587 1061h1.6M634.2 1041h0.9M617.3 1061.8h2M577.9 1071.6h1.6M652.9 1095.1h1.5M616.1 1061.9h2.1M597.3 1068.5h1.4M543.9 1083.2h0.8M573 1059h2.2M596.6 1072.1h1.4M644.9 1084.5h1.5M568.7 1064.5h1.4M628.7 1078.8h1.4M661.1 1078.2h1.7M587.7 1061.7h1.6M607.8 1072.3h1.1M608.4 1094.5h1.6M557.4 1052.9h1.6M656.3 1071.7h0.8M594.3 1070.4h1.2M534.1 1039.4h2.1M651.9 1064.2h1.7M562.7 1057.7h2.1M598 1083h2.1M577.5 1064.4h1.2M628.3 1066.3h1M620.8 1069.2h1.4M635.2 1040.9h1.4M557.3 1073.8h0.9M564.2 1074.9h1.1M640.5 1041.7h1.8M548.7 1060.2h1.8M593 1066.1h1.5M645.4 1064.4h1.5M567.1 1071.3h1.7M646.5 1097.6h1.8M610.8 1072.9h2.1M571.6 1103h1.6M646.1 1108.7h1.4M533.6 1039.2h1.9M596.8 1072.9h0.9M653.3 1076.5h1.9M564.1 1065.2h1.8M561 1051.3h1.6M587.4 1062.8h1.7M575.9 1059.4h2.1M587.8 1063.4h1.7M570.8 1058.9h2.1M565.4 1089h0.9M659.6 1072.6h1.6M532.6 1036.9h1.5M596.4 1065.3h1M600.8 1064h1.8M609.5 1074.5h1.2M584.3 1069.2h0.9M579.2 1091h1.5M660.8 1066.3h1.2M650.9 1071.4h1.6M578.5 1071.1h2M634.5 1061.6h2M632.9 1052.3h1.8M596.9 1085.4h2M638.5 1044.5h0.8M618.3 1074h1.3M662.2 1069.9h2.1M546.5 1042.6h1.8M647.1 1064h2.1M563.8 1061.5h0.8M600 1099.4h1.8M563.1 1064.7h1M552.9 1054.4h1.4M622.5 1064.4h1.9M616.1 1062.2h1.3M545.1 1049.8h1.4M653.2 1065.1h2" stroke="#fff" stroke-width="1.2" opacity=".8"/>
</g>
<rect x="102.2" y="721.8" width="589.0" height="520.2" fill="none" stroke="#333333" stroke-width="1.45"/>
<text x="89.6" y="1229.6" font-size="28.2" text-anchor="end" fill="#4D4D4D">0</text>
<text x="89.6" y="1135.1" font-size="28.2" text-anchor="end" fill="#4D4D4D">1</text>
<text x="89.6" y="1040.6" font-size="28.2" text-anchor="end" fill="#4D4D4D">2</text>
<text x="89.6" y="946.1" font-size="28.2" text-anchor="end" fill="#4D4D4D">3</text>
<text x="89.6" y="851.6" font-size="28.2" text-anchor="end" fill="#4D4D4D">4</text>
<text x="89.6" y="757.1" font-size="28.2" text-anchor="end" fill="#4D4D4D">5</text>
<text x="159.9" y="1275.9" font-size="28.2" text-anchor="middle" fill="#3E4650">1</text>
<text x="225.7" y="1275.9" font-size="28.2" text-anchor="middle" fill="#3E4650">2</text>
<text x="281.2" y="1275.9" font-size="28.2" text-anchor="middle" fill="#3E4650">3</text>
<text x="323.6" y="1275.9" font-size="28.2" text-anchor="middle" fill="#3E4650">4</text>
<text x="369.7" y="1275.9" font-size="28.2" text-anchor="middle" fill="#3E4650">5</text>
<text x="425.2" y="1275.9" font-size="28.2" text-anchor="middle" fill="#3E4650">6</text>
<text x="475.8" y="1275.9" font-size="28.2" text-anchor="middle" fill="#3E4650">7</text>
<text x="515.7" y="1275.9" font-size="28.2" text-anchor="middle" fill="#3E4650">8</text>
<text x="599.9" y="1275.9" font-size="28.2" text-anchor="middle" fill="#3E4650">S</text>
<path d="M95 1218.7h6.9M95 1124.2h6.9M95 1029.7h6.9M95 935.2h6.9M95 840.7h6.9M95 746.2h6.9M159.9 1242.3v6.9M225.7 1242.3v6.9M281.2 1242.3v6.9M323.6 1242.3v6.9M369.7 1242.3v6.9M425.2 1242.3v6.9M475.8 1242.3v6.9M515.7 1242.3v6.9M599.9 1242.3v6.9" stroke="#333333" stroke-width="1.45" fill="none"/>
<text x="396.3" y="1313.9" font-size="35.8" text-anchor="middle" fill="#000">Chromosome</text>
<text transform="translate(29.7 982.8) rotate(-90)" font-size="36.1" text-anchor="middle" fill="#000">-log<tspan font-size="25.3" dy="7.3">10</tspan><tspan dy="-7.3">(p)</tspan></text>
<text x="730.6" y="884.5" font-size="35.9" fill="#000">Model</text>
<g fill="none" stroke="#1a1a1a" stroke-width="1.25">
<use href="#o" x="750.9" y="926.5"/>
<use href="#t" x="750.9" y="967.2"/>
<use href="#s" x="750.9" y="1007.9"/>
<use href="#p" x="750.9" y="1049"/>
<use href="#g" x="750.9" y="1089.6"/>
</g>
<text x="788.3" y="935.6" font-size="28.45" fill="#000">1-dom</text>
<text x="788.3" y="976.8" font-size="28.45" fill="#000">Additive</text>
<text x="788.3" y="1018" font-size="28.45" fill="#000">Diplo-additive</text>
<text x="788.3" y="1059.2" font-size="28.45" fill="#000">Diplo-general</text>
<text x="788.3" y="1100.3" font-size="28.45" fill="#000">General</text>
</g>
<g id="p3">
<rect x="102.2" y="1347.3" width="589.0" height="46.5" fill="#D9D9D9" stroke="#333333" stroke-width="1.45"/>
<text x="266.2" y="1380.8" font-size="28.45" fill="#1A1A1A">Absolute quantification</text>
<clipPath id="clip2"><rect x="102.2" y="1393.8" width="589.0" height="520.2"/></clipPath>
<g clip-path="url(#clip2)" fill="none" stroke-width="1.25">
<path d="M122.6 1895.3L123.3 1891.3L123.2 1888.7L122.3 1885.8L123.2 1881.4L123.1 1877.4L123.2 1874.2L123.5 1870.7L122.3 1866.2L122.4 1862.8L123.1 1859.4L123.1 1855.9L123.5 1852.1L122.7 1849.3L122.1 1845.5L122.1 1842.8L123.2 1840.2L122.9 1837L122.8 1834.1L122.3 1829.6L123.5 1826.5L122.9 1822.4L122.4 1818.1L122.4 1815.6L122.6 1812.7L122.9 1809.5L123.5 1805.1L123.1 1801.3L123.3 1797.2L122.9 1793.1L123 1790L122.6 1785.8L122.9 1782.1L122.8 1778L122.7 1773.7L122.9 1769.3L123.5 1766.1L123.4 1763.3L122.1 1759.7L122.6 1756.7L122.5 1754L122.8 1751.1L123.2 1746.9L123.1 1742.9L123.2 1738.5L122.5 1735.5L122.7 1733L122.4 1728.8L122.2 1725.3L123.5 1720.9L122.2 1718.3L123.5 1714.6L122.8 1711.1L123.2 1708.1L122.2 1705.6L123 1703L123 1698.9L123.4 1696L123.4 1691.8L123.2 1687.7L123.4 1683.8L122.2 1680.7L123.2 1676.9L122.8 1672.2L124.5 1675.3L125.9 1672.2L127.6 1675.9L129 1673.9L130.6 1673.7L131.9 1673.6L133 1673.2L134.4 1673.6L136 1671.1L137.7 1673.3L139.1 1679.6L140.5 1676.2L142.2 1673.1L143.3 1674.7L144.3 1675.1L145.2 1675.1L147 1673.9L148.6 1669.2L149.6 1671.6L150.9 1680.9L152.3 1669.7L153.3 1674.3L154.5 1676.4L155.8 1680.7L156.9 1685.7L158.4 1684.7L160.2 1685.7L162 1685.5L163.2 1688.8L164.5 1684.4L166.1 1682.4L167.3 1677L168.4 1675.9L170.1 1676.5L171.3 1679.3L172.3 1679.2L173.4 1676L174.4 1675.7L175.4 1677.4L176.9 1676L177.8 1680.3L179.6 1674.8L180.6 1681L182.1 1675.1L183.7 1678.1L185.1 1681.5L186.8 1679.7L188.6 1679.8L189.4 1896.4L187.4 1896.8L185.4 1896.2L184 1895.9L182 1897.3L180.1 1896.9L178.7 1895.9L176.8 1895.9L174.7 1896.5L173.3 1895.9L171.3 1895.7L169.4 1895.9L167.6 1896.4L166 1897.1L163.7 1897L161.4 1896.4L160 1895.8L158.3 1897L157 1897.2L154.9 1896.9L153 1896.1L151.8 1897.1L149.6 1897L147.5 1896.6L145.7 1896.7L143.5 1896.6L142.2 1896.7L139.9 1895.9L137.9 1896.2L136.3 1897.2L134.3 1896.7L132.8 1897.2L130.9 1896L128.9 1896.7L126.5 1896.3L124.4 1897.2z" fill="#00008B" stroke="#00008B" stroke-width="0.8"/>
<g stroke="#00008B"><use href="#g" x="130.2" y="1645.5"/><use href="#g" x="184.2" y="1677"/><use href="#t" x="131.8" y="1637.5"/><use href="#g" x="136.3" y="1605.2"/><use href="#p" x="140.9" y="1607.4"/><use href="#t" x="152.2" y="1662.4"/><use href="#t" x="135.8" y="1656.4"/><use href="#t" x="179.2" y="1676.6"/><use href="#g" x="149.8" y="1676"/><use href="#g" x="145.2" y="1667.1"/><use href="#t" x="136.3" y="1616"/><use href="#c" x="167.5" y="1657.8"/><use href="#t" x="131.5" y="1664.9"/><use href="#p" x="147.2" y="1670.3"/><use href="#g" x="147.1" y="1669.7"/><use href="#c" x="188.4" y="1671.5"/><use href="#g" x="136.1" y="1676"/><use href="#c" x="142.4" y="1648.3"/><use href="#o" x="181.8" y="1669.5"/><use href="#g" x="131.8" y="1673"/><use href="#g" x="178" y="1679"/><use href="#s" x="166.3" y="1635.7"/><use href="#g" x="135.2" y="1673.1"/><use href="#g" x="151.5" y="1600"/><use href="#t" x="140.5" y="1661.4"/><use href="#g" x="183.2" y="1651.8"/><use href="#g" x="138.6" y="1669"/><use href="#s" x="141.9" y="1626.1"/><use href="#g" x="157.7" y="1690.2"/><use href="#o" x="135" y="1625.2"/><use href="#o" x="160.4" y="1668"/><use href="#t" x="181.4" y="1673.6"/><use href="#t" x="130" y="1674.1"/><use href="#t" x="153.1" y="1664.4"/><use href="#g" x="138.6" y="1646.7"/><use href="#g" x="157.2" y="1664.9"/><use href="#t" x="155.4" y="1674.5"/><use href="#g" x="156" y="1647.7"/><use href="#s" x="156.8" y="1677.5"/><use href="#c" x="186.3" y="1658.5"/><use href="#g" x="185.7" y="1646.9"/><use href="#s" x="180" y="1635.3"/><use href="#t" x="187.3" y="1675.4"/><use href="#c" x="176.8" y="1676.4"/><use href="#g" x="186.5" y="1676.6"/><use href="#o" x="163.9" y="1668.2"/><use href="#s" x="151" y="1607.3"/><use href="#c" x="151.6" y="1657"/><use href="#g" x="185.9" y="1677.6"/><use href="#s" x="150.2" y="1648.9"/><use href="#g" x="142.8" y="1666.9"/><use href="#g" x="130.5" y="1647.1"/><use href="#g" x="189.6" y="1657.2"/><use href="#g" x="137.9" y="1654"/><use href="#g" x="158" y="1652.5"/><use href="#t" x="154.9" y="1658.8"/><use href="#g" x="189.2" y="1637.1"/><use href="#c" x="180.1" y="1674.9"/><use href="#g" x="165.6" y="1641.4"/><use href="#c" x="164.4" y="1689.5"/><use href="#g" x="149.7" y="1666.4"/><use href="#t" x="176.6" y="1671.5"/><use href="#t" x="159.6" y="1678.4"/><use href="#g" x="171.8" y="1651.2"/><use href="#t" x="157.3" y="1687.4"/><use href="#s" x="143" y="1672.4"/><use href="#s" x="170.1" y="1612.1"/><use href="#t" x="167.1" y="1644.2"/><use href="#t" x="165.3" y="1689.1"/><use href="#g" x="145" y="1653.2"/><use href="#t" x="130.8" y="1670.2"/><use href="#g" x="188.2" y="1650.3"/><use href="#c" x="159.5" y="1652.9"/><use href="#s" x="129.3" y="1671.9"/><use href="#g" x="157.5" y="1679.6"/><use href="#g" x="165.8" y="1609.4"/><use href="#p" x="174.2" y="1664.3"/><use href="#c" x="127.1" y="1676.1"/><use href="#c" x="130.7" y="1659.2"/><use href="#s" x="173.4" y="1648.2"/><use href="#c" x="171" y="1679.5"/><use href="#t" x="182.9" y="1646"/><use href="#c" x="176.3" y="1682.3"/><use href="#g" x="127.7" y="1675.6"/><use href="#t" x="142.5" y="1627.5"/><use href="#t" x="181.4" y="1665.6"/><use href="#c" x="141.9" y="1661.6"/><use href="#g" x="180.6" y="1611.9"/><use href="#g" x="131.5" y="1667"/><use href="#t" x="137.1" y="1639.7"/><use href="#t" x="130.1" y="1654.6"/><use href="#c" x="142.5" y="1661.2"/><use href="#t" x="152.9" y="1648.7"/><use href="#g" x="132.7" y="1653.5"/><use href="#s" x="140.7" y="1632.2"/><use href="#g" x="146.7" y="1613.9"/><use href="#t" x="126.8" y="1636"/><use href="#t" x="139.3" y="1659.1"/><use href="#p" x="151.4" y="1666.5"/><use href="#s" x="145.4" y="1662.2"/><use href="#t" x="143.5" y="1630.7"/><use href="#c" x="146.3" y="1619.6"/><use href="#s" x="149.4" y="1640.8"/><use href="#g" x="135.4" y="1636.7"/><use href="#g" x="131.6" y="1644.5"/><use href="#c" x="148.4" y="1640.9"/><use href="#t" x="174.4" y="1639.9"/><use href="#t" x="169.1" y="1635"/><use href="#g" x="171" y="1667.9"/><use href="#t" x="190.8" y="1636.1"/><use href="#g" x="183.6" y="1671.8"/><use href="#t" x="177.9" y="1671.3"/><use href="#p" x="181.5" y="1667.6"/><use href="#g" x="174.1" y="1622.4"/><use href="#c" x="172" y="1654.1"/><use href="#c" x="171.7" y="1660.4"/><use href="#t" x="185.3" y="1648.7"/><use href="#s" x="186.9" y="1665.2"/><use href="#t" x="167.7" y="1670.4"/><use href="#t" x="185.5" y="1629.5"/><use href="#s" x="134.6" y="1503.1"/><use href="#g" x="133.9" y="1531.4"/><use href="#t" x="136.6" y="1548.7"/><use href="#t" x="138.3" y="1562.7"/><use href="#t" x="140.6" y="1563.7"/><use href="#t" x="187.5" y="1504.4"/><use href="#c" x="175.8" y="1513.8"/><use href="#t" x="187.5" y="1534.4"/><use href="#t" x="187.5" y="1563.7"/><use href="#g" x="129.9" y="1577"/><use href="#p" x="135.9" y="1573.6"/><use href="#c" x="129.3" y="1586.3"/><use href="#t" x="140.6" y="1585.3"/><use href="#g" x="149.2" y="1589.6"/><use href="#g" x="139.9" y="1593.6"/><use href="#g" x="187.2" y="1582"/><use href="#g" x="170.5" y="1585.3"/><use href="#g" x="177.5" y="1589.3"/><use href="#g" x="187.2" y="1601.9"/><use href="#g" x="129.9" y="1603.6"/><use href="#g" x="139.9" y="1606.2"/><use href="#c" x="129.9" y="1610.2"/><use href="#t" x="169.2" y="1606.9"/><use href="#g" x="169.2" y="1612.9"/><use href="#t" x="179.8" y="1611.9"/><use href="#g" x="130.6" y="1624.5"/><use href="#c" x="140.6" y="1621.9"/></g>
<path d="M151.5 1671.6h1.6M155.8 1676.3h2M150.5 1674.4h1.1M159.7 1690h1.9M170.1 1677.4h1M131 1687h1.1M172.8 1685.2h1.6M125.1 1691.4h2.1M163.5 1698.7h1.8M180.2 1676.2h1.5M168.9 1708.4h1.2M168 1672.4h1.6M132.1 1667.5h2.1M146.5 1671.3h1.2M150.9 1670.7h1.8M145.6 1693h1.7M138.2 1667.7h2.1M179.3 1672.7h0.9M164 1722.5h1.7M133.2 1666.1h1.9M161.5 1699.5h2M165.7 1737.8h1.4M170.6 1677.1h1.9M139.7 1672.6h1.9M130.6 1690.5h1.8M149.9 1703.5h1.3M145 1669.5h2M155 1684h1.1M151.7 1676.9h1.1M130.7 1672h1.1M169 1684.6h0.8M134 1666.6h1.2M154.3 1681.3h1.9M124.8 1671.4h1.9M163.3 1697.4h2.1M132.7 1678.5h1.4M175 1681.5h1.9M182.4 1674h1.1M149.6 1667.9h2.1M162 1682.4h1.3M155.7 1684.9h1.2M171.7 1681.7h1M139.3 1674.7h1.4M165.4 1681.3h1.7M151.2 1679.3h1.3M133.1 1678.4h1.5M147.2 1686h1.5M172.5 1678.1h2M178.6 1677.3h1.4M151.2 1675.1h2.1M158.4 1700.5h1M152.3 1671.1h1.5M170.9 1678.7h1.6M169.7 1685.4h2.1M167.1 1678.3h0.9M142.6 1679.2h2M131.1 1691.2h1.8M125.6 1679.2h1.4M141 1688.5h1.5M144.7 1674.8h1.1M177 1680.5h1.2M143.6 1679.5h1.2M176.8 1675.8h0.9M161.8 1690.8h1.1M174.1 1732h1.9M141.2 1696.1h1.3M154.3 1672.7h0.9M167 1675.6h1.1M177.6 1677.6h1M138.7 1679.3h1.8M167 1685.4h1.4M168 1684.4h1.3M184.9 1686.1h0.9M157.7 1697.1h1M168.8 1691.9h1.8M153.2 1676.3h1.2M178.8 1685.2h1.2M184.5 1686.6h1.3M140.7 1671.4h1.5M133.7 1669.7h1.3M131.5 1674.1h2M127.6 1680.7h1.9M146.5 1726h1.7M165.8 1702.8h1M177.2 1691h0.9M141.1 1683.2h1.2M128.9 1687.6h1.8M150.7 1678.7h2.1M167 1675.5h2.2M140.8 1675.5h2.2M152.8 1668.2h2.2M139.3 1670.1h1M126.7 1687.8h0.9M160.2 1682.5h1.7M136 1669.6h1.6M163.4 1682.7h0.9M179.7 1680.3h1.4M144 1667.7h1.2M175.2 1672.8h1.4M133.2 1692.8h1M137.7 1685.9h1M127.9 1678h1.2M128.7 1666.6h1.1M144.9 1668h1.1M147.9 1666.5h1.2M133.8 1681.7h1.5M151.3 1675.4h1M161.7 1688.8h1.8M150.8 1676.3h2M144.9 1675.4h1.9M149.9 1677.1h1.4M128.9 1673h1.6M134.6 1666h1M147.2 1685.6h1M130.7 1676.9h1.5M166.6 1690.8h1.5M181.1 1672.2h1.4M159.6 1687.1h2M129.6 1670.4h1M163.4 1691.6h1.8M149.9 1669.1h0.8M164.3 1692.6h1.4M146.4 1678.2h1.5M160.5 1684.7h0.8M131.3 1676.1h1.9M178.4 1678.3h0.8M177.8 1679.9h1.2M159.2 1691.5h1.4M182 1675.4h1.4M159.2 1703.5h1.8M143.8 1671.9h1.3M127.1 1666.6h1.3M139.3 1668.8h1.4M173.6 1681.8h2.1M152.1 1678h1.5M168.1 1683.7h1.9M148.8 1683.8h1.3M143.6 1670.5h1.5M142.6 1674.9h1.3M146 1686h1.1M175.4 1694h1.7M156.4 1692.1h1.3M155.7 1684.2h1.7M137.4 1689.7h1.7M128.9 1673.4h2M165.3 1695.5h1.1M160 1691.2h1.8M157.5 1681.4h0.9M160 1696.4h0.8M179.3 1687h1.4M165.9 1701.8h2M127.5 1669.9h2M148.4 1677h1.4" stroke="#fff" stroke-width="1.2" opacity=".8"/>
<path d="M187.4 1895.3L186.3 1892.8L187 1888.8L186.6 1885.5L186.3 1881.8L186.7 1879.3L187.2 1876.5L186.4 1872.7L187.2 1868.7L186.1 1864.7L187.3 1861.4L186.1 1857.2L187.4 1853L186.9 1849L186 1845.5L186.2 1842.7L186.6 1838.6L186.5 1835.9L186.7 1831.4L186.8 1827.5L186.9 1824.9L186 1821.9L187.3 1817.8L187 1814.8L187.3 1811.1L187.3 1807.1L187 1803.8L187.1 1801L186.9 1798.1L187.1 1794.1L187.1 1789.9L186.6 1786.7L187.1 1783.3L186.1 1778.8L187.1 1775.7L186.1 1772.9L186.1 1768.8L186.3 1765.3L186 1761.5L187.2 1757.8L186.5 1754.8L186.6 1751.8L187 1747.3L187.3 1744.4L186.3 1741.5L186.2 1738.9L186.1 1735.7L186.2 1732L187.4 1728.1L186.6 1724.6L187 1720.3L186.8 1716.5L186.5 1712.2L186.8 1709.1L186.8 1704.9L186.5 1701L186.7 1699L188.1 1703.7L189.2 1704.2L190.6 1704.6L192.4 1703.6L193.4 1700.6L195.2 1705.6L196.1 1703.5L197.2 1702.9L198.2 1705.4L200 1703.8L201.2 1704.8L202.2 1703.8L203.6 1702.2L204.6 1701.5L206.3 1702.5L207.7 1702.1L208.7 1700L209.9 1704L211.7 1703.3L212.7 1706.1L214.1 1703.2L215.9 1711.6L217.6 1705.8L219.5 1704.2L220.7 1702.7L222.5 1703.8L224.4 1704.3L225.8 1700.1L227.2 1701L228.2 1701.1L229.3 1703L231.1 1700.1L232.8 1701.1L234.5 1706.6L235.7 1703.6L236.6 1706.2L237.9 1705.1L239.1 1705.8L240.1 1706.4L241.8 1702.4L243.5 1705.2L245.2 1705.8L246.9 1701.1L248.8 1704.9L249.9 1703.8L251.5 1705.9L253.3 1705.5L254.5 1707.4L255.5 1703.3L256.4 1896.2L254.7 1896.7L253.1 1897.3L251.4 1895.7L250 1895.8L248.3 1896.3L246.5 1897L245 1896.3L243.7 1896.4L241.7 1895.7L240.4 1895.8L238.5 1895.9L237.2 1896.1L235.4 1896.2L234 1895.8L231.7 1897.2L230.4 1896.8L228.2 1896.2L226.4 1896.3L224 1896L221.9 1896.2L220.5 1896.9L219 1896.8L217.7 1896.1L216.3 1896.1L214.3 1896.1L212.1 1897.1L209.8 1896.2L208 1896.2L206.4 1895.8L205.1 1897.1L203 1896.3L200.7 1896.7L199.2 1896.4L197.8 1895.9L196.4 1896.3L194.3 1896L191.9 1895.9L190.1 1896.8L188.6 1895.8L187 1896.2z" fill="#6495ED" stroke="#6495ED" stroke-width="0.8"/>
<g stroke="#6495ED"><use href="#g" x="231.3" y="1689.3"/><use href="#g" x="236.3" y="1691.6"/><use href="#p" x="220.7" y="1698.3"/><use href="#p" x="226.9" y="1684.4"/><use href="#p" x="253.8" y="1624.4"/><use href="#g" x="213.8" y="1693.3"/><use href="#g" x="195.7" y="1706.4"/><use href="#t" x="192.1" y="1642"/><use href="#c" x="222.2" y="1703.3"/><use href="#g" x="235.1" y="1666.6"/><use href="#t" x="256" y="1652.6"/><use href="#g" x="240.1" y="1697.4"/><use href="#o" x="236.1" y="1667.7"/><use href="#g" x="233" y="1701.4"/><use href="#c" x="223.4" y="1696.8"/><use href="#c" x="253.8" y="1699.8"/><use href="#c" x="205" y="1670.1"/><use href="#c" x="250" y="1688.4"/><use href="#g" x="251" y="1680.7"/><use href="#t" x="192.3" y="1622.4"/><use href="#t" x="213.9" y="1627.8"/><use href="#g" x="198.1" y="1671.8"/><use href="#g" x="196.2" y="1674.4"/><use href="#g" x="207.8" y="1702.8"/><use href="#g" x="250" y="1665"/><use href="#g" x="242.2" y="1668.4"/><use href="#o" x="243.8" y="1688.4"/><use href="#g" x="221.3" y="1634.8"/><use href="#t" x="248" y="1628.9"/><use href="#t" x="249.9" y="1696"/><use href="#c" x="193.4" y="1684"/><use href="#t" x="196.1" y="1693.1"/><use href="#t" x="248.5" y="1702.5"/><use href="#c" x="193.5" y="1699.5"/><use href="#c" x="240.1" y="1662.1"/><use href="#t" x="201" y="1691.9"/><use href="#t" x="228" y="1682.5"/><use href="#p" x="218.6" y="1682.1"/><use href="#o" x="227.1" y="1703.8"/><use href="#g" x="198.6" y="1677.1"/><use href="#g" x="218.3" y="1681.8"/><use href="#g" x="191.2" y="1696.9"/><use href="#c" x="219.9" y="1700.3"/><use href="#c" x="252.7" y="1709"/><use href="#c" x="226.9" y="1643.1"/><use href="#g" x="254.5" y="1668.1"/><use href="#g" x="224.2" y="1642"/><use href="#t" x="254" y="1707.5"/><use href="#c" x="211.2" y="1700.2"/><use href="#c" x="208.5" y="1679.9"/><use href="#t" x="198.8" y="1701.7"/><use href="#s" x="230.4" y="1683.3"/><use href="#s" x="212" y="1666.2"/><use href="#c" x="239.6" y="1705.7"/><use href="#g" x="228.7" y="1703.9"/><use href="#c" x="205.8" y="1702.6"/><use href="#t" x="227.9" y="1660.9"/><use href="#s" x="247.4" y="1669.4"/><use href="#g" x="200.1" y="1674.9"/><use href="#p" x="239.8" y="1684.8"/><use href="#s" x="215.7" y="1679.1"/><use href="#t" x="193.2" y="1701.5"/><use href="#g" x="227.4" y="1649.6"/><use href="#g" x="232.9" y="1621.1"/><use href="#c" x="246.7" y="1698.9"/><use href="#g" x="226.4" y="1688.8"/><use href="#t" x="199.1" y="1700.5"/><use href="#g" x="228.2" y="1700"/><use href="#g" x="231.2" y="1677.9"/><use href="#g" x="211.5" y="1704.2"/><use href="#g" x="223.6" y="1695"/><use href="#g" x="217" y="1674.9"/><use href="#g" x="233.8" y="1701.6"/><use href="#g" x="204.9" y="1701.8"/><use href="#g" x="201.8" y="1690.4"/><use href="#g" x="221.3" y="1707.2"/><use href="#t" x="196.7" y="1660.7"/><use href="#t" x="227" y="1657.7"/><use href="#g" x="219.1" y="1703"/><use href="#s" x="244.9" y="1670.3"/><use href="#g" x="207.3" y="1698.3"/><use href="#g" x="197.8" y="1679.4"/><use href="#g" x="238.7" y="1681.5"/><use href="#g" x="233.9" y="1694"/><use href="#t" x="235.5" y="1675.6"/><use href="#c" x="237.3" y="1697.3"/><use href="#g" x="249.7" y="1684.2"/><use href="#g" x="210.1" y="1702.2"/><use href="#g" x="223.4" y="1695.5"/><use href="#g" x="191.3" y="1703.1"/><use href="#g" x="209.4" y="1693.3"/><use href="#p" x="214.4" y="1679"/><use href="#g" x="253.1" y="1677.1"/><use href="#g" x="249.1" y="1672.6"/><use href="#g" x="208.1" y="1641.9"/><use href="#c" x="242.7" y="1647.9"/><use href="#c" x="208.5" y="1651.1"/><use href="#p" x="192.3" y="1664"/><use href="#g" x="210.3" y="1628.1"/><use href="#g" x="248.1" y="1707.4"/><use href="#g" x="197.2" y="1680.8"/><use href="#g" x="202.2" y="1665.6"/><use href="#s" x="238.7" y="1658.6"/><use href="#g" x="253.6" y="1699.8"/><use href="#c" x="217.8" y="1702.4"/><use href="#t" x="199.8" y="1697.4"/><use href="#g" x="232.2" y="1697.8"/><use href="#t" x="241.4" y="1688.6"/><use href="#g" x="228.5" y="1704.8"/><use href="#g" x="246.4" y="1703.3"/><use href="#p" x="243.3" y="1673.7"/><use href="#t" x="194.7" y="1640.4"/><use href="#g" x="254.9" y="1702.8"/><use href="#g" x="251.8" y="1693.3"/><use href="#t" x="225" y="1693.6"/><use href="#g" x="216.6" y="1654.6"/><use href="#g" x="208.7" y="1704.8"/><use href="#g" x="251.9" y="1698.4"/><use href="#t" x="245.4" y="1706.5"/><use href="#g" x="247.4" y="1702.8"/><use href="#g" x="231.5" y="1706.3"/><use href="#t" x="193.6" y="1697.6"/><use href="#g" x="200.5" y="1625.7"/><use href="#p" x="200.5" y="1701.9"/><use href="#c" x="225.8" y="1695.9"/><use href="#c" x="199.1" y="1686.3"/><use href="#s" x="230.5" y="1674.7"/><use href="#g" x="231.5" y="1701.8"/><use href="#c" x="199" y="1687.3"/><use href="#o" x="233.4" y="1706.9"/><use href="#g" x="221.8" y="1698.9"/><use href="#s" x="204.7" y="1689.4"/><use href="#t" x="221" y="1702.9"/><use href="#g" x="239.2" y="1700.3"/><use href="#g" x="202.5" y="1655"/><use href="#t" x="202.1" y="1668.4"/><use href="#t" x="217.5" y="1705.6"/><use href="#o" x="240.6" y="1666.5"/><use href="#c" x="253.7" y="1698.9"/><use href="#g" x="244.2" y="1708.1"/><use href="#o" x="200.7" y="1705.6"/><use href="#t" x="243.5" y="1651.2"/><use href="#t" x="194.3" y="1680.3"/><use href="#g" x="195.8" y="1681.6"/><use href="#s" x="206.3" y="1655.5"/><use href="#t" x="239.6" y="1676.9"/><use href="#g" x="242.6" y="1667.6"/><use href="#s" x="242" y="1691.4"/><use href="#g" x="240.7" y="1653.6"/><use href="#g" x="233.7" y="1647.4"/><use href="#g" x="232.1" y="1687.1"/><use href="#c" x="207" y="1618.3"/><use href="#g" x="202.4" y="1628"/><use href="#t" x="202" y="1626.8"/><use href="#g" x="196.3" y="1618.3"/><use href="#g" x="196.4" y="1629.8"/><use href="#t" x="193.4" y="1616.8"/><use href="#t" x="201.9" y="1619.4"/><use href="#g" x="217.1" y="1680.7"/><use href="#c" x="219.8" y="1689.2"/><use href="#g" x="236.5" y="1637.8"/><use href="#p" x="193.1" y="1631.5"/><use href="#c" x="209.6" y="1683.5"/><use href="#p" x="221.4" y="1631.2"/><use href="#g" x="219.3" y="1639.9"/><use href="#t" x="247.4" y="1641.5"/><use href="#g" x="206" y="1690"/><use href="#g" x="234.5" y="1625.7"/><use href="#g" x="239.6" y="1634.9"/><use href="#s" x="212" y="1685.5"/><use href="#g" x="229.9" y="1688.6"/><use href="#c" x="235.8" y="1689"/><use href="#g" x="193.8" y="1418"/><use href="#g" x="230.4" y="1473.2"/><use href="#g" x="230.4" y="1479.8"/><use href="#g" x="230.4" y="1501.5"/><use href="#g" x="259" y="1483.2"/><use href="#c" x="215.8" y="1527.7"/><use href="#c" x="197.5" y="1538.7"/><use href="#g" x="204.1" y="1536.4"/><use href="#g" x="204.1" y="1548"/><use href="#t" x="252" y="1539.7"/><use href="#t" x="197.5" y="1557"/><use href="#g" x="207.5" y="1560.3"/><use href="#c" x="204.8" y="1563.7"/><use href="#g" x="247" y="1578"/><use href="#t" x="248.7" y="1586.9"/><use href="#g" x="248" y="1595.9"/><use href="#g" x="202.5" y="1585.3"/><use href="#t" x="196.5" y="1586.9"/><use href="#t" x="198.1" y="1596.9"/><use href="#g" x="199.8" y="1601.9"/><use href="#t" x="198.8" y="1608.6"/><use href="#s" x="230.7" y="1609.6"/><use href="#g" x="251.4" y="1609.6"/><use href="#t" x="249.7" y="1611.9"/><use href="#g" x="215.8" y="1616.2"/><use href="#t" x="214.1" y="1623.5"/><use href="#c" x="228.1" y="1632.9"/><use href="#g" x="246.4" y="1635.2"/><use href="#g" x="241.4" y="1638.5"/></g>
<path d="M199.6 1701.4h1.7M238.7 1701.3h1.7M216.3 1698.2h1.6M245.8 1711.6h1.5M214.6 1712.6h2.1M237.6 1700.7h1.2M189.7 1696.1h1.5M192 1697.8h2M204.6 1702.5h1.7M212 1697.8h1.9M229.4 1697.9h1.8M239.5 1701.4h2M198.2 1702.1h2.1M218.2 1697.5h1.7M244.6 1701.8h1.7M244.3 1698h2M198.8 1703.3h2.1M235.4 1709h1.9M237 1699.4h1.9M247.8 1714h1.7M216.2 1699.5h1.3M231.9 1705.8h1.3M198.4 1713.8h1.8M188.8 1705.6h1.3M191.5 1697.1h1M227.7 1710.1h1.2M248.9 1714.5h1.4M237.6 1718.1h1.7M250.7 1705.9h1.9M221.1 1702.7h1.7M234.4 1701h1.6M244.2 1710.5h2.2M202.7 1712.4h2.1M227.4 1709.8h1.8M209.9 1707h1.7M215 1710h1.6M215.2 1709.4h1.2M241.6 1703.1h1.9M198.2 1714.7h1.9M201.1 1697.8h1.4M215.2 1698.9h1.5M246.6 1722.7h2.1M216.7 1712.3h2.1M193.4 1729.6h2M205.3 1703.3h1M225.8 1724.8h1.5M198.2 1699.6h1.3M197.3 1714.6h1.4M190.3 1711.2h1.2M211 1718.8h1.4M203.2 1702h2.1M236.6 1700.5h2.1M194.4 1704h2.2M210 1697.5h2M228.6 1729.7h0.8M234.5 1712.2h1.8M196.7 1696.7h2M221.5 1722.1h1.1M250.2 1706.1h1.7M226.5 1711.1h1.4M196.1 1701h1.3M215.5 1713.3h1.5M192.4 1696.4h2.2M209.4 1699.9h1.2M191.6 1698.9h1.5M240 1737.6h1.1M198 1698.1h1.2M197.7 1710.4h1.8M235 1709.3h0.8M226.3 1712.1h2M244.9 1731.6h1.8M240.2 1700.3h2.2M195.4 1701.5h1M218.2 1705.6h1.3M208.6 1715.5h1M222.1 1703.9h1.9M241.7 1704.4h2M189.9 1697.5h1.9M212.5 1756.8h1.2M203.1 1702.9h1.8M223.9 1706.4h1.9M196.3 1696.5h1M214.5 1725.3h1.7M233.3 1698.9h2M250.8 1701h1M221.4 1698.7h1.9M245.6 1720.3h1.5M242.9 1700.9h1.6M201.8 1700.3h2.2M206.1 1719h1.3M250.1 1698.5h1.5M204.6 1697.7h2.1M249.7 1698.1h1M226.2 1698.4h1.4M200.4 1707.3h0.9M188.6 1704.9h1M251 1708.5h0.9M191.9 1697.3h1.3M224.9 1717.7h1M218.9 1702.6h0.8M243 1709h1.8M229.6 1705.1h0.8M229.7 1698.7h2.1M219.7 1710.2h1.4M208.1 1702.6h2.2M193.8 1700h1.1M237.2 1701h2.2" stroke="#fff" stroke-width="1.2" opacity=".8"/>
<path d="M253.5 1895.3L253.2 1891.6L254.3 1887.7L253.3 1884.2L254 1880.2L253.9 1877.3L253.3 1872.9L253.8 1869.3L253.5 1865.9L253.9 1861.5L253.2 1857.9L253.9 1853.7L253.9 1849.4L253.8 1845.7L253.6 1842L254.1 1837.6L254.1 1834.7L254.3 1832L254.1 1827.7L253.1 1824.6L254.4 1821L253 1817.4L253.3 1814L254 1811.3L253.9 1808L254.1 1803.7L253.1 1800.1L253.2 1796.2L254.2 1793L253.7 1788.6L253.5 1784.6L254.3 1782.1L254.2 1777.8L253.7 1774.7L253.4 1770.7L253.6 1767.3L253.2 1764.3L253.9 1760L253.6 1756.2L254 1752.5L253.1 1749.7L253.3 1747L253.3 1744.1L253.9 1740.1L253.4 1736.1L253.3 1733.6L253.1 1729.4L254.3 1726.5L253.4 1723.4L253.6 1720.6L253.3 1717.3L254.2 1713.2L253.9 1709.6L253.2 1706.3L254.4 1702.1L253.1 1698.8L253.6 1695.5L253.2 1691.3L253.5 1687.5L253.2 1685L253.9 1681.9L253.7 1677.3L254.6 1679.3L256.5 1682.5L257.4 1679.7L258.9 1680L259.8 1677.5L261.3 1682.5L262.9 1677.4L264 1681L264.9 1681.5L266.6 1679.2L268.3 1680.1L269.7 1679.4L271.5 1678.7L273.3 1677.8L274.7 1683.1L275.9 1683L276.9 1682.1L278.7 1679.3L280.3 1680.1L281.6 1680.9L282.7 1676.8L284.4 1681.1L285.9 1679.7L287.5 1680.7L288.8 1677.6L290.5 1681.8L291.8 1679.3L292.9 1679L294.1 1683.2L295.7 1677.5L296.8 1681.1L298.5 1682L300.1 1895.7L297.9 1895.9L295.9 1897.1L294.6 1897.3L293 1895.6L290.6 1895.8L288.3 1896.8L286.5 1896.9L284.2 1896.8L282.9 1896.9L280.6 1896.7L279.1 1897.2L277.5 1897.2L275.8 1896.6L273.5 1897.1L271.8 1897.2L270.5 1896.1L268.9 1897.1L266.9 1896.3L265.7 1896L264.2 1896.1L262.7 1895.9L260.6 1896.3L259.3 1896.4L257.8 1895.8L255.8 1896.2L254.4 1897z" fill="#00008B" stroke="#00008B" stroke-width="0.8"/>
<g stroke="#00008B"><use href="#c" x="264.7" y="1676.4"/><use href="#g" x="296" y="1682.9"/><use href="#t" x="267.8" y="1654.3"/><use href="#g" x="290.7" y="1667.1"/><use href="#g" x="283.4" y="1664.5"/><use href="#g" x="264.4" y="1657.3"/><use href="#g" x="290.8" y="1662.8"/><use href="#t" x="288.8" y="1674.5"/><use href="#t" x="297.6" y="1665.8"/><use href="#c" x="299" y="1682.8"/><use href="#c" x="288.4" y="1678.7"/><use href="#t" x="283.3" y="1653.3"/><use href="#p" x="287.3" y="1673"/><use href="#c" x="276.2" y="1683.4"/><use href="#o" x="269.6" y="1596.2"/><use href="#p" x="282.6" y="1656.9"/><use href="#g" x="279.3" y="1606.6"/><use href="#g" x="263.1" y="1669.7"/><use href="#g" x="296.3" y="1656.7"/><use href="#c" x="279.9" y="1678"/><use href="#t" x="267.3" y="1663.5"/><use href="#c" x="276" y="1670.7"/><use href="#g" x="279.4" y="1657.2"/><use href="#t" x="292.3" y="1678.9"/><use href="#t" x="288.8" y="1681.9"/><use href="#t" x="299.9" y="1679.9"/><use href="#t" x="266.3" y="1683.5"/><use href="#g" x="295.7" y="1666.1"/><use href="#t" x="300" y="1683.8"/><use href="#g" x="269" y="1678.7"/><use href="#g" x="274.2" y="1659.8"/><use href="#c" x="299.9" y="1671.8"/><use href="#t" x="283.2" y="1683.2"/><use href="#p" x="272.5" y="1670.7"/><use href="#g" x="278.3" y="1680.9"/><use href="#g" x="287.7" y="1665.8"/><use href="#g" x="263.7" y="1669.5"/><use href="#g" x="297.9" y="1681.2"/><use href="#t" x="289.6" y="1641.7"/><use href="#g" x="286.8" y="1675.9"/><use href="#s" x="279.7" y="1673.8"/><use href="#p" x="288.7" y="1652.7"/><use href="#s" x="276.4" y="1680.2"/><use href="#t" x="291.4" y="1683.4"/><use href="#t" x="260.6" y="1678.5"/><use href="#o" x="284.2" y="1590.9"/><use href="#s" x="277.3" y="1654.6"/><use href="#g" x="283.9" y="1652.4"/><use href="#g" x="263.9" y="1666.4"/><use href="#p" x="295.5" y="1633"/><use href="#g" x="283.5" y="1681.9"/><use href="#c" x="275.8" y="1684"/><use href="#t" x="264.1" y="1662.1"/><use href="#t" x="279.2" y="1653.5"/><use href="#g" x="272.9" y="1671.8"/><use href="#t" x="279.6" y="1669"/><use href="#c" x="291.4" y="1660.5"/><use href="#t" x="295.5" y="1675.1"/><use href="#g" x="264" y="1638.5"/><use href="#o" x="278.3" y="1675.2"/><use href="#g" x="277.3" y="1664.9"/><use href="#g" x="276.3" y="1654.5"/><use href="#g" x="285.1" y="1656.8"/><use href="#c" x="261.2" y="1671.5"/><use href="#s" x="290.3" y="1632.1"/><use href="#g" x="295.8" y="1623.7"/><use href="#t" x="292.1" y="1665.3"/><use href="#g" x="296.8" y="1656.9"/><use href="#g" x="280.8" y="1667.5"/><use href="#p" x="292.1" y="1661.8"/><use href="#t" x="287.3" y="1674"/><use href="#c" x="301.5" y="1657.5"/><use href="#t" x="294.8" y="1649.5"/><use href="#g" x="278.8" y="1667.4"/><use href="#t" x="286.8" y="1662.2"/><use href="#t" x="264.9" y="1650.3"/><use href="#c" x="283.8" y="1636.6"/><use href="#t" x="259.3" y="1639.1"/><use href="#c" x="279.3" y="1669.6"/><use href="#t" x="286.7" y="1656.6"/><use href="#g" x="262.3" y="1484.5"/><use href="#t" x="262" y="1516.1"/><use href="#g" x="265.7" y="1528.7"/><use href="#g" x="288" y="1538.7"/><use href="#g" x="288" y="1542"/><use href="#p" x="292.3" y="1543"/><use href="#s" x="290.3" y="1555.3"/><use href="#g" x="301.9" y="1554.3"/><use href="#p" x="270.7" y="1561"/><use href="#t" x="290.3" y="1568.7"/><use href="#t" x="269" y="1581"/><use href="#g" x="290.3" y="1582"/><use href="#g" x="288" y="1590.3"/><use href="#c" x="262" y="1586.3"/><use href="#g" x="262" y="1590.9"/><use href="#c" x="278.6" y="1600.9"/><use href="#t" x="262" y="1604.2"/><use href="#t" x="288.6" y="1604.6"/><use href="#c" x="278" y="1615.2"/><use href="#t" x="276.3" y="1623.5"/><use href="#p" x="290.3" y="1630.9"/><use href="#c" x="299.6" y="1630.2"/><use href="#c" x="263" y="1635.2"/><use href="#g" x="273" y="1635.2"/><use href="#t" x="279.6" y="1631.9"/><use href="#t" x="292.9" y="1645.2"/><use href="#t" x="269.7" y="1648.5"/></g>
<path d="M276.6 1687.5h1.7M276.5 1674h1.5M281.8 1682.3h2M294.9 1678h1.5M276.8 1682.5h1.7M264.5 1677.3h1.1M290.1 1697.5h1.9M257.4 1681.2h1.3M278.5 1675h0.9M269.9 1695.4h1.4M269.7 1680.9h2.1M257.5 1677.2h1.5M281 1687h1.2M292.6 1676h1.5M273.5 1687.8h1.7M291.9 1686.3h1.9M290 1674.1h1.5M272.4 1719.2h1.6M274.5 1689.2h2M275.8 1676.1h1M279.6 1695.8h1.1M257 1683.3h2M280 1678.7h2.2M282.5 1688.1h1.2M295.6 1694.4h2.2M283.9 1681.4h1.2M295.3 1708.1h1.6M264.8 1677.6h1.9M280.9 1722.6h2.1M295.6 1678.3h1.6M266.2 1681.5h1.7M267.7 1675.9h2.1M276.8 1676.4h1.8M282.9 1681.4h1.3M273.5 1679.9h1.1M282.6 1679.4h1.7M258.8 1700.8h1.2M259.5 1676h1.9M255.5 1685.2h1.5M284.3 1680.1h1.9M273.2 1680.5h1.5M272.7 1676.5h2.1M261.6 1685.6h0.9M284.7 1675.7h1.5M291.7 1678.6h1.7M282.6 1675.2h1.1M279.4 1686.3h1.9M271.8 1674.7h2M284.6 1677.8h1.1M261.2 1708.7h1.5M295 1686.5h0.9M287.9 1683.1h2.1M272.2 1674.6h1.1M268.8 1674.7h2.1M270.1 1675.9h1.7M291.9 1679.8h1.5M294.7 1676h1.6M272 1682h1.3M262.2 1693.2h0.8M269.1 1677.3h1.6M290 1677.5h1.7M261 1679.6h1.6M289.2 1730.3h2.1M286.5 1681.8h1.8M258.7 1684h0.9M280.4 1714.4h1.6M287.2 1676.4h1.1M261.4 1675.2h1.9M259.2 1702.1h1.6M281.8 1681h1M275 1677.2h1.7M266.5 1703.4h0.8M274.8 1685.1h1.6M281.3 1680.8h0.8M289.6 1707.9h0.9M261.6 1681.2h1.4M285.7 1679.7h0.8M291.3 1675.1h1.1M277.7 1693.1h1.9M284.8 1677.6h1.1M280.5 1693.7h1M268.1 1678.3h0.9M283.4 1681.4h1.3M256.1 1714h1.6M291.9 1679.8h0.8M257.9 1683.5h1.4M293.8 1719h1.3M289.7 1680.3h2M256.2 1679.6h1.4M279.6 1685.6h1.7M265.6 1676.8h2.1M271.9 1674.9h1.8M286.2 1709.3h1.7M264.9 1692.1h1.4M275.3 1674.1h1.3M266.1 1677.7h1.8M294.3 1699.9h1.5M258.3 1674.3h1.5M262.4 1679.5h1M295.3 1682h1.2M292.2 1680.3h1.5M268.4 1685.7h1.8M275.3 1677.1h0.9M278.8 1676.6h1" stroke="#fff" stroke-width="1.2" opacity=".8"/>
<path d="M297.5 1895.3L297.6 1891.1L296.8 1887.8L297.6 1883.3L298.1 1880.2L296.8 1876.4L297 1873L297.2 1870.5L296.8 1867.8L297.2 1863.6L298 1860.3L297.8 1856.2L296.9 1853.3L297.8 1849.7L296.8 1845.8L296.9 1842.3L297.9 1839.5L297.8 1835.9L298 1832.3L297.7 1829.4L297.6 1825L297.1 1820.9L297.5 1816.9L297.3 1812.5L297.9 1809.9L298 1805.9L297.5 1802.7L298.1 1799.8L297.8 1796.7L297.6 1792.7L297.4 1790.1L297.8 1785.7L297.5 1781.4L297 1778.1L297.7 1774.7L297.7 1771.1L297.3 1767L296.9 1763.2L297.2 1760L297.7 1756.1L296.7 1751.9L297.8 1748.2L296.9 1744.3L297 1739.9L297.1 1736.8L297.1 1732.6L297.2 1728.6L296.9 1724.8L297.8 1720.5L297.8 1717.2L297.3 1712.7L297.3 1709L297.2 1704.6L297 1700.8L297.4 1697.1L299 1696.5L300.7 1708L302.5 1696.1L303.7 1699.2L304.7 1697.9L306.5 1701.8L307.9 1701.2L309.3 1701.6L310.7 1699.8L312.5 1704L314 1709.7L315.7 1698.1L316.9 1697.1L318.4 1710L320.1 1698.9L321.3 1697.1L322.9 1699.8L324.6 1698.8L326.2 1697.4L327.7 1696.6L329 1702.2L330.8 1701.7L332.2 1696.7L333.5 1698.9L334.5 1702.8L336 1698.5L337.2 1701L338.3 1699.9L339.6 1697.2L341.3 1697.4L341.5 1896.3L339.8 1895.8L338.5 1896.6L336.6 1895.7L334.3 1895.7L332.3 1897L330.5 1896.1L329 1896.4L327.1 1896.7L325.2 1896L323.9 1897.3L322.5 1895.6L320.2 1897.1L317.8 1896.7L316.2 1896.3L314.1 1896L312 1895.7L309.8 1895.9L308.2 1896.8L305.9 1895.9L303.5 1897.3L302.1 1895.8L300.4 1897.2L298.4 1897.2z" fill="#6495ED" stroke="#6495ED" stroke-width="0.8"/>
<g stroke="#6495ED"><use href="#g" x="339.6" y="1699.5"/><use href="#g" x="308.8" y="1678.5"/><use href="#g" x="331.5" y="1630.4"/><use href="#t" x="327.3" y="1658"/><use href="#g" x="336" y="1647.3"/><use href="#g" x="304.5" y="1680.5"/><use href="#c" x="332.9" y="1699"/><use href="#g" x="335.6" y="1692.3"/><use href="#t" x="318.7" y="1624.7"/><use href="#g" x="333.8" y="1649.7"/><use href="#t" x="310.8" y="1680.8"/><use href="#g" x="332" y="1643.1"/><use href="#c" x="310.6" y="1681.2"/><use href="#g" x="314.4" y="1680.2"/><use href="#o" x="337.8" y="1702.8"/><use href="#t" x="319.4" y="1691.8"/><use href="#t" x="340.1" y="1675.4"/><use href="#s" x="305.7" y="1699.4"/><use href="#t" x="322" y="1642.9"/><use href="#c" x="325.4" y="1698.6"/><use href="#g" x="341.8" y="1690.8"/><use href="#g" x="315.2" y="1620.3"/><use href="#g" x="341.2" y="1681.9"/><use href="#g" x="328.8" y="1698.2"/><use href="#g" x="305.3" y="1660.1"/><use href="#g" x="328.5" y="1702.9"/><use href="#c" x="319.5" y="1700.1"/><use href="#g" x="337.7" y="1659.7"/><use href="#g" x="337.8" y="1673.6"/><use href="#c" x="337.3" y="1648.2"/><use href="#p" x="335.5" y="1696.3"/><use href="#c" x="321.5" y="1698.8"/><use href="#t" x="341.2" y="1673.7"/><use href="#p" x="318.5" y="1661.2"/><use href="#g" x="321" y="1703.9"/><use href="#g" x="304.4" y="1692.4"/><use href="#t" x="329.1" y="1682.4"/><use href="#s" x="302.8" y="1698.9"/><use href="#t" x="303.5" y="1703.1"/><use href="#c" x="331" y="1703.8"/><use href="#t" x="333" y="1692.6"/><use href="#g" x="332.5" y="1626.8"/><use href="#t" x="315.8" y="1689.7"/><use href="#t" x="310.1" y="1685.2"/><use href="#t" x="306.5" y="1702.5"/><use href="#p" x="338.4" y="1669.9"/><use href="#g" x="338.5" y="1666.3"/><use href="#s" x="312.6" y="1669.9"/><use href="#t" x="305.7" y="1694.8"/><use href="#g" x="315.1" y="1697.4"/><use href="#g" x="306.3" y="1696.4"/><use href="#c" x="326.2" y="1684.2"/><use href="#g" x="304.4" y="1688.5"/><use href="#t" x="312.6" y="1656.6"/><use href="#t" x="302" y="1693"/><use href="#c" x="324.8" y="1680.5"/><use href="#g" x="330.5" y="1692.1"/><use href="#g" x="317.7" y="1700.4"/><use href="#t" x="320.4" y="1616.4"/><use href="#g" x="334.2" y="1683.6"/><use href="#g" x="336.3" y="1699"/><use href="#t" x="335.3" y="1698.4"/><use href="#g" x="338.1" y="1702.7"/><use href="#g" x="340.2" y="1702.6"/><use href="#g" x="306.2" y="1680.9"/><use href="#g" x="318.4" y="1655.3"/><use href="#g" x="310.7" y="1700.9"/><use href="#g" x="341.5" y="1690.8"/><use href="#c" x="316" y="1684"/><use href="#p" x="330.3" y="1672.4"/><use href="#g" x="328.5" y="1625.2"/><use href="#t" x="311.3" y="1678.4"/><use href="#c" x="317.8" y="1661.9"/><use href="#g" x="341.3" y="1702.5"/><use href="#c" x="337.8" y="1675.2"/><use href="#t" x="334.3" y="1678.4"/><use href="#c" x="310" y="1699.3"/><use href="#g" x="310.6" y="1635.9"/><use href="#t" x="301.8" y="1701.8"/><use href="#p" x="326.6" y="1684.7"/><use href="#c" x="334.5" y="1672.9"/><use href="#c" x="305.2" y="1671.9"/><use href="#g" x="303.9" y="1677.3"/><use href="#g" x="318.9" y="1635.5"/><use href="#t" x="308.7" y="1673.1"/><use href="#c" x="331.9" y="1690.1"/><use href="#t" x="333.5" y="1699.7"/><use href="#g" x="307.3" y="1683.5"/><use href="#g" x="315.8" y="1687.5"/><use href="#c" x="308.1" y="1662.7"/><use href="#t" x="330.2" y="1644.7"/><use href="#g" x="328.4" y="1704.3"/><use href="#g" x="332.3" y="1694"/><use href="#c" x="316.3" y="1695"/><use href="#t" x="325.2" y="1669.4"/><use href="#c" x="325.5" y="1601.1"/><use href="#c" x="301.9" y="1631.2"/><use href="#c" x="321.7" y="1624.8"/><use href="#c" x="305.9" y="1638"/><use href="#c" x="322.2" y="1611.4"/><use href="#g" x="321" y="1606.3"/><use href="#c" x="331.2" y="1607.8"/><use href="#g" x="300.6" y="1616.2"/><use href="#c" x="321.2" y="1547"/><use href="#g" x="331.2" y="1558"/><use href="#t" x="332.9" y="1566.3"/><use href="#g" x="306.3" y="1579.6"/><use href="#g" x="314.6" y="1581"/><use href="#p" x="341.2" y="1579.6"/><use href="#t" x="334.5" y="1582"/><use href="#g" x="330.2" y="1588.6"/><use href="#g" x="330.2" y="1596.9"/><use href="#p" x="307.9" y="1601.9"/><use href="#g" x="314.6" y="1599.6"/><use href="#g" x="326.2" y="1602.9"/><use href="#g" x="339.5" y="1610.2"/><use href="#g" x="322.2" y="1616.2"/><use href="#g" x="337.9" y="1621.9"/><use href="#t" x="337.9" y="1628.5"/><use href="#c" x="307.9" y="1630.2"/><use href="#c" x="319.6" y="1630.9"/><use href="#g" x="332.9" y="1639.5"/><use href="#g" x="316.2" y="1646.8"/></g>
<path d="M312.1 1739.8h2M333.7 1695.2h1.5M321.4 1693.2h1M337.3 1694.7h1.5M330.3 1694.7h1.4M319.5 1700.3h2M310.9 1697h0.9M333 1694.1h2M317.9 1696.8h2M326.3 1702.8h1.4M305.5 1697.6h1.5M335.3 1699.5h0.9M306.8 1696.2h1.3M315.6 1693.4h1M313 1703.8h1.1M306.3 1705.4h1.5M308.4 1696.1h1.2M330.1 1702.2h1.9M318.1 1695.9h1.6M299.2 1698.3h2.1M334.4 1698.1h1.6M330.9 1700.7h2M302.6 1694.6h0.9M316.5 1704.8h1.2M333.7 1699.4h1.8M314.6 1698.7h0.8M299.2 1710.8h1.2M314.5 1700.6h1M331.6 1697.3h2M301.3 1694.3h1.1M301.8 1693.2h1.9M324.7 1695.8h1.7M310.3 1723h1.9M337 1718.9h2M314.8 1702.8h2.1M300 1704.6h1.5M300 1730.7h1.1M316.4 1705.9h2.1M304.2 1703.4h1.9M328.1 1699.5h2M329.4 1710.8h1.3M335.3 1695.6h1.1M306.1 1706.8h1.9M328.4 1742.3h1.3M319.2 1693.4h1.9M316.8 1702.4h1.9M330.5 1708.2h2.1M300.8 1695h2.1M306.8 1720.7h2.1M328.1 1753.5h1M328 1693.8h1.7M319.6 1699.5h1.3M308.1 1704.6h1.7M327.1 1737.8h1.6M314.9 1701.9h1M336.2 1705.9h1.6M329.5 1697.8h1.1M334.6 1701.9h1.8M328.5 1705.2h1.2M323.5 1705.3h1.6M316.3 1700.8h0.8M318.8 1693.9h1.5M323.8 1694.3h0.8M323.1 1708.7h1.8M332.4 1701h1.8M306.3 1696.1h1.4" stroke="#fff" stroke-width="1.2" opacity=".8"/>
<path d="M338.7 1895.3L338.5 1892.8L338.9 1889.9L338.5 1886.7L339.3 1883.2L338.2 1879.8L339 1876.7L339.2 1873.5L338.7 1869.1L339.4 1866.2L339.2 1862.8L339.4 1859.1L339.1 1855.6L339.4 1852.8L338.4 1850L338.5 1846.3L338.9 1842.5L338.6 1839.1L338.4 1836.5L338.2 1833.9L338.2 1830.2L338.8 1827.6L339.1 1823.1L338.7 1818.7L339.2 1815.8L339.2 1812.5L338.3 1809.5L338.2 1806.2L338.8 1802.5L338.3 1799.9L339.3 1796.1L339.2 1792.3L339.3 1788.8L338.3 1784.6L338.2 1780.2L338.4 1776.9L339.3 1772.4L339.5 1769.1L338.7 1766.2L339.3 1762.5L338.6 1759.8L339.4 1755.8L339.5 1752L339 1748.9L338.9 1746.1L339 1742.9L338.9 1739.8L339.3 1736.2L338.7 1733.3L338.2 1729.4L339.3 1725.6L339.2 1722.1L338.4 1719.3L339 1715.6L338.2 1713L339 1709.3L338.5 1705.8L339.5 1702.3L338.9 1698.7L338.5 1694.5L338.2 1690.5L339.3 1686.5L338.9 1683.6L338.8 1678.7L340.1 1677.6L341.4 1675.4L343 1674.3L344.5 1678.3L346 1679.1L347.3 1677.5L348.9 1672.9L350.6 1679L352.5 1673.1L353.9 1673.6L355.6 1679.4L356.7 1677.9L358.2 1675.3L359.9 1675.8L361.5 1673.3L363.2 1687.1L365 1680L366.7 1686.7L367.9 1685.2L368.9 1693.1L370.4 1693.3L372.1 1684.4L373.8 1682L375.1 1675.4L376.6 1673.5L378 1685.3L379.1 1673.3L380.2 1679.1L381.5 1676.8L382.6 1673.9L383.7 1677L385.1 1676.9L386.6 1677.3L388.1 1676.5L389.2 1676.5L390.9 1673.6L391.9 1675L393 1896.2L391.6 1895.7L390 1896.5L387.7 1897.1L385.3 1896.6L383.5 1896.5L381.8 1895.7L379.7 1896.4L378.2 1896.1L376.7 1896.5L374.6 1896.5L373.2 1896.9L371.3 1895.9L369.8 1897L368 1895.6L366.3 1896.4L364.3 1896L362.2 1896L360.3 1896L358.7 1896.8L357.2 1896.4L355.9 1896.9L353.9 1895.7L352.6 1895.9L350.3 1895.9L348 1897.1L346.3 1895.7L344 1896L342.4 1895.7L341.1 1896.6L339.2 1895.8z" fill="#00008B" stroke="#00008B" stroke-width="0.8"/>
<g stroke="#00008B"><use href="#c" x="361.8" y="1674.9"/><use href="#g" x="392.5" y="1663.3"/><use href="#c" x="367.6" y="1675.7"/><use href="#s" x="387.9" y="1666.9"/><use href="#g" x="371.8" y="1686.9"/><use href="#g" x="356.7" y="1660.7"/><use href="#g" x="376.1" y="1651.8"/><use href="#g" x="374" y="1658.5"/><use href="#c" x="388.7" y="1654.9"/><use href="#t" x="375" y="1627.7"/><use href="#c" x="388.7" y="1604.1"/><use href="#t" x="346.3" y="1657.2"/><use href="#t" x="352.5" y="1646.9"/><use href="#t" x="392.6" y="1649.4"/><use href="#s" x="370.4" y="1687.6"/><use href="#p" x="366.1" y="1683.9"/><use href="#t" x="344.5" y="1669"/><use href="#c" x="374.2" y="1664.6"/><use href="#t" x="389.3" y="1678.3"/><use href="#t" x="355.1" y="1665.9"/><use href="#c" x="380" y="1677.2"/><use href="#g" x="358.2" y="1676.7"/><use href="#g" x="363.4" y="1671.4"/><use href="#t" x="386.8" y="1662.4"/><use href="#g" x="351.9" y="1660.6"/><use href="#c" x="380" y="1652.7"/><use href="#p" x="370" y="1670.6"/><use href="#c" x="353.6" y="1674.8"/><use href="#t" x="358.1" y="1669.9"/><use href="#t" x="345.9" y="1667.5"/><use href="#c" x="369.8" y="1687.1"/><use href="#s" x="370.3" y="1636.9"/><use href="#g" x="346.7" y="1676.4"/><use href="#c" x="346.4" y="1666.9"/><use href="#g" x="356.4" y="1664.2"/><use href="#g" x="358.9" y="1669"/><use href="#s" x="379.1" y="1677.5"/><use href="#c" x="357.6" y="1622.1"/><use href="#c" x="393.2" y="1664.8"/><use href="#g" x="391.6" y="1665.5"/><use href="#g" x="350.2" y="1610.9"/><use href="#c" x="357.8" y="1653.4"/><use href="#g" x="373.8" y="1673.3"/><use href="#t" x="375.1" y="1668.9"/><use href="#p" x="380" y="1675.3"/><use href="#t" x="344.7" y="1642.6"/><use href="#g" x="345" y="1665.5"/><use href="#g" x="371.9" y="1677.6"/><use href="#g" x="390.9" y="1668.7"/><use href="#g" x="347" y="1650.3"/><use href="#s" x="368.9" y="1643.2"/><use href="#g" x="370" y="1688.2"/><use href="#g" x="345" y="1635.8"/><use href="#c" x="354" y="1668.7"/><use href="#s" x="381.1" y="1672.6"/><use href="#g" x="343.9" y="1677.4"/><use href="#g" x="358.8" y="1626.3"/><use href="#t" x="366.9" y="1688.9"/><use href="#t" x="370.3" y="1687.8"/><use href="#o" x="366.6" y="1685.8"/><use href="#g" x="359.3" y="1678.5"/><use href="#g" x="355.3" y="1613"/><use href="#g" x="363" y="1673.5"/><use href="#t" x="362.8" y="1680.8"/><use href="#s" x="374.8" y="1652.2"/><use href="#g" x="366" y="1663"/><use href="#t" x="387.6" y="1661.9"/><use href="#g" x="374.6" y="1680.1"/><use href="#s" x="382.4" y="1669.3"/><use href="#g" x="344.6" y="1679.1"/><use href="#g" x="392.9" y="1661.7"/><use href="#g" x="392.2" y="1670.3"/><use href="#t" x="372.4" y="1641.7"/><use href="#t" x="345.8" y="1634.2"/><use href="#g" x="350.2" y="1666.8"/><use href="#g" x="358.5" y="1633.5"/><use href="#t" x="353" y="1669.3"/><use href="#g" x="352.1" y="1671.6"/><use href="#g" x="360.9" y="1645.9"/><use href="#o" x="354" y="1666"/><use href="#c" x="359.8" y="1668.5"/><use href="#g" x="358.3" y="1664.3"/><use href="#t" x="376.7" y="1630.3"/><use href="#p" x="386.8" y="1639.1"/><use href="#g" x="373.7" y="1671.9"/><use href="#c" x="370.3" y="1621.9"/><use href="#g" x="380.9" y="1662.4"/><use href="#g" x="380.9" y="1663.1"/><use href="#g" x="378.6" y="1630.9"/><use href="#g" x="391.5" y="1656.1"/><use href="#g" x="388.5" y="1640.3"/><use href="#g" x="370.7" y="1629.6"/><use href="#c" x="367.8" y="1651.4"/><use href="#c" x="372.8" y="1671.9"/><use href="#g" x="379.2" y="1621.5"/><use href="#t" x="374.9" y="1647.8"/><use href="#c" x="355.5" y="1557"/><use href="#c" x="393.4" y="1544.4"/><use href="#g" x="348.8" y="1594.6"/><use href="#c" x="374.5" y="1589.6"/><use href="#t" x="392.1" y="1586.3"/><use href="#g" x="355.5" y="1609.6"/><use href="#c" x="390.4" y="1609.6"/><use href="#t" x="388.8" y="1620.2"/><use href="#t" x="376.8" y="1619.5"/><use href="#c" x="367.1" y="1630.2"/><use href="#t" x="374.5" y="1635.2"/><use href="#t" x="382.8" y="1631.9"/><use href="#g" x="392.7" y="1640.2"/><use href="#t" x="351.8" y="1634.2"/></g>
<path d="M353.1 1678.4h2.1M385.2 1698.4h2.1M388.5 1675.3h1.6M376.2 1673.2h1.2M377.9 1679.2h1.3M352.5 1672.4h1.4M357.7 1674h1.1M362.7 1680.3h1.9M343.9 1674.3h2M361.5 1681.8h1.9M341.9 1697.4h2.1M357.4 1672.9h1.1M344.7 1673.2h1.2M377.7 1685.3h0.9M369.6 1685.1h1.8M379.5 1702.1h1.2M342.7 1677.6h0.8M372.3 1697.5h1.6M353.8 1673.1h2.2M377.5 1674.5h2.2M359.1 1696.6h2M371.4 1682.8h1.8M387.5 1675h1.9M365.5 1684.5h0.9M352.1 1687h1.3M359.8 1680.3h1M378 1685.3h1.1M368.7 1697.7h2.1M375.4 1670h2.2M368.4 1682.6h0.9M386.2 1678.4h1.1M343.8 1690.7h1.3M341.2 1672.8h1.4M383.8 1692.6h1M358.3 1705.2h2.1M384 1672.9h1.9M366.1 1687h1.1M373.2 1702.5h1.3M373.7 1682.3h1.3M380.5 1681h2.1M388.1 1674.2h1.5M358.9 1689.3h1.9M375.4 1694.6h1.3M356.4 1681.2h1.3M362.6 1711.8h2M370.7 1691.3h0.8M372.8 1678.8h1.5M388.5 1687.8h2M377.1 1683.6h1.9M356.2 1682.7h1.7M363.2 1677.9h1.5M340.6 1692.3h1M373.9 1685h1.5M351.7 1672.3h2.2M369.4 1685.4h2M367.9 1704.9h0.9M350.1 1674.1h1.9M377.8 1683.7h2.1M356.1 1670.2h2.2M363.1 1670.6h1.1M384.3 1730h1.3M340.6 1673.2h1.2M344.9 1687.9h1M358.8 1670.4h1.7M376.9 1673.8h1.4M359.6 1671.5h1.2M385.7 1670.6h1.5M377.1 1685.4h1.7M346.5 1671.8h0.8M357.4 1705.4h1.2M367.8 1680.3h1.4M347.5 1681.3h2.2M381.3 1676.8h2.1M372.7 1682.7h1.3M343.3 1676.3h1.8M359.8 1676.6h0.9M374.9 1691.2h1.5M358.7 1708.8h1.2M383.2 1699.8h1.9M354.7 1670.1h1.8M357.2 1689.8h1.4M364.5 1683.7h1.8M373.9 1705.9h1.9M378.4 1671.6h2.1M371 1689.8h1.4M363.5 1708.4h0.9M342.9 1680.6h1.9M387.9 1676.2h2.1M362.3 1671.2h1.6M353.4 1690.1h1.9M355.4 1678h1.5M388.1 1683.3h1.8M364.1 1677.7h1.6M351.4 1679.5h0.9M376.7 1688.1h0.9M388.4 1670.6h1.4M359 1698.4h1.7M385.6 1680.7h1.4M349.2 1717.5h1M382.4 1670.9h1.5M340.5 1688.7h1.7M379.2 1675.3h1.2M384.8 1673.1h1.5M379.5 1684.2h0.9M348.2 1675.4h1.1M349.8 1674.7h0.9M357.3 1673.8h1.5M375.7 1678.1h1.6M358.8 1730h2.1M368.8 1682.2h1.9M359.3 1675.5h1.7M376.4 1678.5h1.6M354.1 1672.1h1.9M343.3 1671.4h1M366.6 1718.5h1.1M346.4 1678.5h1.2M373.9 1694h1.8M368.1 1689.2h2.1M363.8 1671.8h1.6M383.9 1672.4h1.3M388.2 1681.4h2.1M363.5 1686.2h1.1M345.2 1672.1h1.6" stroke="#fff" stroke-width="1.2" opacity=".8"/>
<path d="M390.4 1895.3L390 1892.6L389.7 1889.8L390.8 1886L389.7 1881.6L390.4 1878.7L390.7 1875.2L390.1 1872.7L389.9 1869.9L390.2 1866L390.5 1862.7L390 1860.1L390 1857.5L390.4 1853.3L391 1849.8L390.8 1845.8L390 1841.7L390.7 1838.7L390.9 1835.7L390.9 1832.9L389.9 1829.9L389.7 1826.3L389.7 1823.6L390 1819.3L390.7 1816.1L390.5 1813.1L390.7 1809.9L390.2 1807.2L390.7 1803.7L390.1 1800.6L390.9 1796.2L390.5 1792.7L390 1790.1L390 1787.2L389.8 1782.8L389.8 1779.7L391 1775.3L390.5 1772.1L390.1 1767.9L389.8 1765.1L390.7 1761.5L390.6 1758.8L390.9 1754.4L390.5 1751.3L390.9 1747.1L389.8 1744.5L390.5 1741.2L389.9 1737.1L390.4 1734.3L389.9 1730.4L390.4 1727.7L390 1723.7L390.8 1719.9L390 1716.4L390.1 1713.3L390.6 1709.3L390.1 1705.7L390.9 1703.2L390.9 1699.9L390.3 1696.8L390.3 1694.1L391.8 1696.5L393.6 1695.8L394.7 1695.4L396.6 1696.8L398.2 1696.1L399.2 1695.7L400.4 1696L401.8 1691.8L403.2 1703.6L404.2 1694L405.8 1691.8L407.2 1697.3L408.1 1704.4L409.5 1693.4L410.7 1695.6L412 1696.5L413.7 1702L415.3 1691.6L416.9 1692.3L417.8 1695.4L419.1 1696.1L420.5 1690.9L421.5 1695.2L423.1 1697.5L424.3 1693.4L425.9 1691.5L427.7 1695.1L429.2 1690.5L430.6 1693.8L431.9 1695.4L433.5 1694.6L434.7 1693.4L435.6 1691.3L437.5 1695.3L438.9 1690.7L440 1695L441 1694.4L442 1691.6L443.4 1691.8L444.5 1692.2L446.4 1696.5L447.7 1691.8L449.3 1694.9L451 1690.7L451.2 1896.5L448.8 1897.2L446.7 1896.3L445.2 1896.2L443.1 1895.8L441.4 1897L439.4 1896.4L437.3 1896.9L436 1895.7L434.2 1896.8L432.6 1896.9L431.1 1896.9L429.3 1896.6L427 1897L424.9 1895.9L423.4 1896.3L421.3 1896.9L419.6 1896.8L417.9 1896.1L416.3 1896.8L414.2 1896.3L411.9 1896.1L409.9 1896.4L407.8 1896.7L405.7 1896.4L404.3 1896.5L402.4 1897.1L400.2 1896.8L398.9 1896.5L397.4 1896.6L396 1897.2L394.6 1896.6L392.8 1897L390.8 1895.9z" fill="#6495ED" stroke="#6495ED" stroke-width="0.8"/>
<g stroke="#6495ED"><use href="#t" x="427.7" y="1673.1"/><use href="#s" x="447.3" y="1669.2"/><use href="#g" x="436.2" y="1698.2"/><use href="#g" x="445.9" y="1651.6"/><use href="#t" x="401.7" y="1693.9"/><use href="#g" x="421" y="1639.7"/><use href="#g" x="444.8" y="1694.3"/><use href="#g" x="404.9" y="1638.5"/><use href="#c" x="437.6" y="1685.7"/><use href="#g" x="424.8" y="1668.2"/><use href="#p" x="431.4" y="1676.9"/><use href="#t" x="434.2" y="1636.8"/><use href="#g" x="400.2" y="1651.4"/><use href="#o" x="430" y="1698.9"/><use href="#o" x="424.7" y="1679.1"/><use href="#g" x="440.7" y="1664.7"/><use href="#g" x="397.4" y="1660.9"/><use href="#g" x="394.7" y="1658.5"/><use href="#t" x="399.1" y="1678.7"/><use href="#g" x="446.4" y="1671.4"/><use href="#c" x="424.1" y="1679.9"/><use href="#g" x="446.2" y="1659.5"/><use href="#t" x="408.6" y="1688.8"/><use href="#o" x="440.2" y="1674.7"/><use href="#t" x="418.4" y="1685"/><use href="#g" x="448.7" y="1690"/><use href="#g" x="441.8" y="1682.4"/><use href="#g" x="404.6" y="1675.3"/><use href="#t" x="397.2" y="1684.6"/><use href="#g" x="445.3" y="1694"/><use href="#g" x="407.6" y="1663.3"/><use href="#g" x="446.3" y="1681.3"/><use href="#c" x="425.5" y="1665"/><use href="#g" x="419.8" y="1646.4"/><use href="#c" x="449.9" y="1633"/><use href="#t" x="428.5" y="1663"/><use href="#t" x="404.6" y="1686.8"/><use href="#t" x="416.6" y="1660.3"/><use href="#g" x="435.9" y="1691.3"/><use href="#p" x="433.6" y="1697.2"/><use href="#o" x="422.1" y="1678.5"/><use href="#g" x="421.8" y="1697.4"/><use href="#g" x="441.1" y="1669.1"/><use href="#t" x="406.7" y="1680.9"/><use href="#c" x="446.6" y="1675.4"/><use href="#g" x="402.4" y="1642.6"/><use href="#c" x="422.8" y="1681.7"/><use href="#p" x="433.9" y="1667.4"/><use href="#t" x="402.4" y="1677.9"/><use href="#t" x="449.9" y="1647.9"/><use href="#g" x="399.4" y="1623.6"/><use href="#g" x="412.7" y="1689.3"/><use href="#s" x="413.8" y="1646.3"/><use href="#g" x="437.4" y="1667.3"/><use href="#t" x="419.7" y="1686.8"/><use href="#t" x="426.4" y="1685.1"/><use href="#c" x="428.3" y="1681.8"/><use href="#g" x="426.7" y="1650.2"/><use href="#g" x="423.1" y="1663.4"/><use href="#g" x="411" y="1686.4"/><use href="#c" x="419.5" y="1666.5"/><use href="#g" x="429.6" y="1687.6"/><use href="#g" x="451.4" y="1663.6"/><use href="#c" x="412.7" y="1664.7"/><use href="#c" x="438" y="1693.1"/><use href="#p" x="398.3" y="1686.9"/><use href="#g" x="416.4" y="1693.2"/><use href="#t" x="410.6" y="1695.5"/><use href="#g" x="442.7" y="1691.1"/><use href="#g" x="421.1" y="1684.8"/><use href="#g" x="398.2" y="1685.7"/><use href="#t" x="421.5" y="1669.3"/><use href="#t" x="444.1" y="1664.8"/><use href="#g" x="401.5" y="1685.2"/><use href="#c" x="404.5" y="1607.5"/><use href="#t" x="397" y="1670.4"/><use href="#g" x="438.1" y="1660.9"/><use href="#t" x="431.9" y="1695.1"/><use href="#t" x="438" y="1683.8"/><use href="#c" x="397.4" y="1653.4"/><use href="#c" x="397.7" y="1690"/><use href="#g" x="425.7" y="1659.1"/><use href="#t" x="432.2" y="1616.2"/><use href="#t" x="435.5" y="1629.2"/><use href="#p" x="409.3" y="1639.9"/><use href="#s" x="422.6" y="1690.1"/><use href="#g" x="440.9" y="1680.8"/><use href="#g" x="405.5" y="1694.6"/><use href="#t" x="399.6" y="1676.8"/><use href="#g" x="433.8" y="1667"/><use href="#c" x="405.7" y="1677.9"/><use href="#g" x="401.5" y="1658.6"/><use href="#o" x="438.2" y="1697.2"/><use href="#s" x="434" y="1689.2"/><use href="#g" x="394.8" y="1670.1"/><use href="#c" x="416.9" y="1697.6"/><use href="#t" x="426.4" y="1692.5"/><use href="#g" x="439.2" y="1688.2"/><use href="#g" x="405" y="1695.3"/><use href="#g" x="419.2" y="1683.9"/><use href="#t" x="449.3" y="1680.8"/><use href="#g" x="435.8" y="1616.4"/><use href="#c" x="440.8" y="1664.8"/><use href="#t" x="447.6" y="1671"/><use href="#g" x="409.1" y="1694.8"/><use href="#t" x="431.6" y="1697.2"/><use href="#g" x="409.7" y="1617.8"/><use href="#s" x="441.1" y="1688.2"/><use href="#s" x="407" y="1673.7"/><use href="#p" x="446.4" y="1677.8"/><use href="#g" x="425.5" y="1698.5"/><use href="#c" x="412.1" y="1684.2"/><use href="#g" x="430" y="1694.7"/><use href="#g" x="440.7" y="1684.9"/><use href="#t" x="426.8" y="1698.2"/><use href="#c" x="409.5" y="1667.6"/><use href="#g" x="407.5" y="1653.5"/><use href="#s" x="406.8" y="1640.8"/><use href="#p" x="425" y="1692.4"/><use href="#g" x="449.6" y="1694.5"/><use href="#t" x="450" y="1677.4"/><use href="#t" x="408.4" y="1690.9"/><use href="#c" x="404.3" y="1673.4"/><use href="#g" x="440.1" y="1681"/><use href="#c" x="419.5" y="1665.8"/><use href="#o" x="413.6" y="1689"/><use href="#t" x="441.2" y="1686.1"/><use href="#o" x="438.1" y="1627.9"/><use href="#t" x="406.8" y="1682.9"/><use href="#c" x="422.9" y="1620.2"/><use href="#g" x="429.1" y="1641.6"/><use href="#c" x="431.3" y="1658.2"/><use href="#g" x="430.8" y="1641.1"/><use href="#s" x="427.6" y="1654.3"/><use href="#c" x="410.9" y="1655.4"/><use href="#g" x="401.2" y="1658.9"/><use href="#g" x="420.7" y="1658.8"/><use href="#t" x="411.7" y="1652.9"/><use href="#g" x="398.7" y="1542"/><use href="#t" x="407.7" y="1547.7"/><use href="#t" x="407.7" y="1557"/><use href="#g" x="418.7" y="1576"/><use href="#g" x="418.7" y="1586.9"/><use href="#t" x="399.4" y="1598.6"/><use href="#g" x="417.7" y="1605.2"/><use href="#p" x="397.7" y="1611.9"/><use href="#c" x="401.1" y="1613.6"/><use href="#g" x="409.4" y="1612.9"/><use href="#g" x="404.4" y="1626.9"/><use href="#g" x="411" y="1626.9"/><use href="#c" x="409.4" y="1643.5"/><use href="#g" x="439.3" y="1558.7"/><use href="#t" x="451.6" y="1558"/><use href="#g" x="420.6" y="1576"/><use href="#g" x="418.3" y="1586.9"/><use href="#g" x="431.6" y="1585.9"/><use href="#g" x="418.3" y="1606.2"/><use href="#g" x="433.3" y="1606.2"/><use href="#t" x="443.2" y="1611.9"/><use href="#g" x="406.7" y="1611.9"/><use href="#g" x="431.6" y="1615.2"/><use href="#t" x="423.3" y="1628.5"/><use href="#g" x="408.3" y="1625.2"/><use href="#c" x="429.9" y="1649.5"/><use href="#g" x="410" y="1643.5"/></g>
<path d="M443.3 1692.2h1.3M438.7 1689.4h2.2M415.9 1722.7h2.2M411.7 1693.8h2.2M409.3 1696.4h0.9M403.9 1697.9h1M411.1 1699h1.9M436.4 1691.1h1.6M444.4 1706.8h1.2M427.2 1725.9h0.9M436.3 1713.9h1.4M393.3 1695.2h0.9M430.4 1707.4h2.1M426.7 1748h1.5M421.3 1707.3h1.9M400.1 1705.2h1.1M432.1 1692.6h0.9M424.9 1696.7h0.8M405.6 1717.8h1.5M394.3 1718.3h1M397.5 1701.9h1.1M401.9 1693.4h1.7M432.9 1737.9h1.2M417.3 1696.1h1.5M422.8 1692.7h1.7M442.6 1696.7h1.6M411.1 1694.7h2M400.2 1694.1h1.3M436.1 1731h1.7M439 1701.7h1.1M413 1706.3h1.5M411.1 1695.1h0.9M407.3 1689.7h0.8M422 1698.1h2.1M403.5 1688.7h1.3M403.3 1707.1h1.7M423.9 1696h1.4M435.8 1698.3h1.1M422.5 1699.6h1.9M442.8 1688.8h1.2M407.9 1691.2h1.5M395.4 1695.5h1.2M438.9 1690h1.5M423.8 1695.4h2.2M419.6 1691.9h2M397.2 1692.9h2M392.1 1698.3h1.6M400.2 1700.9h0.9M435.3 1716.4h1.7M446 1725.9h2.2M405.3 1692.5h1.9M438.5 1696h1.9M393.6 1706.8h1.9M434.7 1697h0.9M440.6 1688h2.1M443.6 1695.5h1.6M398.9 1699.9h1M404 1699h1.3M433.8 1695.8h1.8M426.6 1688.1h1.1M408.3 1692.5h1.8M443.9 1691.1h2M398.7 1692.6h0.9M430.3 1694h1.8M405.2 1703.9h1.3M426.9 1689.2h1.9M418.8 1701.1h1.3M409.7 1704.2h2M404.3 1691.3h1.6M438.6 1710h1.3M422.4 1695.2h1.1M397.4 1699h2M413.7 1688.3h0.9M431.3 1699.6h1.3M426.9 1693.4h1.8M428.5 1698.7h1.1M446.1 1699.8h1M406.6 1709h1.2M405.7 1688.8h1M408.7 1734.2h1.9M392.6 1715.8h1.2M435.8 1689h1.9M411.3 1703.9h1M421 1688.3h1.5M426.5 1691.6h2M429.8 1690.2h1.3M430.5 1693.6h0.9M401.3 1695.8h1.5M438.6 1694.2h1.9M398.8 1696.4h1.7M393.1 1704.4h1.4M417.6 1709.2h2M442.1 1696.3h1.4" stroke="#fff" stroke-width="1.2" opacity=".8"/>
<path d="M447.8 1895.3L448.5 1891.3L449 1888.8L448.6 1886.1L447.8 1882L447.9 1878L448.3 1874.1L448.9 1870.4L448.2 1867.6L448 1864.6L447.9 1861.2L447.8 1857.5L448.4 1854.1L449 1850.3L448.5 1847.1L448.4 1844L448.6 1840.7L448.6 1837L448.8 1833.3L448.5 1829.3L448.6 1825.4L448.5 1822L448.4 1818.3L448.5 1815.7L449 1813L448 1810.4L448.6 1806.6L448.4 1803.6L448 1799.3L448 1796.8L447.9 1794L449.2 1790.5L448.6 1786.1L448.3 1781.8L448.8 1777.8L448.9 1774.5L448.3 1770.8L448.5 1766.4L448.4 1762.9L448.7 1758.6L447.9 1755.4L448.4 1752L448.5 1748.1L448.3 1745.2L449.2 1740.7L448.2 1736.3L448.5 1732.3L449.1 1728.5L448.3 1725.8L447.9 1723L448.1 1719.2L448.3 1716.3L448.2 1712L448.1 1708L448 1704L449.2 1700.2L449.2 1697.3L448.1 1694.2L448.9 1691L449.1 1687.6L448.6 1684.6L448.2 1681.2L448.7 1678.5L448.6 1674.1L448.5 1669.2L449.8 1682.6L451.2 1672.8L452.2 1668.7L453.8 1682.7L455.5 1674.9L457 1673.8L458 1669.8L459.5 1672.9L461.3 1669.3L462.7 1671L463.7 1674.2L465 1668.8L466.4 1669L468.2 1671.6L469.2 1671.9L470.5 1674.6L471.9 1670.9L473.6 1674.4L474.7 1671.1L476 1668.6L477.6 1673.3L478.7 1668.6L480.1 1672.2L481.4 1670L483.3 1675.1L484.5 1671.7L485.8 1673.5L487.1 1668.7L488.2 1674.1L489.6 1669.3L490.6 1674L492 1670.6L493 1669.4L494.5 1673.4L495.1 1897.2L492.8 1895.9L491 1896.6L489.6 1896L487.4 1896.5L486 1896.2L484.3 1895.7L482.2 1896.3L481 1896.1L478.7 1897.1L476.5 1897.1L474.8 1896.3L473.5 1897L471.7 1896.9L470 1896.3L467.8 1896.7L465.7 1896.7L464.3 1897.1L462.5 1895.9L460.6 1896.2L459.2 1895.7L457.1 1896.5L454.9 1896.3L453 1896.7L451.8 1895.8L449.7 1895.7z" fill="#00008B" stroke="#00008B" stroke-width="0.8"/>
<g stroke="#00008B"><use href="#s" x="462.8" y="1673.2"/><use href="#t" x="455" y="1669.6"/><use href="#g" x="491.4" y="1636.6"/><use href="#t" x="483.2" y="1674.3"/><use href="#t" x="486.3" y="1655.4"/><use href="#g" x="491.5" y="1637.3"/><use href="#t" x="474.4" y="1674.1"/><use href="#s" x="484" y="1668.3"/><use href="#g" x="488.8" y="1675.7"/><use href="#g" x="459.3" y="1674.7"/><use href="#g" x="457" y="1661.8"/><use href="#c" x="479.5" y="1676.8"/><use href="#t" x="469.5" y="1667.3"/><use href="#t" x="458.6" y="1665.2"/><use href="#g" x="455.8" y="1658.7"/><use href="#g" x="453.6" y="1621.2"/><use href="#t" x="462.7" y="1655.1"/><use href="#p" x="457.2" y="1659.1"/><use href="#t" x="453.1" y="1665"/><use href="#g" x="494.8" y="1665.5"/><use href="#g" x="453.8" y="1666.6"/><use href="#t" x="473.8" y="1676.8"/><use href="#t" x="492.7" y="1666"/><use href="#g" x="484.9" y="1656.1"/><use href="#s" x="487.7" y="1660.4"/><use href="#t" x="483.5" y="1660.1"/><use href="#g" x="482.4" y="1658.3"/><use href="#t" x="468.3" y="1635.9"/><use href="#g" x="469.7" y="1672.6"/><use href="#t" x="469.5" y="1634.1"/><use href="#g" x="464.1" y="1676.1"/><use href="#c" x="471.4" y="1669.9"/><use href="#g" x="454.9" y="1675.8"/><use href="#g" x="465.5" y="1671.2"/><use href="#t" x="490.3" y="1676.2"/><use href="#p" x="458.3" y="1645.8"/><use href="#s" x="483.7" y="1668"/><use href="#c" x="461.2" y="1670.2"/><use href="#s" x="488.9" y="1656.5"/><use href="#g" x="474.3" y="1611"/><use href="#s" x="488.7" y="1644.5"/><use href="#t" x="454" y="1670.9"/><use href="#o" x="485.4" y="1674.8"/><use href="#t" x="458.1" y="1664.5"/><use href="#c" x="465.6" y="1670.8"/><use href="#t" x="487.1" y="1671.1"/><use href="#g" x="455.7" y="1669.1"/><use href="#c" x="470.9" y="1671.1"/><use href="#g" x="458.1" y="1666.1"/><use href="#g" x="495.4" y="1646.6"/><use href="#g" x="489.8" y="1641.8"/><use href="#t" x="481.9" y="1641.9"/><use href="#g" x="493.9" y="1656.2"/><use href="#p" x="473.5" y="1656.2"/><use href="#t" x="463.7" y="1641.7"/><use href="#s" x="483.9" y="1649.2"/><use href="#g" x="472.9" y="1672.6"/><use href="#t" x="487.3" y="1643.2"/><use href="#c" x="465.4" y="1626.3"/><use href="#p" x="488.5" y="1672.7"/><use href="#t" x="465.9" y="1645.7"/><use href="#t" x="454.7" y="1656"/><use href="#g" x="486.9" y="1657.4"/><use href="#t" x="475.6" y="1616.2"/><use href="#t" x="468.5" y="1666.9"/><use href="#g" x="463.8" y="1652"/><use href="#g" x="493.9" y="1642.4"/><use href="#s" x="453.3" y="1665.2"/><use href="#g" x="472.7" y="1645.7"/><use href="#g" x="493.6" y="1657.7"/><use href="#g" x="485.7" y="1661.2"/><use href="#g" x="493.6" y="1650.1"/><use href="#t" x="456.1" y="1629.2"/><use href="#o" x="482.2" y="1663.4"/><use href="#s" x="485.3" y="1619.4"/><use href="#g" x="484.7" y="1666.5"/><use href="#g" x="469.3" y="1661.4"/><use href="#g" x="494.8" y="1665.5"/><use href="#o" x="485.6" y="1666.8"/><use href="#s" x="455.1" y="1667"/><use href="#c" x="458.3" y="1647"/><use href="#g" x="455.9" y="1658.1"/><use href="#c" x="468.2" y="1467.2"/><use href="#g" x="495.8" y="1472.2"/><use href="#b" x="489.2" y="1536.4"/><use href="#g" x="489.2" y="1550.4"/><use href="#s" x="456.6" y="1557.7"/><use href="#g" x="465.9" y="1577"/><use href="#g" x="469.9" y="1584.6"/><use href="#g" x="478.8" y="1596.3"/><use href="#g" x="489.2" y="1600.3"/><use href="#g" x="458.9" y="1602.6"/><use href="#g" x="467.5" y="1606.9"/><use href="#c" x="454.9" y="1611.9"/><use href="#g" x="491.5" y="1614.2"/><use href="#o" x="466.5" y="1615.2"/><use href="#g" x="466.5" y="1628.5"/><use href="#t" x="477.2" y="1626.9"/><use href="#g" x="454.9" y="1630.2"/><use href="#g" x="489.2" y="1626.9"/></g>
<path d="M482.4 1678.1h1.5M488.7 1684.5h0.8M456.3 1689.9h0.9M479.2 1667h1.2M481.2 1680.9h1.2M474.1 1670.8h1.2M480.7 1686.5h1.5M481.6 1671.6h1.9M474.4 1700.3h2.1M468.5 1676.9h1.3M454.1 1682.5h2.1M453.9 1677.4h1.7M485.1 1673.3h0.9M465.8 1667.6h2.2M483.6 1670.4h1.4M454.2 1674.4h1.4M465.7 1675.1h1.5M481.8 1681.2h1.3M454.5 1666.4h0.9M473.2 1692.3h0.9M465.8 1683.6h1.7M457.2 1670.8h1.7M476.7 1686.6h1.1M454.1 1666.5h2.2M471.9 1672.6h1.3M467.3 1667.8h1.9M457.8 1666.8h1.6M485.7 1675.5h1.1M472.1 1672.1h0.8M486.6 1674.4h1.6M484.9 1672.9h1.5M450.9 1669.7h1.8M478.6 1680.1h1M459.3 1677.1h0.9M479.4 1693.4h2M455.2 1677.5h1.2M486.4 1681.1h1.2M450.2 1666.5h0.8M455.3 1668.6h2M460.1 1675.8h1.5M488 1678.8h1.3M455.3 1686.9h0.8M478.7 1676.7h1M487.8 1682.9h1.9M474.9 1671.3h1.6M475.5 1667.7h1.5M464.4 1671.6h1.4M486.1 1678.1h1.3M479.2 1667.1h1.1M484.4 1676.2h1.2M478.9 1673.2h0.8M465.6 1667.6h1M490.7 1676.5h1.9M487.5 1668.2h2.1M489 1692.4h1.2M462.3 1674h1M455.3 1668.7h1.1M490.2 1669.9h1.9M460.9 1682h1.3M464.5 1715.6h1.5M468.5 1675h1.4M456.2 1687.3h1.4M452.7 1668.9h1.7M475 1675.5h1.3M483.7 1681.2h1.9M466.5 1677h1.4M451 1688.3h1.1M479.7 1685.8h2M451.5 1669.2h0.8M451 1675.5h1.7M480.9 1687.4h1.9M465.1 1673.2h1.4M470.4 1676.9h2M484.5 1668.6h1.1M487.7 1672h1.2M480.1 1666.5h1.4M458.5 1718.9h1.2M460.8 1670h1.5M468.5 1671.7h2M459.6 1672.6h1.6M479 1668.8h1.1M487.4 1681.7h1.9M480.8 1691.9h1.5M483.7 1667.8h1.1M481.3 1704.8h1.9M487.6 1689h1.1M452.8 1680h1.9M457.3 1682.3h2.2M483.4 1676.5h1.8M472.4 1666.3h1.5M490.1 1672h1.3M471.1 1666h1.7M469.9 1674.1h1.9M468.8 1678.1h1.9M457.8 1666.2h1.6M466.3 1666.4h1.3M468.9 1673.4h0.9M490.6 1674.2h0.9M461.3 1689h1.6M471.4 1675.3h1.8M463.4 1715.1h1.6M462.8 1677.1h1.8M476.6 1681.5h1.5M452.7 1667.1h1M460.5 1681.1h1.5" stroke="#fff" stroke-width="1.2" opacity=".8"/>
<path d="M492.7 1895.3L492.5 1891.7L492.9 1888.6L492.1 1884.6L492.7 1881.8L492.8 1877.5L492.1 1874.9L492.2 1870.8L492.3 1867.6L492.5 1864.6L492.7 1861.9L493 1858.4L491.7 1853.9L491.9 1850.3L492.7 1847.2L492.3 1844L492.7 1840.6L491.9 1836.4L492.3 1833.2L492.9 1830.1L493 1825.8L492 1822.7L492.1 1818.9L492.8 1815.6L492.6 1811.8L492 1808.9L492.1 1805.1L492.9 1802.2L492 1799.5L492.1 1796.5L492.2 1793.7L492.7 1789.9L492.6 1787.3L491.9 1784.6L492.2 1781.8L491.8 1777.5L492.1 1774L491.9 1770.6L491.8 1766.2L491.7 1762.2L492.2 1758.2L492.6 1755.6L492.5 1751.2L493 1748L492.1 1745.2L492.8 1741.9L492.7 1737.9L492.8 1733.6L492.6 1730.6L492 1727.5L492.8 1723.5L492.1 1719.7L492.5 1716.6L492.4 1713L492.4 1710L493.1 1706.2L492.9 1702.3L492.4 1698.9L492 1696L492.4 1692.4L493.4 1693.7L494.6 1689.2L495.8 1693L496.8 1699.4L497.7 1694.9L498.9 1694.5L500.6 1689.1L501.8 1689.8L502.9 1689.6L504.7 1694.6L505.8 1691.8L507.1 1689.8L508.5 1699.9L509.9 1691.3L511.4 1689.4L512.8 1688.1L514 1690.5L515.6 1691L516.8 1690.7L518.7 1688.9L520.1 1693L521.1 1687L522 1687.9L523 1691.7L524.8 1687.4L525.8 1690.3L526.8 1688.7L528.2 1689.6L529.4 1688.1L531.2 1689L532.7 1691.6L532.7 1896L530.8 1895.7L529 1897L527.8 1897.1L525.9 1897.3L523.6 1895.8L522.4 1895.8L520.4 1895.7L519.2 1897.3L517.2 1895.9L515.1 1897.2L513.5 1897L511.9 1896.3L509.6 1895.6L507.6 1896.3L506.3 1896.5L504.3 1895.8L502.9 1896.5L500.5 1895.7L499.1 1895.7L497.4 1895.9L495.9 1896.4L494.5 1896.8L493.2 1896.2z" fill="#6495ED" stroke="#6495ED" stroke-width="0.8"/>
<g stroke="#6495ED"><use href="#g" x="517.5" y="1645.1"/><use href="#t" x="499" y="1658.2"/><use href="#c" x="524.1" y="1681.4"/><use href="#p" x="526.1" y="1659.6"/><use href="#g" x="504.7" y="1619.5"/><use href="#g" x="499.5" y="1661.1"/><use href="#c" x="512.3" y="1686"/><use href="#g" x="501.9" y="1634.3"/><use href="#t" x="496.7" y="1680.9"/><use href="#t" x="528.5" y="1681.1"/><use href="#c" x="514.5" y="1666.2"/><use href="#g" x="527.1" y="1665.5"/><use href="#c" x="510.7" y="1637.7"/><use href="#p" x="531.1" y="1681.7"/><use href="#t" x="529.7" y="1691.3"/><use href="#t" x="526.1" y="1671.4"/><use href="#g" x="512.6" y="1692.7"/><use href="#g" x="505.7" y="1682.5"/><use href="#s" x="521.4" y="1682"/><use href="#t" x="525" y="1678.3"/><use href="#g" x="503.1" y="1689.2"/><use href="#g" x="503.7" y="1695.1"/><use href="#g" x="512.6" y="1673.1"/><use href="#t" x="515.2" y="1675.9"/><use href="#t" x="530.4" y="1682.5"/><use href="#c" x="508.1" y="1687.1"/><use href="#t" x="509.9" y="1633.6"/><use href="#g" x="518.4" y="1691.2"/><use href="#g" x="519.9" y="1693.1"/><use href="#g" x="527" y="1648"/><use href="#p" x="520.6" y="1691.2"/><use href="#g" x="523.4" y="1671.1"/><use href="#t" x="514.1" y="1673.2"/><use href="#c" x="524.2" y="1693.6"/><use href="#t" x="514.5" y="1695"/><use href="#g" x="497.3" y="1602.1"/><use href="#p" x="510.7" y="1687.1"/><use href="#g" x="511.9" y="1664.4"/><use href="#g" x="506.3" y="1694.8"/><use href="#g" x="508.4" y="1660.5"/><use href="#s" x="500.7" y="1678.9"/><use href="#o" x="509" y="1668.8"/><use href="#p" x="518.7" y="1671.7"/><use href="#g" x="529.9" y="1644.9"/><use href="#g" x="530.1" y="1694.4"/><use href="#g" x="517" y="1641.2"/><use href="#o" x="518.5" y="1617.6"/><use href="#s" x="508" y="1695.5"/><use href="#t" x="505.7" y="1696.1"/><use href="#t" x="523.4" y="1649"/><use href="#t" x="501.4" y="1636.3"/><use href="#t" x="522.5" y="1653.8"/><use href="#g" x="505.4" y="1694.7"/><use href="#g" x="505.9" y="1684.6"/><use href="#o" x="498.9" y="1663.2"/><use href="#g" x="496.6" y="1628.4"/><use href="#g" x="517.6" y="1673.2"/><use href="#s" x="504.2" y="1687.6"/><use href="#c" x="514.9" y="1692.2"/><use href="#t" x="520.7" y="1680.6"/><use href="#g" x="509.6" y="1691.7"/><use href="#t" x="529" y="1686.9"/><use href="#c" x="525.8" y="1692"/><use href="#p" x="523.7" y="1650.2"/><use href="#g" x="503.9" y="1681"/><use href="#t" x="499.9" y="1674.6"/><use href="#s" x="497.1" y="1669.8"/><use href="#c" x="512.6" y="1641.1"/><use href="#s" x="507.7" y="1679.6"/><use href="#g" x="505.2" y="1649.8"/><use href="#g" x="519.9" y="1654.9"/><use href="#t" x="531.1" y="1686.5"/><use href="#c" x="529.8" y="1657.7"/><use href="#c" x="513.7" y="1662.2"/><use href="#t" x="515" y="1666.8"/><use href="#g" x="501.7" y="1631"/><use href="#o" x="518.2" y="1694.4"/><use href="#t" x="521.9" y="1689.6"/><use href="#g" x="531.8" y="1676.5"/><use href="#s" x="496.7" y="1681.4"/><use href="#g" x="511.7" y="1693.3"/><use href="#t" x="503.9" y="1680.8"/><use href="#g" x="509.2" y="1662"/><use href="#g" x="521" y="1664.9"/><use href="#g" x="510.4" y="1695.3"/><use href="#c" x="518.4" y="1668.4"/><use href="#t" x="520.1" y="1615.4"/><use href="#g" x="515.6" y="1691.7"/><use href="#g" x="500.5" y="1662.4"/><use href="#t" x="497.7" y="1665.4"/><use href="#c" x="506.6" y="1639"/><use href="#s" x="502" y="1679.7"/><use href="#g" x="501.3" y="1644.1"/><use href="#g" x="506.7" y="1670.9"/><use href="#t" x="508.4" y="1659.9"/><use href="#s" x="503.4" y="1676.5"/><use href="#p" x="526.4" y="1616.1"/><use href="#g" x="524.5" y="1679.6"/><use href="#g" x="525.3" y="1657.9"/><use href="#s" x="520.6" y="1675.2"/><use href="#g" x="531.2" y="1632.5"/><use href="#c" x="530.3" y="1606"/><use href="#t" x="531.5" y="1601.6"/><use href="#t" x="531.3" y="1656.4"/><use href="#p" x="520.2" y="1662.1"/><use href="#g" x="529.7" y="1518.8"/><use href="#g" x="529.7" y="1538.7"/><use href="#g" x="529.7" y="1550.4"/><use href="#g" x="499.8" y="1544.7"/><use href="#t" x="501.5" y="1569.3"/><use href="#g" x="500.8" y="1572"/><use href="#p" x="496.5" y="1576"/><use href="#g" x="529.7" y="1583.6"/><use href="#s" x="499.1" y="1592.6"/><use href="#p" x="499.1" y="1583.6"/><use href="#g" x="525.7" y="1594.3"/><use href="#t" x="507.1" y="1600.3"/><use href="#o" x="526.4" y="1607.9"/><use href="#g" x="534.7" y="1603.6"/><use href="#p" x="501.5" y="1615.2"/><use href="#t" x="502.5" y="1621.9"/><use href="#g" x="533.1" y="1620.2"/><use href="#g" x="524.8" y="1623.5"/></g>
<path d="M497 1721.9h2M518 1691.8h1M507.7 1697.2h1.6M496.4 1697.7h1.3M512.6 1717.9h1.7M517.7 1704.9h2.1M515.5 1716.9h1M506.9 1710.1h1.6M508.5 1689.3h1M519 1691.7h1.8M496.2 1691.9h1.2M499.7 1692.1h0.9M503.3 1699.2h1.1M502.8 1685.8h2M498.2 1690.7h0.8M519.8 1685.3h1.8M498.2 1691.4h1.1M520.5 1687.5h1.5M524.6 1700.5h2.1M498.4 1695h1M499.6 1705h1.3M515.5 1688.7h1.1M509.8 1720.2h1.4M527.4 1685.1h2.2M512.6 1705.3h1.9M510.7 1691.2h0.8M503.5 1703.3h2.1M526.3 1699.7h1.6M528.6 1715.7h1.8M515.3 1709.3h1.4M501.2 1693.5h1.8M507.1 1702.7h1.9M521.4 1691.2h0.8M497.3 1690.7h1.3M523.2 1695.6h1.6M509.2 1685.3h2.1M527.2 1692.5h0.9M514.6 1692.8h1.3M513.1 1691.4h1.1M503.7 1689.8h1.5M513.2 1685.6h2.1M526.5 1691.3h1.1M526.4 1744.2h1M497.9 1699.8h1.7M500.8 1687.1h1.2M515.1 1715.3h2M526.6 1688.3h1M502.1 1687.1h2M525.9 1689.6h1.2M527.5 1700h1.6M524 1687.1h2.1M500.5 1716.6h1.8M504.3 1693.1h0.9M523.6 1691.9h1.5M519.4 1688h1.5M509.9 1697h2.1M516.1 1692.6h1.1M523.8 1689.9h1.3M497.7 1708.5h1.7M507.8 1696.1h1.2" stroke="#fff" stroke-width="1.2" opacity=".8"/>
<path d="M529.5 1895.3L529.8 1892L530.6 1888.5L530.2 1884.7L529.4 1881.2L529.3 1876.7L529.9 1872.4L530.2 1868.4L530.1 1864.2L530 1860.7L530.2 1858.2L530 1855.1L530.2 1850.7L529.7 1848.2L530.2 1843.9L529.8 1840.3L530.2 1836L529.6 1832.9L530.2 1830.3L530.7 1825.9L529.5 1822.8L529.4 1819.2L530 1815.7L530.1 1812.4L529.7 1808.6L530.3 1805.2L530.1 1802.2L530 1798.2L529.8 1794.6L530.1 1791.3L529.5 1788.3L529.7 1784.9L529.5 1781.8L530.3 1778.9L530.1 1774.5L529.9 1771.6L530.2 1767.5L529.7 1763.8L530 1760.9L530.2 1757.3L530.4 1753.7L529.7 1749.6L529.9 1746.3L529.9 1743.2L530 1739.2L531.7 1740.3L532.6 1740.3L533.8 1741.8L535.4 1738.8L536.8 1740.8L537.9 1739.4L539.3 1745.9L540.3 1743.2L541.2 1744.2L542.9 1746.2L544.2 1743.4L545.2 1746.4L546.2 1742.2L548 1745.4L549.2 1748.1L550.7 1748.6L551.9 1745.7L553.8 1746.8L554.7 1744.9L555.8 1744.7L557.6 1749L559.4 1746.3L561.1 1751.6L562.8 1748.5L564.4 1746.2L565.6 1748.1L567.1 1749.2L569 1746.5L570.7 1750.1L571.7 1747.4L573.5 1747.6L574.5 1752.3L575.8 1754.2L577.1 1750.8L578.7 1750.5L580.4 1755.5L582.2 1749.3L583.9 1752.5L585.1 1752.4L587 1754.3L588.5 1752.2L589.7 1757.2L591.1 1753.4L592.9 1755L594 1753L595.6 1753.5L597.1 1758.6L598.7 1755.1L599.9 1752.6L600.8 1756L601.8 1753.8L602.8 1756.7L603.8 1755L605 1758.5L606.4 1758.8L607.4 1757.8L608.4 1755.7L609.4 1753.2L610.7 1753L612 1753.7L613 1755.3L614.1 1757.7L615.3 1754.4L616.5 1756.7L618.2 1751.8L619.8 1766.2L621.1 1754L622.7 1754.7L623.8 1761.1L625 1750.5L626.7 1752.3L627.9 1753.5L629.2 1764.3L630.4 1750.9L631.4 1753.2L633.1 1749.8L634.1 1751.7L635.6 1751.6L636.6 1753.7L637.9 1752.2L639.5 1752.4L641.1 1752.8L642.2 1754.2L643.9 1753.3L644.9 1751.7L646.6 1762.2L647.6 1751.9L649.2 1748.8L650.3 1753.7L651.3 1750.1L652.3 1754.5L653.4 1748.3L654.8 1752.4L656 1754.5L657.5 1753L658.8 1749.6L660.7 1748.4L662 1752.6L663.7 1747.2L665.3 1751.8L667 1752L667.9 1750.5L669.3 1753L670.9 1751.7L671.6 1753.7L671.9 1757.9L671.2 1760.9L671 1764.4L671.6 1767.5L671.6 1771.9L671.6 1775L671.1 1779.5L671.9 1782L671.6 1785.6L670.9 1789.1L671.7 1793L671.5 1797.3L671.9 1801.7L671.8 1804.4L671.9 1808.7L671.1 1811.9L671.4 1816L671.8 1820L671.6 1823.6L670.7 1827.6L671 1830.1L671.7 1833L671.3 1835.8L670.9 1839.9L670.9 1843.5L671.9 1847.1L670.8 1849.9L671.7 1853.7L671.6 1856.8L671 1860.1L671.7 1863.5L672 1867.6L671.1 1871.3L671.2 1874.3L671.1 1877.5L671.5 1881.5L671.4 1884.5L672 1887.3L670.9 1890.4L670.6 1893.8L671.3 1897.2L669.4 1896.1L668.2 1896.9L667 1895.7L665.2 1896.5L664 1897L662.4 1896.8L661.2 1896.7L658.9 1896.3L657 1896L655.7 1896.2L653.7 1896.4L651.9 1897.1L649.9 1895.7L648.1 1896.4L646.7 1896.6L645.2 1896.2L643.5 1895.8L641.7 1897.2L640.4 1896.9L639.2 1895.8L637.4 1897L636.2 1896.7L634.9 1897.2L633.6 1896.4L631.3 1897L629.8 1896.3L627.8 1895.8L626.3 1896L624.3 1895.8L623 1896.2L621.2 1895.7L619.8 1896.9L618.1 1896.2L616.5 1896.1L614.6 1896L613.3 1896.2L611.4 1896.6L610 1896.1L608.8 1895.6L606.6 1897L604.2 1896.9L602.5 1895.6L600.4 1896L599 1896.8L597.1 1897.2L595.5 1895.7L593.9 1895.8L592.7 1896L590.4 1896L589.2 1896.1L586.9 1897L584.7 1896.9L583.3 1896.1L582 1895.9L580.4 1897L578.2 1897.1L576.5 1896L574.4 1895.9L572.4 1896.3L571.2 1895.7L568.9 1895.9L567.1 1896.3L565.4 1897.1L563.7 1895.7L561.5 1897L559.1 1896.1L557.5 1896.6L555.2 1895.9L553 1895.8L551.7 1896.7L549.3 1896.8L547.1 1895.7L545 1896.8L542.8 1896.4L540.9 1896L539 1897.2L537.5 1896.8L535.4 1896.7L534 1896.8L532 1896.8z" fill="#00008B" stroke="#00008B" stroke-width="0.8"/>
<g stroke="#00008B"><use href="#g" x="541.1" y="1723.5"/><use href="#t" x="643.8" y="1713.9"/><use href="#t" x="655.3" y="1728.2"/><use href="#g" x="574.8" y="1753.8"/><use href="#c" x="573" y="1741.2"/><use href="#c" x="664.8" y="1714.7"/><use href="#g" x="655.6" y="1736.4"/><use href="#s" x="587.3" y="1713.6"/><use href="#c" x="650.6" y="1745.7"/><use href="#s" x="572" y="1749.2"/><use href="#g" x="632" y="1732.8"/><use href="#c" x="599.8" y="1755.5"/><use href="#g" x="568.4" y="1749.2"/><use href="#t" x="585.6" y="1752.4"/><use href="#g" x="603.3" y="1736.7"/><use href="#s" x="556.8" y="1677.3"/><use href="#g" x="572.2" y="1749.1"/><use href="#g" x="622.8" y="1756.5"/><use href="#t" x="649.6" y="1752.3"/><use href="#t" x="564.8" y="1683.1"/><use href="#c" x="601.8" y="1753.2"/><use href="#g" x="614.9" y="1728"/><use href="#t" x="541.1" y="1656.8"/><use href="#g" x="653.2" y="1733.5"/><use href="#t" x="639.3" y="1709.3"/><use href="#g" x="579.2" y="1681.3"/><use href="#g" x="617.9" y="1754.5"/><use href="#g" x="660.2" y="1666"/><use href="#g" x="607.5" y="1736.8"/><use href="#g" x="548.5" y="1723.1"/><use href="#t" x="552.7" y="1716.9"/><use href="#g" x="550.9" y="1745.5"/><use href="#t" x="619.5" y="1756.5"/><use href="#g" x="541.4" y="1728.3"/><use href="#g" x="662.6" y="1754.1"/><use href="#c" x="616.4" y="1750"/><use href="#g" x="591.5" y="1746.8"/><use href="#t" x="656" y="1713.4"/><use href="#t" x="607.6" y="1734.6"/><use href="#g" x="617.9" y="1744.1"/><use href="#g" x="656.4" y="1750.3"/><use href="#p" x="615.4" y="1738.6"/><use href="#g" x="642.9" y="1749.5"/><use href="#g" x="608.1" y="1754.3"/><use href="#s" x="601.3" y="1748.3"/><use href="#t" x="649.9" y="1727.6"/><use href="#g" x="565" y="1747"/><use href="#g" x="626.3" y="1728.2"/><use href="#c" x="549.8" y="1708.3"/><use href="#t" x="631.5" y="1713"/><use href="#g" x="601.2" y="1725.6"/><use href="#c" x="652" y="1699.8"/><use href="#t" x="631.8" y="1743.4"/><use href="#t" x="590.8" y="1756.6"/><use href="#p" x="597.9" y="1714.8"/><use href="#g" x="593.5" y="1742"/><use href="#t" x="583" y="1738.3"/><use href="#s" x="624.1" y="1741.4"/><use href="#s" x="639.9" y="1741.7"/><use href="#c" x="621.7" y="1742.1"/><use href="#p" x="663.6" y="1707.3"/><use href="#g" x="596.6" y="1727"/><use href="#t" x="592.6" y="1733.6"/><use href="#c" x="611.7" y="1686.5"/><use href="#c" x="549.8" y="1727.8"/><use href="#t" x="601.5" y="1759.4"/><use href="#p" x="640.3" y="1736.5"/><use href="#t" x="609.8" y="1748.1"/><use href="#c" x="655" y="1736.6"/><use href="#c" x="636.4" y="1756.6"/><use href="#c" x="587.7" y="1752.4"/><use href="#p" x="619.7" y="1758.8"/><use href="#t" x="660" y="1714.5"/><use href="#c" x="544.2" y="1701"/><use href="#g" x="557" y="1730.8"/><use href="#c" x="535.1" y="1742.7"/><use href="#g" x="657.1" y="1743.8"/><use href="#t" x="625.6" y="1741.8"/><use href="#g" x="586.8" y="1736.2"/><use href="#c" x="574.3" y="1708.8"/><use href="#g" x="638.9" y="1731.2"/><use href="#g" x="618.5" y="1729.7"/><use href="#o" x="611.8" y="1682.5"/><use href="#s" x="665.8" y="1754.2"/><use href="#t" x="554.1" y="1732.7"/><use href="#g" x="611.5" y="1732.7"/><use href="#o" x="646.3" y="1725.9"/><use href="#g" x="550.6" y="1749.9"/><use href="#g" x="617.8" y="1714"/><use href="#t" x="588.6" y="1749"/><use href="#g" x="573.3" y="1753.1"/><use href="#t" x="654.1" y="1721.2"/><use href="#t" x="599.5" y="1706.2"/><use href="#t" x="616.5" y="1754.9"/><use href="#g" x="535.8" y="1690.4"/><use href="#g" x="584.1" y="1744"/><use href="#g" x="583.6" y="1748.8"/><use href="#c" x="593.3" y="1748.8"/><use href="#g" x="655.2" y="1699.4"/><use href="#t" x="644.8" y="1739.7"/><use href="#g" x="653.8" y="1691.8"/><use href="#g" x="556.7" y="1744"/><use href="#g" x="664.5" y="1690"/><use href="#g" x="628.6" y="1716.5"/><use href="#c" x="558.3" y="1706.6"/><use href="#g" x="579.4" y="1755.1"/><use href="#s" x="657.2" y="1744.2"/><use href="#g" x="537.9" y="1735.8"/><use href="#t" x="578.7" y="1745"/><use href="#g" x="656.6" y="1751.7"/><use href="#s" x="539.2" y="1735.1"/><use href="#t" x="624.8" y="1709.9"/><use href="#t" x="627.2" y="1751.4"/><use href="#g" x="651.9" y="1724.3"/><use href="#g" x="589.1" y="1734.6"/><use href="#g" x="591.8" y="1753.6"/><use href="#g" x="654.9" y="1755.5"/><use href="#t" x="599.3" y="1741.5"/><use href="#s" x="552.4" y="1722.5"/><use href="#c" x="633.9" y="1725.1"/><use href="#t" x="558.9" y="1730.2"/><use href="#g" x="568.6" y="1741.5"/><use href="#g" x="662.1" y="1753"/><use href="#t" x="620.4" y="1670.5"/><use href="#g" x="580.3" y="1752.1"/><use href="#t" x="596.8" y="1724.6"/><use href="#g" x="604" y="1744.5"/><use href="#g" x="550.3" y="1746"/><use href="#t" x="660.4" y="1694.4"/><use href="#g" x="554.7" y="1723.6"/><use href="#g" x="578.3" y="1724.6"/><use href="#g" x="566" y="1702.5"/><use href="#t" x="560.5" y="1748.3"/><use href="#p" x="643.7" y="1756.3"/><use href="#t" x="557.3" y="1711.5"/><use href="#t" x="658.3" y="1721"/><use href="#c" x="653.6" y="1734.5"/><use href="#g" x="656.4" y="1746.6"/><use href="#t" x="626.9" y="1705.2"/><use href="#g" x="610" y="1741.3"/><use href="#c" x="612.9" y="1736.2"/><use href="#t" x="660.1" y="1711.7"/><use href="#g" x="609.4" y="1726.8"/><use href="#t" x="661.4" y="1744.9"/><use href="#t" x="651.9" y="1709.6"/><use href="#t" x="610.8" y="1737.2"/><use href="#t" x="587.2" y="1701.6"/><use href="#c" x="551.3" y="1709.5"/><use href="#p" x="595.5" y="1749.9"/><use href="#g" x="615.5" y="1754.1"/><use href="#c" x="546" y="1739.8"/><use href="#p" x="607.3" y="1741.2"/><use href="#t" x="615.7" y="1746.2"/><use href="#c" x="588.7" y="1694.1"/><use href="#c" x="630.4" y="1719.2"/><use href="#g" x="662.1" y="1708.6"/><use href="#c" x="658.5" y="1692.1"/><use href="#t" x="643.6" y="1744.5"/><use href="#c" x="629" y="1742.3"/><use href="#g" x="644.6" y="1749.9"/><use href="#s" x="607.7" y="1756.2"/><use href="#g" x="639.1" y="1740.7"/><use href="#g" x="662.5" y="1687.3"/><use href="#o" x="573.6" y="1752.6"/><use href="#c" x="608.5" y="1709.7"/><use href="#g" x="538" y="1728.4"/><use href="#t" x="581.9" y="1720.5"/><use href="#s" x="619.8" y="1744.9"/><use href="#g" x="644" y="1743.6"/><use href="#g" x="612.3" y="1757.9"/><use href="#g" x="564.9" y="1715.2"/><use href="#c" x="582.7" y="1750.2"/><use href="#g" x="609.9" y="1744.1"/><use href="#g" x="605.3" y="1721.3"/><use href="#t" x="571.2" y="1710.2"/><use href="#t" x="623.6" y="1738"/><use href="#t" x="567.7" y="1737"/><use href="#o" x="602.5" y="1753.7"/><use href="#t" x="538.7" y="1722.9"/><use href="#c" x="614.2" y="1751"/><use href="#t" x="664.3" y="1754"/><use href="#t" x="614.1" y="1753.7"/><use href="#g" x="660.1" y="1726.7"/><use href="#t" x="567.7" y="1702.4"/><use href="#t" x="582.3" y="1745"/><use href="#g" x="536" y="1697.2"/><use href="#c" x="612.1" y="1745.8"/><use href="#g" x="583" y="1735.2"/><use href="#c" x="573.8" y="1731.1"/><use href="#g" x="557.8" y="1730.4"/><use href="#t" x="605.2" y="1748.7"/><use href="#s" x="564.9" y="1725"/><use href="#t" x="662.2" y="1747.8"/><use href="#g" x="623.8" y="1752.8"/><use href="#g" x="554.9" y="1705.9"/><use href="#t" x="582.2" y="1755.1"/><use href="#p" x="653.6" y="1729.4"/><use href="#g" x="594.9" y="1746.9"/><use href="#t" x="547.5" y="1723.7"/><use href="#g" x="632.2" y="1704.4"/><use href="#g" x="571.4" y="1740.6"/><use href="#t" x="601.3" y="1760.7"/><use href="#t" x="633" y="1753.8"/><use href="#g" x="652" y="1705.7"/><use href="#g" x="579.5" y="1738.6"/><use href="#s" x="578.5" y="1732.2"/><use href="#g" x="586.7" y="1741.5"/><use href="#t" x="595.7" y="1741.8"/><use href="#t" x="542.9" y="1745.3"/><use href="#g" x="616" y="1718.2"/><use href="#g" x="592.7" y="1740.5"/><use href="#s" x="614.4" y="1711.4"/><use href="#t" x="538.8" y="1724.5"/><use href="#g" x="556.1" y="1738.2"/><use href="#g" x="598.2" y="1715.5"/><use href="#o" x="575.9" y="1755.2"/><use href="#s" x="645.9" y="1750"/><use href="#g" x="578.8" y="1678.8"/><use href="#c" x="590.6" y="1563.7"/><use href="#g" x="603.9" y="1563.7"/><use href="#g" x="624.6" y="1561.3"/><use href="#b" x="604.6" y="1581"/><use href="#t" x="590.6" y="1584.3"/><use href="#t" x="537.4" y="1605.2"/><use href="#g" x="553" y="1602.6"/><use href="#t" x="577.3" y="1607.9"/><use href="#o" x="604.6" y="1607.2"/><use href="#t" x="621.9" y="1615.9"/><use href="#t" x="639.5" y="1624.2"/><use href="#g" x="593.9" y="1626.9"/><use href="#c" x="619.6" y="1630.2"/><use href="#g" x="621.9" y="1626.2"/><use href="#g" x="539.1" y="1634.2"/><use href="#g" x="558" y="1632.2"/><use href="#g" x="583" y="1633.5"/><use href="#c" x="596.3" y="1636.2"/><use href="#s" x="605.3" y="1641.8"/><use href="#c" x="621.9" y="1640.2"/><use href="#c" x="545.7" y="1643.5"/><use href="#t" x="564.7" y="1653.5"/><use href="#g" x="590.6" y="1652.8"/><use href="#c" x="596.3" y="1655.1"/><use href="#g" x="604.6" y="1650.8"/><use href="#g" x="539.1" y="1658.5"/><use href="#g" x="550.7" y="1660.8"/><use href="#c" x="538.1" y="1664.1"/><use href="#g" x="569.7" y="1664.1"/><use href="#o" x="575.6" y="1663.5"/><use href="#c" x="621.9" y="1660.1"/><use href="#g" x="607.9" y="1660.1"/><use href="#t" x="599.6" y="1669.4"/><use href="#g" x="612.9" y="1668.5"/><use href="#g" x="622.2" y="1671.1"/><use href="#t" x="632.9" y="1668.5"/><use href="#g" x="662.1" y="1663.5"/><use href="#g" x="558" y="1673.4"/><use href="#t" x="569.7" y="1676.8"/><use href="#t" x="584" y="1679.4"/><use href="#b" x="637.9" y="1681.8"/><use href="#g" x="539.7" y="1688.4"/><use href="#g" x="549.7" y="1687.4"/><use href="#t" x="568" y="1686.1"/><use href="#g" x="577.3" y="1688.4"/><use href="#s" x="586.3" y="1689.4"/><use href="#p" x="599.6" y="1683.4"/><use href="#t" x="616.2" y="1686.7"/><use href="#s" x="659.5" y="1692.4"/><use href="#t" x="663.8" y="1695.1"/></g>
<path d="M628.2 1758.6h1.5M659.5 1753.6h1.9M604.3 1783.2h1.2M565.8 1750.8h0.8M654.8 1745.4h1.3M572.8 1745.5h1.4M581.5 1753.2h2.1M538.8 1746.9h1M649.1 1753.7h0.9M657.2 1747h1.1M579.7 1761.9h1.7M656.7 1752h1.8M606.8 1750.5h1.6M563.2 1753.2h1.2M625.8 1748h2.1M609.6 1770.8h2M616.5 1808.3h1.9M643.6 1760.3h0.8M649 1754.8h1M571.8 1752.9h1.6M563.6 1768.8h2.1M658.1 1751.4h1.6M625.5 1747.9h1.3M617.1 1765.4h0.9M572.1 1746.4h1.8M572.8 1745.6h1.7M614.9 1754.8h0.9M658.7 1747.5h1.9M613.2 1754.9h0.8M544.5 1739.5h1.8M634.7 1755h1.8M659.7 1754.3h0.9M650.2 1759.9h1.2M647.5 1780.1h1.2M616.9 1752h1.4M594.7 1776.4h0.9M637.7 1747.4h1.9M616.7 1767.8h1.1M592.8 1753.7h1.4M580.9 1750.6h2M619.1 1752h2.1M544.1 1744.4h1.3M621.7 1807.8h0.8M603.1 1769.9h1.1M565.7 1768h2.1M633.9 1760.1h2.1M656.4 1755h1.9M553.6 1746.3h1.2M578.4 1755.7h1.1M625.7 1753.3h1.8M639 1748.3h1.9M646.7 1778h0.8M655.8 1755.9h1.1M609.2 1793.8h1M549.7 1743.9h1.3M635.4 1770.2h2.1M654.3 1745.9h2M575.2 1764.6h0.9M642.2 1759.4h1.8M563 1751h0.8M597.1 1754.2h2.1M651.4 1764.8h0.9M612.6 1757.1h2M633 1755.3h1.2M649.4 1748.7h1.2M603.5 1761.3h2M666.9 1758.6h1.5M536.8 1742.8h0.9M573 1749.6h1.4M565.1 1763.8h1.2M590.9 1752.6h2.1M578.5 1746.5h2.2M656.5 1748.6h1.2M666.2 1762.4h1.5M593.7 1756.4h1.4M550.5 1747.1h1.4M640.6 1748.4h2.2M559 1757.7h1.2M577 1805.4h1M617.8 1752.4h1.9M604.1 1756.7h1.3M601.3 1758h2.1M553 1753.4h1.8M554.7 1757.5h0.8M618.3 1756.7h1M540.2 1757.6h1.8M642.6 1749.7h1.2M549.5 1746.1h2M644.2 1762.1h0.9M558.9 1747.2h1.9M562.7 1752.1h1.3M544.5 1761.1h2M625.7 1755.1h1.2M602.6 1769.9h0.9M626.5 1807.3h1.2M670.1 1762.1h0.9M551.4 1765.9h1.3M669.2 1772.2h1.8M590.9 1753.5h1.4M556.7 1745.7h1.3M584.4 1792.3h1.6M632.2 1751.3h1.7M583.8 1781h2.1M612.5 1773.8h1.8M599.9 1789.3h1.5M550.8 1749.1h1.9M573.1 1748.4h1.2M616 1753h0.8M539.4 1774.3h2.1M625.4 1764.9h1.4M656.6 1754.9h0.8M636.8 1749.6h1.7M635.4 1775.3h1.7M611.3 1756.8h1M561.7 1757.9h1.9M605.4 1782.6h0.8M574.9 1757.8h2.2M668.9 1747.5h1.6M572.4 1775.9h1.3M588.1 1751.1h1.4M630.4 1752h1.2M576.7 1746.3h0.8M610.6 1763.1h1.7M632.2 1786.2h1.1M562.5 1788h1.1M657.7 1752.1h1.5M624.1 1753.2h2.1M650.5 1781.7h1.3M602.5 1775.6h1M663.3 1757.1h0.9M574.1 1777.1h0.9M586.8 1778.8h1.7M536.7 1745.2h1.3M585.3 1766.2h2M642.4 1757.7h2M535.2 1740.8h1.4M668.2 1754h2.2M645.3 1748.5h1.9M611.7 1761.8h2M537.2 1741.7h1M660.5 1751.3h1M608.7 1760.1h1.6M572.6 1759.7h1.3M539.7 1740.9h1.7M555.8 1746h1M607.1 1765.2h1.3M647.9 1762.8h1.2M622.7 1777.1h2.1M616.1 1751.7h2M533.7 1751.7h2M601 1751.1h1.9M543.6 1738.5h1M553 1740.4h1.9M584.5 1773.7h1M667.3 1746.1h1.2M610.5 1806.6h1.7M637.9 1768h1.2M570.3 1758h0.9M591.7 1764.6h0.9M637.4 1757.9h1M624.6 1769.6h1.9M611.3 1760.8h1.2M595.7 1755.1h1.7M663.1 1754.2h1.4M562.2 1758.2h1.9M599.5 1751.4h2M569.5 1794.5h0.9M602.7 1753h1.3M581.8 1776.2h1.4M655.4 1781.8h2.2M564.1 1752.3h1M583.9 1764.7h1.1M536.1 1738.3h1.2M648.5 1753.7h2M561.6 1753.3h1.8M594.6 1751.5h1M596 1755.2h1.7M591.4 1758.7h1.9M548.8 1748.5h2.1M605.5 1757.6h1.2M576.2 1805.2h1.5M532 1739h2M562.2 1747.1h1.6M575.3 1753.3h1.9M662.6 1762.5h0.9M598.3 1764h1.4M650.7 1746.9h1.6M622.7 1750.6h1M544.6 1750.1h1.3M574.4 1785.3h1.7M610.9 1751h0.8M549.7 1752.7h0.8M539.2 1768.6h1.5M621.6 1753.1h1.3M571 1744.9h2.1M581.1 1750.7h1.8M570.8 1761.6h2M604.3 1775.5h0.9M565.5 1751.5h1.2M604.1 1778.4h1.1M624.6 1749.8h2M556.7 1761.3h2.1M654.9 1755.6h0.9M584.1 1785.9h2.2M594.7 1754.8h0.9M615.4 1753h1M644.8 1748h1.6M594.9 1764.4h1.5M539.8 1757.3h1.2M538.6 1753h2.1M639.3 1768.7h1.1M548.9 1761.8h1.5M551.7 1751.4h1.1M661.4 1775.6h0.9M653.5 1752.8h1.5M661.8 1776h1.5M549.5 1764.3h2M578.6 1752.9h1.7M591.2 1758.6h1.9M572.7 1760h2M533.6 1743.4h1.6M615 1749.4h2.1M635.7 1758.2h2.2M533.1 1758.9h2.2M534.9 1741.8h1.3M645.1 1749.1h1.8M651 1774.8h1.5M589.8 1758.9h2.1M654.6 1751.7h1.8M534.7 1739.1h1.4M557.8 1755.7h1.9M607 1751.8h1.8M651.1 1745.6h2.1M649.9 1750.5h1.4M584 1775.4h0.8M655.7 1757.7h2M599.4 1763.9h1M616.4 1749.1h1.2M565.5 1758.5h0.9M546.3 1746.6h1.7M613.4 1763.1h0.9M619.6 1759.5h1.2M616.9 1748.5h1.3M570.8 1745.3h1.6M613.8 1749h1.3M642.2 1747.5h1.7M535 1739h2.1M559.4 1749.1h1.7M618.2 1762.8h1.9M605.2 1765.9h1.2M556.1 1759.7h1.5M555.4 1757.7h2M585 1765.6h1.6M552.8 1741.3h1.9" stroke="#fff" stroke-width="1.2" opacity=".8"/>
</g>
<rect x="102.2" y="1393.8" width="589.0" height="520.2" fill="none" stroke="#333333" stroke-width="1.45"/>
<text x="89.6" y="1901.2" font-size="28.2" text-anchor="end" fill="#4D4D4D">0</text>
<text x="89.6" y="1804.2" font-size="28.2" text-anchor="end" fill="#4D4D4D">1</text>
<text x="89.6" y="1707.3" font-size="28.2" text-anchor="end" fill="#4D4D4D">2</text>
<text x="89.6" y="1610.3" font-size="28.2" text-anchor="end" fill="#4D4D4D">3</text>
<text x="89.6" y="1513.4" font-size="28.2" text-anchor="end" fill="#4D4D4D">4</text>
<text x="89.6" y="1416.4" font-size="28.2" text-anchor="end" fill="#4D4D4D">5</text>
<text x="159.9" y="1947.9" font-size="28.2" text-anchor="middle" fill="#3E4650">1</text>
<text x="225.7" y="1947.9" font-size="28.2" text-anchor="middle" fill="#3E4650">2</text>
<text x="281.2" y="1947.9" font-size="28.2" text-anchor="middle" fill="#3E4650">3</text>
<text x="323.6" y="1947.9" font-size="28.2" text-anchor="middle" fill="#3E4650">4</text>
<text x="369.7" y="1947.9" font-size="28.2" text-anchor="middle" fill="#3E4650">5</text>
<text x="425.2" y="1947.9" font-size="28.2" text-anchor="middle" fill="#3E4650">6</text>
<text x="475.8" y="1947.9" font-size="28.2" text-anchor="middle" fill="#3E4650">7</text>
<text x="515.7" y="1947.9" font-size="28.2" text-anchor="middle" fill="#3E4650">8</text>
<text x="599.9" y="1947.9" font-size="28.2" text-anchor="middle" fill="#3E4650">S</text>
<path d="M95 1890.3h6.9M95 1793.3h6.9M95 1696.4h6.9M95 1599.4h6.9M95 1502.5h6.9M95 1405.5h6.9M159.9 1914.3v6.9M225.7 1914.3v6.9M281.2 1914.3v6.9M323.6 1914.3v6.9M369.7 1914.3v6.9M425.2 1914.3v6.9M475.8 1914.3v6.9M515.7 1914.3v6.9M599.9 1914.3v6.9" stroke="#333333" stroke-width="1.45" fill="none"/>
<text x="396.3" y="1985.9" font-size="35.8" text-anchor="middle" fill="#000">Chromosome</text>
<text transform="translate(29.7 1654.8) rotate(-90)" font-size="36.1" text-anchor="middle" fill="#000">-log<tspan font-size="25.3" dy="7.3">10</tspan><tspan dy="-7.3">(p)</tspan></text>
<text x="730.6" y="1556.5" font-size="35.9" fill="#000">Model</text>
<g fill="none" stroke="#1a1a1a" stroke-width="1.25">
<use href="#o" x="750.9" y="1598.5"/>
<use href="#t" x="750.9" y="1639.2"/>
<use href="#s" x="750.9" y="1679.9"/>
<use href="#p" x="750.9" y="1721"/>
<use href="#g" x="750.9" y="1761.6"/>
</g>
<text x="788.3" y="1607.7" font-size="28.45" fill="#000">1-dom</text>
<text x="788.3" y="1648.8" font-size="28.45" fill="#000">Additive</text>
<text x="788.3" y="1690" font-size="28.45" fill="#000">Diplo-additive</text>
<text x="788.3" y="1731.2" font-size="28.45" fill="#000">Diplo-general</text>
<text x="788.3" y="1772.3" font-size="28.45" fill="#000">General</text>
</g>
</svg></body></html>
